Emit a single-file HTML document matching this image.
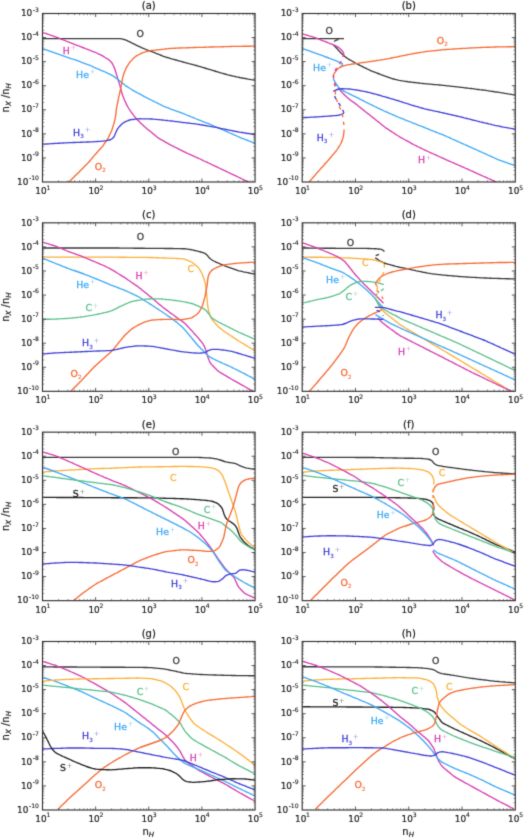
<!DOCTYPE html><html><head><meta charset="utf-8"><style>html,body{margin:0;padding:0;background:#fff;}svg{display:block;}text{font-family:"DejaVu Sans","Liberation Sans",sans-serif;}</style></head><body>
<div id="w">
<svg width="525" height="839" viewBox="0 0 525 839">
<rect width="525" height="839" fill="#fff"/>
<filter id="bl" x="0" y="0" width="525" height="839" filterUnits="userSpaceOnUse" color-interpolation-filters="sRGB"><feConvolveMatrix order="3" kernelMatrix="0.01690 0.09620 0.01690 0.09620 0.54760 0.09620 0.01690 0.09620 0.01690" divisor="1" edgeMode="none"/></filter>
<g filter="url(#bl)">
<g>
<clipPath id="ca"><rect x="42.50" y="13.50" width="212.55" height="168.50"/></clipPath>
<g clip-path="url(#ca)" fill="none" stroke-width="1.35" stroke-linejoin="round" stroke-linecap="butt">
<path d="M42.0 38.6 L43.5 38.6 L45.0 38.6 L46.5 38.6 L48.0 38.6 L49.5 38.6 L51.0 38.6 L52.5 38.6 L54.0 38.6 L55.5 38.6 L57.0 38.6 L58.5 38.6 L60.0 38.6 L61.5 38.6 L63.0 38.6 L64.5 38.6 L66.0 38.6 L67.5 38.6 L69.0 38.6 L70.5 38.6 L72.0 38.6 L73.5 38.6 L75.0 38.6 L76.5 38.6 L78.0 38.6 L79.5 38.6 L81.0 38.6 L82.5 38.6 L84.0 38.6 L85.5 38.6 L87.0 38.6 L88.5 38.6 L90.0 38.6 L91.5 38.6 L93.0 38.6 L94.5 38.6 L96.0 38.6 L97.5 38.6 L99.0 38.6 L100.5 38.6 L102.0 38.6 L103.5 38.6 L105.0 38.6 L106.5 38.6 L108.0 38.6 L109.5 38.6 L111.0 38.6 L112.5 38.6 L114.0 38.6 L115.5 38.6 L117.0 38.6 L118.5 38.6 L120.0 38.7 L121.5 38.9 L122.9 39.2 L124.4 39.6 L125.8 40.0 L127.2 40.6 L128.5 41.3 L129.9 41.9 L131.2 42.6 L132.6 43.3 L133.9 43.9 L135.2 44.6 L136.6 45.3 L137.9 45.9 L139.3 46.6 L140.7 47.2 L142.0 47.8 L143.4 48.4 L144.8 49.0 L146.2 49.6 L147.6 50.1 L149.0 50.6 L150.4 51.1 L151.8 51.6 L153.2 52.2 L154.6 52.7 L156.0 53.3 L157.4 53.8 L158.8 54.4 L160.2 55.0 L161.6 55.5 L162.9 56.1 L164.3 56.6 L165.8 57.1 L167.2 57.5 L168.6 57.9 L170.1 58.3 L171.5 58.8 L173.0 59.2 L174.4 59.6 L175.9 60.0 L177.3 60.4 L178.7 60.8 L180.2 61.2 L181.6 61.6 L183.1 62.0 L184.5 62.4 L186.0 62.8 L187.4 63.2 L188.9 63.6 L190.3 63.9 L191.8 64.3 L193.2 64.7 L194.7 65.1 L196.1 65.5 L197.6 65.9 L199.0 66.3 L200.4 66.7 L201.9 67.2 L203.3 67.6 L204.8 68.0 L206.2 68.5 L207.6 68.9 L209.1 69.3 L210.5 69.7 L211.9 70.2 L213.4 70.6 L214.8 71.0 L216.2 71.5 L217.7 71.9 L219.1 72.3 L220.6 72.8 L222.0 73.2 L223.4 73.6 L224.9 74.0 L226.3 74.4 L227.8 74.8 L229.2 75.1 L230.7 75.5 L232.2 75.8 L233.6 76.2 L235.1 76.5 L236.5 76.9 L238.0 77.2 L239.5 77.5 L240.9 77.8 L242.4 78.0 L243.9 78.3 L245.4 78.5 L246.9 78.8 L248.3 79.1 L249.8 79.3 L251.3 79.6 L252.8 79.8 L254.2 80.1 L255.7 80.4" stroke="#3a3a3a"/>
<path d="M42.0 32.3 L43.4 32.8 L44.8 33.2 L46.3 33.7 L47.7 34.2 L49.1 34.7 L50.5 35.1 L52.0 35.6 L53.4 36.1 L54.8 36.6 L56.2 37.1 L57.6 37.6 L59.0 38.2 L60.4 38.8 L61.8 39.3 L63.2 39.9 L64.6 40.4 L66.0 41.0 L67.4 41.6 L68.7 42.1 L70.1 42.7 L71.5 43.2 L72.9 43.7 L74.3 44.3 L75.7 44.8 L77.1 45.3 L78.5 45.9 L79.9 46.4 L81.3 47.0 L82.7 47.5 L84.1 48.0 L85.5 48.6 L86.9 49.1 L88.3 49.7 L89.7 50.2 L91.1 50.8 L92.5 51.3 L93.9 51.9 L95.3 52.4 L96.7 53.0 L98.0 53.7 L99.4 54.3 L100.8 54.9 L102.1 55.6 L103.4 56.4 L104.7 57.2 L105.9 58.0 L107.2 58.7 L108.5 59.6 L109.6 60.5 L110.7 61.5 L111.7 62.6 L112.5 63.9 L113.1 65.2 L113.8 66.6 L114.4 67.9 L114.9 69.3 L115.4 70.8 L115.8 72.2 L116.2 73.6 L116.7 75.1 L117.1 76.5 L117.5 77.9 L118.0 79.4 L118.4 80.8 L118.9 82.2 L119.3 83.7 L119.8 85.1 L120.2 86.6 L120.5 88.0 L120.9 89.5 L121.3 90.9 L121.7 92.3 L122.2 93.8 L122.6 95.2 L123.2 96.6 L123.7 98.0 L124.3 99.4 L124.8 100.8 L125.5 102.1 L126.1 103.5 L126.7 104.9 L127.5 106.2 L128.2 107.5 L129.0 108.8 L129.8 110.0 L130.6 111.3 L131.5 112.5 L132.4 113.7 L133.3 114.9 L134.2 116.1 L135.1 117.3 L136.1 118.4 L137.1 119.5 L138.1 120.6 L139.2 121.6 L140.3 122.7 L141.4 123.7 L142.5 124.7 L143.6 125.8 L144.7 126.8 L145.8 127.7 L147.0 128.7 L148.1 129.7 L149.3 130.6 L150.4 131.5 L151.6 132.5 L152.8 133.4 L153.9 134.4 L155.1 135.3 L156.2 136.3 L157.4 137.2 L158.6 138.1 L159.9 138.9 L161.2 139.7 L162.5 140.4 L163.8 141.1 L165.1 141.9 L166.4 142.6 L167.7 143.3 L169.0 144.1 L170.4 144.8 L171.7 145.5 L173.0 146.2 L174.3 146.9 L175.7 147.5 L177.0 148.2 L178.4 148.9 L179.7 149.6 L181.0 150.2 L182.4 150.9 L183.7 151.6 L185.1 152.2 L186.4 152.8 L187.8 153.5 L189.2 154.1 L190.5 154.7 L191.9 155.3 L193.3 155.9 L194.6 156.6 L196.0 157.2 L197.4 157.8 L198.7 158.4 L200.1 159.0 L201.5 159.7 L202.8 160.3 L204.2 161.0 L205.5 161.6 L206.9 162.2 L208.2 162.9 L209.6 163.5 L211.0 164.2 L212.3 164.8 L213.7 165.4 L215.0 166.1 L216.4 166.7 L217.7 167.4 L219.1 168.0 L220.5 168.6 L221.8 169.3 L223.2 169.9 L224.5 170.6 L225.9 171.2 L227.2 171.9 L228.6 172.5 L229.9 173.1 L231.3 173.8 L232.7 174.4 L234.0 175.1 L235.4 175.7 L236.7 176.4 L238.1 177.0 L239.4 177.7 L240.8 178.3 L242.1 179.0 L243.5 179.6 L244.8 180.3 L246.2 180.9 L247.5 181.6 L248.8 182.3 L250.2 183.0 L251.5 183.7 L251.9 184.0" stroke="#d63fae"/>
<path d="M42.0 48.3 L43.4 48.8 L44.8 49.3 L46.2 49.8 L47.7 50.3 L49.1 50.8 L50.5 51.3 L51.9 51.8 L53.3 52.3 L54.7 52.8 L56.1 53.3 L57.6 53.8 L59.0 54.3 L60.4 54.8 L61.8 55.3 L63.2 55.8 L64.6 56.3 L66.0 56.8 L67.4 57.3 L68.9 57.8 L70.3 58.3 L71.7 58.8 L73.1 59.2 L74.6 59.7 L76.0 60.2 L77.4 60.7 L78.8 61.2 L80.2 61.7 L81.6 62.3 L83.0 62.8 L84.4 63.3 L85.8 63.8 L87.2 64.4 L88.6 64.9 L90.0 65.4 L91.4 66.0 L92.8 66.7 L94.1 67.3 L95.5 67.9 L96.9 68.5 L98.3 69.1 L99.6 69.7 L101.0 70.3 L102.4 70.8 L103.8 71.4 L105.2 72.0 L106.5 72.6 L107.9 73.3 L109.2 73.9 L110.6 74.6 L111.9 75.3 L113.2 76.0 L114.4 76.9 L115.6 77.8 L116.8 78.7 L118.0 79.6 L119.2 80.5 L120.4 81.5 L121.5 82.4 L122.7 83.4 L123.9 84.3 L125.0 85.2 L126.3 86.1 L127.5 86.9 L128.8 87.7 L130.0 88.5 L131.3 89.3 L132.6 90.1 L133.9 90.8 L135.2 91.6 L136.5 92.3 L137.8 93.0 L139.2 93.7 L140.5 94.4 L141.8 95.2 L143.1 95.9 L144.4 96.6 L145.8 97.3 L147.1 98.0 L148.4 98.7 L149.8 99.4 L151.1 100.0 L152.4 100.7 L153.8 101.4 L155.1 102.0 L156.5 102.7 L157.8 103.3 L159.2 104.0 L160.5 104.7 L161.9 105.3 L163.2 106.0 L164.6 106.6 L165.9 107.2 L167.4 107.7 L168.8 108.2 L170.2 108.8 L171.6 109.3 L173.0 109.8 L174.4 110.3 L175.8 110.8 L177.2 111.3 L178.6 111.8 L180.1 112.3 L181.5 112.8 L182.9 113.4 L184.2 113.9 L185.6 114.5 L187.0 115.1 L188.4 115.6 L189.8 116.2 L191.2 116.8 L192.6 117.3 L194.0 117.9 L195.3 118.5 L196.7 119.1 L198.1 119.6 L199.5 120.2 L200.9 120.7 L202.3 121.3 L203.7 121.8 L205.1 122.4 L206.5 122.9 L207.9 123.5 L209.3 124.0 L210.7 124.6 L212.1 125.2 L213.4 125.8 L214.8 126.4 L216.2 127.0 L217.5 127.6 L218.9 128.2 L220.3 128.8 L221.7 129.4 L223.0 130.0 L224.4 130.6 L225.8 131.2 L227.2 131.8 L228.5 132.4 L229.9 133.0 L231.3 133.6 L232.7 134.2 L234.0 134.8 L235.4 135.4 L236.8 136.0 L238.2 136.6 L239.5 137.2 L240.9 137.8 L242.3 138.3 L243.7 138.9 L245.1 139.4 L246.5 140.0 L247.9 140.5 L249.3 141.1 L250.7 141.7 L252.1 142.2 L253.5 142.8 L254.9 143.3 L255.8 143.7" stroke="#3fa9f5"/>
<path d="M68.5 182.5 L69.6 181.4 L70.6 180.4 L71.7 179.3 L72.7 178.3 L73.8 177.2 L74.9 176.1 L75.9 175.1 L77.0 174.0 L78.0 173.0 L79.1 171.9 L80.2 170.8 L81.2 169.8 L82.3 168.7 L83.3 167.7 L84.4 166.6 L85.5 165.5 L86.5 164.5 L87.6 163.4 L88.6 162.3 L89.6 161.2 L90.6 160.0 L91.5 158.9 L92.5 157.7 L93.4 156.6 L94.4 155.4 L95.4 154.3 L96.4 153.2 L97.4 152.0 L98.4 150.9 L99.4 149.8 L100.4 148.7 L101.4 147.6 L102.4 146.5 L103.3 145.3 L104.1 144.0 L105.0 142.8 L105.9 141.6 L106.8 140.4 L107.5 139.1 L108.2 137.8 L108.9 136.4 L109.5 135.1 L110.2 133.7 L110.8 132.4 L111.5 131.0 L112.0 129.6 L112.5 128.2 L112.9 126.8 L113.4 125.3 L113.8 123.9 L114.2 122.5 L114.6 121.0 L115.0 119.6 L115.2 118.1 L115.5 116.6 L115.7 115.1 L115.9 113.6 L116.1 112.1 L116.2 110.7 L116.4 109.2 L116.6 107.7 L116.9 106.2 L117.2 104.7 L117.5 103.3 L117.8 101.8 L118.1 100.3 L118.4 98.9 L118.7 97.4 L119.0 95.9 L119.4 94.5 L119.7 93.0 L120.0 91.5 L120.4 90.1 L120.7 88.6 L121.0 87.1 L121.3 85.7 L121.5 84.2 L121.8 82.7 L122.0 81.2 L122.3 79.8 L122.5 78.3 L122.9 76.8 L123.3 75.4 L123.8 74.0 L124.3 72.6 L124.8 71.2 L125.4 69.8 L126.0 68.4 L126.7 67.1 L127.5 65.8 L128.3 64.5 L129.1 63.3 L129.9 62.1 L130.9 60.9 L132.0 59.9 L133.0 58.8 L134.1 57.7 L135.2 56.8 L136.4 55.9 L137.7 55.2 L139.1 54.5 L140.4 53.8 L141.7 53.1 L143.1 52.6 L144.5 52.2 L146.0 51.7 L147.4 51.3 L148.9 50.9 L150.3 50.7 L151.8 50.5 L153.3 50.3 L154.8 50.1 L156.3 50.0 L157.8 49.8 L159.3 49.6 L160.8 49.5 L162.3 49.3 L163.8 49.2 L165.2 49.0 L166.7 48.9 L168.2 48.7 L169.7 48.5 L171.2 48.4 L172.7 48.3 L174.2 48.2 L175.7 48.2 L177.2 48.1 L178.7 48.0 L180.2 48.0 L181.7 47.9 L183.2 47.9 L184.7 47.8 L186.2 47.8 L187.7 47.7 L189.2 47.7 L190.7 47.6 L192.2 47.6 L193.7 47.5 L195.2 47.5 L196.7 47.4 L198.2 47.4 L199.7 47.4 L201.2 47.3 L202.7 47.3 L204.2 47.2 L205.7 47.2 L207.2 47.1 L208.7 47.1 L210.2 47.0 L211.7 47.0 L213.2 47.0 L214.7 46.9 L216.2 46.9 L217.7 46.8 L219.2 46.8 L220.7 46.8 L222.2 46.7 L223.7 46.7 L225.2 46.6 L226.7 46.6 L228.2 46.6 L229.7 46.5 L231.2 46.5 L232.7 46.4 L234.2 46.4 L235.7 46.4 L237.2 46.3 L238.7 46.3 L240.2 46.3 L241.7 46.3 L243.2 46.2 L244.7 46.2 L246.2 46.2 L247.7 46.2 L249.2 46.2 L250.7 46.2 L252.2 46.1 L253.7 46.1 L255.2 46.1 L255.7 46.1" stroke="#f56a35"/>
<path d="M42.0 144.3 L43.5 144.2 L45.0 144.1 L46.5 144.0 L48.0 143.9 L49.5 143.8 L51.0 143.7 L52.5 143.6 L54.0 143.5 L55.5 143.4 L57.0 143.3 L58.5 143.2 L60.0 143.2 L61.5 143.1 L63.0 143.0 L64.5 142.9 L66.0 142.8 L67.5 142.8 L69.0 142.7 L70.5 142.6 L71.9 142.6 L73.4 142.5 L74.9 142.5 L76.4 142.4 L77.9 142.4 L79.4 142.3 L80.9 142.2 L82.4 142.2 L83.9 142.1 L85.4 142.1 L86.9 142.0 L88.4 142.0 L89.9 141.9 L91.4 141.8 L92.9 141.8 L94.4 141.7 L95.9 141.6 L97.4 141.5 L98.9 141.4 L100.4 141.3 L101.9 141.2 L103.4 141.1 L104.9 140.9 L106.4 140.7 L107.8 140.4 L109.3 140.0 L110.7 139.5 L112.0 138.8 L113.1 137.8 L114.0 136.7 L114.7 135.3 L115.2 134.0 L115.8 132.6 L116.4 131.2 L117.0 129.9 L117.8 128.6 L118.7 127.4 L119.7 126.3 L120.7 125.2 L121.8 124.1 L122.9 123.2 L124.1 122.4 L125.5 121.7 L126.8 121.1 L128.2 120.5 L129.6 120.0 L131.0 119.7 L132.5 119.5 L134.0 119.3 L135.5 119.1 L137.0 118.9 L138.5 118.8 L140.0 118.7 L141.5 118.8 L143.0 118.8 L144.5 118.8 L146.0 118.9 L147.5 118.9 L149.0 118.9 L150.5 119.0 L152.0 119.0 L153.5 119.2 L155.0 119.3 L156.5 119.4 L157.9 119.6 L159.4 119.7 L160.9 119.9 L162.4 120.0 L163.9 120.2 L165.4 120.3 L166.9 120.5 L168.4 120.7 L169.9 120.8 L171.4 121.0 L172.9 121.2 L174.3 121.4 L175.8 121.6 L177.3 121.7 L178.8 121.9 L180.3 122.1 L181.8 122.3 L183.3 122.5 L184.8 122.6 L186.3 122.8 L187.7 123.0 L189.2 123.2 L190.7 123.4 L192.2 123.6 L193.7 123.7 L195.2 123.9 L196.7 124.1 L198.2 124.3 L199.6 124.5 L201.1 124.8 L202.6 125.0 L204.1 125.3 L205.6 125.5 L207.0 125.8 L208.5 126.1 L210.0 126.3 L211.5 126.6 L212.9 126.9 L214.4 127.2 L215.9 127.4 L217.4 127.7 L218.8 128.0 L220.3 128.3 L221.8 128.6 L223.2 128.9 L224.7 129.2 L226.2 129.5 L227.7 129.8 L229.1 130.1 L230.6 130.4 L232.1 130.7 L233.5 131.0 L235.0 131.3 L236.5 131.5 L238.0 131.8 L239.4 132.1 L240.9 132.3 L242.4 132.5 L243.9 132.8 L245.4 133.0 L246.8 133.3 L248.3 133.5 L249.8 133.7 L251.3 134.0 L252.8 134.2 L254.3 134.4 L255.7 134.7" stroke="#4040d8"/>
</g>
<path d="M95.64 182.00 v-3.50 M95.64 13.50 v3.50 M148.78 182.00 v-3.50 M148.78 13.50 v3.50 M201.91 182.00 v-3.50 M201.91 13.50 v3.50 M42.50 157.93 h3.50 M255.05 157.93 h-3.50 M42.50 133.86 h3.50 M255.05 133.86 h-3.50 M42.50 109.79 h3.50 M255.05 109.79 h-3.50 M42.50 85.71 h3.50 M255.05 85.71 h-3.50 M42.50 61.64 h3.50 M255.05 61.64 h-3.50 M42.50 37.57 h3.50 M255.05 37.57 h-3.50" stroke="#333" stroke-width="0.8" fill="none"/>
<path d="M58.50 182.00 v-1.80 M58.50 13.50 v1.80 M67.85 182.00 v-1.80 M67.85 13.50 v1.80 M74.49 182.00 v-1.80 M74.49 13.50 v1.80 M79.64 182.00 v-1.80 M79.64 13.50 v1.80 M83.85 182.00 v-1.80 M83.85 13.50 v1.80 M87.41 182.00 v-1.80 M87.41 13.50 v1.80 M90.49 182.00 v-1.80 M90.49 13.50 v1.80 M93.21 182.00 v-1.80 M93.21 13.50 v1.80 M111.63 182.00 v-1.80 M111.63 13.50 v1.80 M120.99 182.00 v-1.80 M120.99 13.50 v1.80 M127.63 182.00 v-1.80 M127.63 13.50 v1.80 M132.78 182.00 v-1.80 M132.78 13.50 v1.80 M136.99 182.00 v-1.80 M136.99 13.50 v1.80 M140.54 182.00 v-1.80 M140.54 13.50 v1.80 M143.63 182.00 v-1.80 M143.63 13.50 v1.80 M146.34 182.00 v-1.80 M146.34 13.50 v1.80 M164.77 182.00 v-1.80 M164.77 13.50 v1.80 M174.13 182.00 v-1.80 M174.13 13.50 v1.80 M180.77 182.00 v-1.80 M180.77 13.50 v1.80 M185.92 182.00 v-1.80 M185.92 13.50 v1.80 M190.12 182.00 v-1.80 M190.12 13.50 v1.80 M193.68 182.00 v-1.80 M193.68 13.50 v1.80 M196.76 182.00 v-1.80 M196.76 13.50 v1.80 M199.48 182.00 v-1.80 M199.48 13.50 v1.80 M217.91 182.00 v-1.80 M217.91 13.50 v1.80 M227.27 182.00 v-1.80 M227.27 13.50 v1.80 M233.90 182.00 v-1.80 M233.90 13.50 v1.80 M239.05 182.00 v-1.80 M239.05 13.50 v1.80 M243.26 182.00 v-1.80 M243.26 13.50 v1.80 M246.82 182.00 v-1.80 M246.82 13.50 v1.80 M249.90 182.00 v-1.80 M249.90 13.50 v1.80 M252.62 182.00 v-1.80 M252.62 13.50 v1.80 M42.50 174.75 h1.80 M255.05 174.75 h-1.80 M42.50 170.52 h1.80 M255.05 170.52 h-1.80 M42.50 167.51 h1.80 M255.05 167.51 h-1.80 M42.50 165.17 h1.80 M255.05 165.17 h-1.80 M42.50 163.27 h1.80 M255.05 163.27 h-1.80 M42.50 161.66 h1.80 M255.05 161.66 h-1.80 M42.50 160.26 h1.80 M255.05 160.26 h-1.80 M42.50 159.03 h1.80 M255.05 159.03 h-1.80 M42.50 150.68 h1.80 M255.05 150.68 h-1.80 M42.50 146.44 h1.80 M255.05 146.44 h-1.80 M42.50 143.44 h1.80 M255.05 143.44 h-1.80 M42.50 141.10 h1.80 M255.05 141.10 h-1.80 M42.50 139.20 h1.80 M255.05 139.20 h-1.80 M42.50 137.59 h1.80 M255.05 137.59 h-1.80 M42.50 136.19 h1.80 M255.05 136.19 h-1.80 M42.50 134.96 h1.80 M255.05 134.96 h-1.80 M42.50 126.61 h1.80 M255.05 126.61 h-1.80 M42.50 122.37 h1.80 M255.05 122.37 h-1.80 M42.50 119.36 h1.80 M255.05 119.36 h-1.80 M42.50 117.03 h1.80 M255.05 117.03 h-1.80 M42.50 115.13 h1.80 M255.05 115.13 h-1.80 M42.50 113.51 h1.80 M255.05 113.51 h-1.80 M42.50 112.12 h1.80 M255.05 112.12 h-1.80 M42.50 110.89 h1.80 M255.05 110.89 h-1.80 M42.50 102.54 h1.80 M255.05 102.54 h-1.80 M42.50 98.30 h1.80 M255.05 98.30 h-1.80 M42.50 95.29 h1.80 M255.05 95.29 h-1.80 M42.50 92.96 h1.80 M255.05 92.96 h-1.80 M42.50 91.05 h1.80 M255.05 91.05 h-1.80 M42.50 89.44 h1.80 M255.05 89.44 h-1.80 M42.50 88.05 h1.80 M255.05 88.05 h-1.80 M42.50 86.82 h1.80 M255.05 86.82 h-1.80 M42.50 78.47 h1.80 M255.05 78.47 h-1.80 M42.50 74.23 h1.80 M255.05 74.23 h-1.80 M42.50 71.22 h1.80 M255.05 71.22 h-1.80 M42.50 68.89 h1.80 M255.05 68.89 h-1.80 M42.50 66.98 h1.80 M255.05 66.98 h-1.80 M42.50 65.37 h1.80 M255.05 65.37 h-1.80 M42.50 63.98 h1.80 M255.05 63.98 h-1.80 M42.50 62.74 h1.80 M255.05 62.74 h-1.80 M42.50 54.40 h1.80 M255.05 54.40 h-1.80 M42.50 50.16 h1.80 M255.05 50.16 h-1.80 M42.50 47.15 h1.80 M255.05 47.15 h-1.80 M42.50 44.82 h1.80 M255.05 44.82 h-1.80 M42.50 42.91 h1.80 M255.05 42.91 h-1.80 M42.50 41.30 h1.80 M255.05 41.30 h-1.80 M42.50 39.90 h1.80 M255.05 39.90 h-1.80 M42.50 38.67 h1.80 M255.05 38.67 h-1.80 M42.50 30.33 h1.80 M255.05 30.33 h-1.80 M42.50 26.09 h1.80 M255.05 26.09 h-1.80 M42.50 23.08 h1.80 M255.05 23.08 h-1.80 M42.50 20.75 h1.80 M255.05 20.75 h-1.80 M42.50 18.84 h1.80 M255.05 18.84 h-1.80 M42.50 17.23 h1.80 M255.05 17.23 h-1.80 M42.50 15.83 h1.80 M255.05 15.83 h-1.80 M42.50 14.60 h1.80 M255.05 14.60 h-1.80" stroke="#555" stroke-width="0.6" fill="none"/>
<rect x="42.50" y="13.50" width="212.55" height="168.50" fill="none" stroke="#333" stroke-width="1.15"/>
<text x="38.90" y="16.20" font-size="8.9" font-family="DejaVu Serif, Liberation Serif, serif" text-anchor="end" fill="#1a1a1a" stroke="#1a1a1a" stroke-width="0.2">10<tspan font-size="6.1" dx="0.6" dy="-4.5" stroke-width="0.12">-3</tspan></text>
<text x="38.90" y="40.27" font-size="8.9" font-family="DejaVu Serif, Liberation Serif, serif" text-anchor="end" fill="#1a1a1a" stroke="#1a1a1a" stroke-width="0.2">10<tspan font-size="6.1" dx="0.6" dy="-4.5" stroke-width="0.12">-4</tspan></text>
<text x="38.90" y="64.34" font-size="8.9" font-family="DejaVu Serif, Liberation Serif, serif" text-anchor="end" fill="#1a1a1a" stroke="#1a1a1a" stroke-width="0.2">10<tspan font-size="6.1" dx="0.6" dy="-4.5" stroke-width="0.12">-5</tspan></text>
<text x="38.90" y="88.41" font-size="8.9" font-family="DejaVu Serif, Liberation Serif, serif" text-anchor="end" fill="#1a1a1a" stroke="#1a1a1a" stroke-width="0.2">10<tspan font-size="6.1" dx="0.6" dy="-4.5" stroke-width="0.12">-6</tspan></text>
<text x="38.90" y="112.49" font-size="8.9" font-family="DejaVu Serif, Liberation Serif, serif" text-anchor="end" fill="#1a1a1a" stroke="#1a1a1a" stroke-width="0.2">10<tspan font-size="6.1" dx="0.6" dy="-4.5" stroke-width="0.12">-7</tspan></text>
<text x="38.90" y="136.56" font-size="8.9" font-family="DejaVu Serif, Liberation Serif, serif" text-anchor="end" fill="#1a1a1a" stroke="#1a1a1a" stroke-width="0.2">10<tspan font-size="6.1" dx="0.6" dy="-4.5" stroke-width="0.12">-8</tspan></text>
<text x="38.90" y="160.63" font-size="8.9" font-family="DejaVu Serif, Liberation Serif, serif" text-anchor="end" fill="#1a1a1a" stroke="#1a1a1a" stroke-width="0.2">10<tspan font-size="6.1" dx="0.6" dy="-4.5" stroke-width="0.12">-9</tspan></text>
<text x="38.90" y="184.70" font-size="8.9" font-family="DejaVu Serif, Liberation Serif, serif" text-anchor="end" fill="#1a1a1a" stroke="#1a1a1a" stroke-width="0.2">10<tspan font-size="6.1" dx="0.6" dy="-4.5" stroke-width="0.12">-10</tspan></text>
<text x="42.80" y="193.90" font-size="8.9" font-family="DejaVu Serif, Liberation Serif, serif" text-anchor="middle" fill="#1a1a1a" stroke="#1a1a1a" stroke-width="0.2">10<tspan font-size="6.1" dx="-0.2" dy="-4.4" stroke-width="0.12">1</tspan></text>
<text x="95.94" y="193.90" font-size="8.9" font-family="DejaVu Serif, Liberation Serif, serif" text-anchor="middle" fill="#1a1a1a" stroke="#1a1a1a" stroke-width="0.2">10<tspan font-size="6.1" dx="-0.2" dy="-4.4" stroke-width="0.12">2</tspan></text>
<text x="149.08" y="193.90" font-size="8.9" font-family="DejaVu Serif, Liberation Serif, serif" text-anchor="middle" fill="#1a1a1a" stroke="#1a1a1a" stroke-width="0.2">10<tspan font-size="6.1" dx="-0.2" dy="-4.4" stroke-width="0.12">3</tspan></text>
<text x="202.21" y="193.90" font-size="8.9" font-family="DejaVu Serif, Liberation Serif, serif" text-anchor="middle" fill="#1a1a1a" stroke="#1a1a1a" stroke-width="0.2">10<tspan font-size="6.1" dx="-0.2" dy="-4.4" stroke-width="0.12">4</tspan></text>
<text x="255.35" y="193.90" font-size="8.9" font-family="DejaVu Serif, Liberation Serif, serif" text-anchor="middle" fill="#1a1a1a" stroke="#1a1a1a" stroke-width="0.2">10<tspan font-size="6.1" dx="-0.2" dy="-4.4" stroke-width="0.12">5</tspan></text>
<text x="148.78" y="9.10" font-size="10" text-anchor="middle" fill="#1a1a1a" stroke="#1a1a1a" stroke-width="0.2">(a)</text>
<text transform="translate(9.2 97.75) rotate(-90)" font-size="10" text-anchor="middle" fill="#1a1a1a" stroke="#1a1a1a" stroke-width="0.2">n<tspan font-size="7" font-style="italic" dy="2.2">X</tspan><tspan dy="-2.2"> /n</tspan><tspan font-size="7" font-style="italic" dy="2.2">H</tspan></text>
<text x="136.60" y="37.10" font-size="9.4" fill="#3a3a3a" stroke="#3a3a3a" stroke-width="0.3">O</text>
<text x="62.80" y="53.70" font-size="9.4" fill="#d63fae" stroke="#d63fae" stroke-width="0.3">H<tspan font-size="7.05" font-weight="200" stroke="none" fill-opacity="0.85" dx="0.5" dy="-3.6">+</tspan></text>
<text x="76.10" y="77.80" font-size="9.4" fill="#3fa9f5" stroke="#3fa9f5" stroke-width="0.3">He<tspan font-size="7.05" font-weight="200" stroke="none" fill-opacity="0.85" dx="0.5" dy="-3.6">+</tspan></text>
<text x="73.00" y="135.60" font-size="9.4" fill="#4040d8" stroke="#4040d8" stroke-width="0.3">H<tspan font-size="5.64" stroke-width="0.15" dx="0.1" dy="2.4">3</tspan><tspan font-size="7.05" font-weight="200" stroke="none" fill-opacity="0.85" dx="0.7" dy="-6.0">+</tspan></text>
<text x="94.80" y="170.00" font-size="9.4" fill="#f56a35" stroke="#f56a35" stroke-width="0.3">O<tspan font-size="5.64" stroke-width="0.15" dx="0.1" dy="2.4">2</tspan></text>
</g>
<g>
<clipPath id="cb"><rect x="302.20" y="13.50" width="213.10" height="168.50"/></clipPath>
<g clip-path="url(#cb)" fill="none" stroke-width="1.35" stroke-linejoin="round" stroke-linecap="butt">
<path d="M302.00 38.60 C316.00 38.60 330.00 38.60 344.00 38.60" stroke="#3a3a3a"/>
<path d="M333.3 44.7 L334.3 45.8 L335.4 46.9 L336.4 48.0 L337.4 49.1 L338.4 50.2 L339.4 51.3 L340.4 52.4 L341.5 53.5 L342.6 54.5 L343.7 55.5 L344.8 56.5 L346.0 57.4 L347.2 58.3 L348.5 59.1 L349.8 59.8 L351.1 60.5 L352.4 61.3 L353.7 62.0 L355.0 62.8 L356.3 63.5 L357.6 64.2 L359.0 64.9 L360.3 65.6 L361.6 66.2 L363.0 66.9 L364.3 67.6 L365.7 68.2 L367.0 68.9 L368.4 69.5 L369.7 70.2 L371.1 70.8 L372.5 71.4 L373.9 71.9 L375.3 72.4 L376.7 73.0 L378.1 73.5 L379.5 74.0 L380.9 74.6 L382.3 75.1 L383.7 75.7 L385.1 76.2 L386.5 76.7 L387.9 77.2 L389.3 77.7 L390.8 78.2 L392.2 78.6 L393.6 79.0 L395.1 79.4 L396.5 79.7 L398.0 80.1 L399.5 80.4 L400.9 80.6 L402.4 80.9 L403.9 81.1 L405.4 81.3 L406.9 81.5 L408.4 81.8 L409.8 82.0 L411.3 82.2 L412.8 82.4 L414.3 82.5 L415.8 82.7 L417.3 82.9 L418.8 83.0 L420.3 83.2 L421.8 83.3 L423.3 83.5 L424.8 83.6 L426.2 83.8 L427.7 83.9 L429.2 84.1 L430.7 84.2 L432.2 84.3 L433.7 84.5 L435.2 84.6 L436.7 84.7 L438.2 84.9 L439.7 85.0 L441.2 85.1 L442.7 85.3 L444.2 85.4 L445.7 85.6 L447.2 85.8 L448.6 85.9 L450.1 86.1 L451.6 86.3 L453.1 86.4 L454.6 86.6 L456.1 86.8 L457.6 86.9 L459.1 87.1 L460.6 87.3 L462.1 87.4 L463.5 87.6 L465.0 87.8 L466.5 88.0 L468.0 88.2 L469.5 88.3 L471.0 88.5 L472.5 88.7 L474.0 88.9 L475.5 89.1 L476.9 89.3 L478.4 89.5 L479.9 89.7 L481.4 89.8 L482.9 90.0 L484.4 90.2 L485.9 90.4 L487.4 90.7 L488.8 90.9 L490.3 91.1 L491.8 91.3 L493.3 91.5 L494.8 91.8 L496.3 92.0 L497.7 92.2 L499.2 92.4 L500.7 92.7 L502.2 92.9 L503.7 93.1 L505.1 93.4 L506.6 93.6 L508.1 93.9 L509.6 94.1 L511.1 94.3 L512.6 94.6 L514.0 94.8 L515.5 95.0" stroke="#3a3a3a"/>
<path d="M334.0 41.5 L335.3 40.7 L336.6 40.0 L338.0 39.6 L338.5 39.4" stroke="#3a3a3a"/>
<path d="M302.0 33.7 L303.4 34.1 L304.9 34.6 L306.3 35.0 L307.7 35.4 L309.2 35.9 L310.6 36.3 L312.1 36.7 L313.5 37.2 L314.9 37.6 L316.3 38.1 L317.7 38.7 L319.1 39.2 L320.5 39.8 L321.9 40.3 L323.3 40.9 L324.7 41.4 L326.1 42.0 L327.5 42.5 L328.9 43.1 L330.3 43.6 L331.7 44.1 L333.1 44.7 L334.5 45.3 L335.8 45.9 L337.1 46.6 L338.4 47.4 L339.6 48.3 L340.7 49.3 L341.8 50.3 L342.7 51.5 L343.5 52.8 L344.0 53.6" stroke="#d63fae"/>
<path d="M338.0 87.8 L339.0 88.9 L340.0 90.0 L341.0 91.2 L342.0 92.3 L343.0 93.4 L344.1 94.5 L345.1 95.5 L346.2 96.6 L347.3 97.6 L348.5 98.5 L349.6 99.5 L350.8 100.4 L352.0 101.2 L353.3 102.1 L354.5 103.0 L355.7 103.9 L356.9 104.8 L358.0 105.7 L359.2 106.7 L360.4 107.6 L361.5 108.6 L362.7 109.5 L363.9 110.4 L365.1 111.4 L366.2 112.3 L367.4 113.2 L368.6 114.1 L369.8 115.1 L371.0 116.0 L372.1 116.9 L373.3 117.9 L374.5 118.8 L375.6 119.7 L376.8 120.7 L378.0 121.6 L379.2 122.6 L380.3 123.5 L381.5 124.4 L382.7 125.4 L383.8 126.3 L385.0 127.2 L386.2 128.1 L387.5 128.9 L388.7 129.8 L390.0 130.6 L391.2 131.4 L392.5 132.2 L393.8 133.0 L395.0 133.9 L396.3 134.7 L397.5 135.5 L398.8 136.3 L400.1 137.1 L401.4 137.8 L402.7 138.5 L404.0 139.3 L405.3 140.0 L406.6 140.7 L407.9 141.4 L409.3 142.2 L410.6 142.9 L411.9 143.6 L413.2 144.3 L414.6 145.0 L415.9 145.6 L417.2 146.3 L418.6 147.0 L419.9 147.6 L421.3 148.3 L422.6 149.0 L424.0 149.6 L425.3 150.3 L426.7 150.9 L428.0 151.5 L429.4 152.2 L430.8 152.8 L432.1 153.4 L433.5 154.0 L434.9 154.6 L436.2 155.2 L437.6 155.9 L439.0 156.5 L440.3 157.1 L441.7 157.7 L443.1 158.3 L444.4 158.9 L445.8 159.6 L447.2 160.2 L448.6 160.8 L449.9 161.4 L451.3 162.0 L452.7 162.6 L454.1 163.2 L455.4 163.8 L456.8 164.4 L458.2 165.0 L459.6 165.6 L460.9 166.2 L462.3 166.8 L463.7 167.4 L465.0 168.0 L466.4 168.6 L467.8 169.2 L469.1 169.9 L470.5 170.5 L471.9 171.1 L473.3 171.7 L474.6 172.3 L476.0 172.9 L477.4 173.6 L478.7 174.2 L480.1 174.8 L481.5 175.4 L482.8 176.0 L484.2 176.6 L485.6 177.2 L486.9 177.8 L488.3 178.5 L489.7 179.1 L491.1 179.7 L492.4 180.3 L493.8 180.9 L495.2 181.5 L496.6 182.1 L497.9 182.6 L499.3 183.2 L499.8 183.4" stroke="#d63fae"/>
<path d="M302.0 48.3 L303.4 48.8 L304.8 49.3 L306.2 49.8 L307.7 50.3 L309.1 50.8 L310.5 51.3 L311.9 51.8 L313.3 52.3 L314.7 52.8 L316.1 53.3 L317.5 53.8 L318.9 54.4 L320.4 54.9 L321.8 55.4 L323.2 55.9 L324.6 56.5 L326.0 57.0 L327.4 57.5 L328.8 58.0 L330.2 58.6 L331.6 59.1 L333.0 59.7 L334.4 60.2 L335.8 60.7 L337.2 61.3 L338.6 61.8 L340.0 62.4 L341.3 62.9 L342.3 63.6 L342.4 64.5 L341.8 65.6 L340.8 66.8 L340.2 67.5" stroke="#3fa9f5"/>
<path d="M333.3 79.0 L334.1 80.3 L334.9 81.6 L335.6 82.9 L336.4 84.1 L337.2 85.4 L338.1 86.6 L339.0 87.8 L340.1 88.8 L341.3 89.7 L342.6 90.4 L343.9 91.1 L345.2 91.8 L346.6 92.5 L347.9 93.1 L349.3 93.8 L350.6 94.4 L351.9 95.1 L353.3 95.8 L354.6 96.4 L356.0 97.1 L357.3 97.7 L358.7 98.4 L360.0 99.1 L361.4 99.8 L362.7 100.4 L364.0 101.1 L365.4 101.8 L366.7 102.5 L368.0 103.2 L369.4 103.9 L370.7 104.5 L372.1 105.2 L373.4 105.9 L374.8 106.5 L376.1 107.1 L377.5 107.8 L378.8 108.4 L380.2 109.1 L381.5 109.7 L382.9 110.4 L384.2 111.0 L385.6 111.6 L387.0 112.2 L388.4 112.8 L389.7 113.4 L391.1 114.0 L392.5 114.6 L393.9 115.2 L395.2 115.8 L396.6 116.4 L398.0 117.0 L399.4 117.6 L400.8 118.1 L402.2 118.7 L403.6 119.2 L405.0 119.8 L406.3 120.3 L407.7 120.9 L409.1 121.4 L410.5 122.0 L411.9 122.6 L413.3 123.1 L414.7 123.7 L416.1 124.2 L417.5 124.8 L418.9 125.3 L420.3 125.9 L421.7 126.4 L423.1 127.0 L424.5 127.5 L425.9 128.1 L427.3 128.6 L428.7 129.2 L430.0 129.8 L431.4 130.3 L432.8 130.9 L434.2 131.4 L435.6 132.0 L437.0 132.5 L438.4 133.1 L439.8 133.6 L441.2 134.2 L442.6 134.7 L444.0 135.3 L445.4 135.9 L446.7 136.5 L448.1 137.1 L449.5 137.7 L450.8 138.3 L452.2 139.0 L453.6 139.6 L454.9 140.2 L456.3 140.8 L457.7 141.4 L459.0 142.0 L460.4 142.6 L461.8 143.3 L463.2 143.9 L464.5 144.5 L465.9 145.1 L467.3 145.7 L468.6 146.3 L470.0 146.9 L471.4 147.6 L472.7 148.2 L474.1 148.8 L475.5 149.4 L476.8 150.0 L478.2 150.6 L479.6 151.3 L480.9 151.9 L482.3 152.5 L483.7 153.1 L485.0 153.7 L486.4 154.3 L487.8 155.0 L489.1 155.6 L490.5 156.2 L491.9 156.8 L493.2 157.4 L494.6 158.0 L496.0 158.7 L497.4 159.3 L498.7 159.8 L500.1 160.3 L501.6 160.8 L503.0 161.3 L504.4 161.8 L505.8 162.3 L507.2 162.8 L508.6 163.3 L510.1 163.8 L511.5 164.3 L512.9 164.8 L514.3 165.3 L515.7 165.8" stroke="#3fa9f5"/>
<path d="M333.3 75.0 L334.1 73.7 L334.9 72.5 L335.8 71.3 L336.7 70.0 L337.7 69.0 L338.8 68.0 L340.1 67.2 L341.4 66.6 L342.8 66.1 L344.2 65.7 L345.7 65.3 L347.1 64.9 L348.6 64.7 L350.1 64.5 L351.6 64.2 L353.1 64.0 L354.5 63.8 L356.0 63.6 L357.5 63.4 L359.0 63.1 L360.5 62.9 L362.0 62.7 L363.5 62.5 L364.9 62.3 L366.4 62.1 L367.9 61.9 L369.4 61.7 L370.9 61.5 L372.4 61.2 L373.8 61.0 L375.3 60.8 L376.8 60.5 L378.3 60.3 L379.8 60.1 L381.3 59.8 L382.7 59.6 L384.2 59.4 L385.7 59.1 L387.2 58.8 L388.6 58.6 L390.1 58.3 L391.6 58.0 L393.1 57.7 L394.5 57.4 L396.0 57.1 L397.5 56.8 L398.9 56.5 L400.4 56.2 L401.9 55.9 L403.4 55.6 L404.8 55.3 L406.3 55.0 L407.8 54.7 L409.2 54.4 L410.7 54.1 L412.2 53.8 L413.6 53.5 L415.1 53.3 L416.6 53.0 L418.1 52.8 L419.6 52.5 L421.0 52.3 L422.5 52.1 L424.0 51.8 L425.5 51.6 L427.0 51.4 L428.5 51.3 L430.0 51.1 L431.4 50.9 L432.9 50.8 L434.4 50.6 L435.9 50.5 L437.4 50.3 L438.9 50.1 L440.4 50.0 L441.9 49.8 L443.4 49.7 L444.9 49.6 L446.4 49.5 L447.9 49.4 L449.4 49.3 L450.9 49.2 L452.4 49.1 L453.9 49.0 L455.4 48.9 L456.9 48.8 L458.3 48.7 L459.8 48.6 L461.3 48.5 L462.8 48.4 L464.3 48.3 L465.8 48.3 L467.3 48.2 L468.8 48.1 L470.3 48.0 L471.8 47.9 L473.3 47.8 L474.8 47.8 L476.3 47.7 L477.8 47.6 L479.3 47.6 L480.8 47.5 L482.3 47.4 L483.8 47.4 L485.3 47.3 L486.8 47.2 L488.3 47.2 L489.8 47.2 L491.3 47.1 L492.8 47.1 L494.3 47.0 L495.8 47.0 L497.3 46.9 L498.8 46.9 L500.3 46.9 L501.8 46.8 L503.3 46.8 L504.8 46.8 L506.3 46.8 L507.8 46.7 L509.3 46.7 L510.8 46.7 L512.3 46.7 L513.8 46.6 L515.3 46.6 L515.8 46.6" stroke="#f56a35"/>
<path d="M344.0 131.7 L343.8 133.2 L343.6 134.7 L343.4 136.2 L343.0 137.6 L342.6 139.0 L342.1 140.5 L341.6 141.9 L341.0 143.2 L340.3 144.5 L339.5 145.8 L338.7 147.1 L337.9 148.4 L337.1 149.6 L336.2 150.8 L335.3 152.0 L334.3 153.1 L333.3 154.3 L332.4 155.4 L331.4 156.5 L330.4 157.7 L329.4 158.8 L328.5 160.0 L327.5 161.1 L326.5 162.2 L325.5 163.3 L324.5 164.5 L323.5 165.6 L322.5 166.7 L321.5 167.8 L320.5 168.9 L319.5 170.1 L318.5 171.2 L317.5 172.3 L316.5 173.4 L315.5 174.6 L314.6 175.7 L313.6 176.8 L312.6 178.0 L311.6 179.1 L310.6 180.2 L309.6 181.4 L308.7 182.5 L308.1 183.3" stroke="#f56a35"/>
<path d="M302.0 117.7 L303.5 117.6 L305.0 117.5 L306.5 117.5 L308.0 117.4 L309.5 117.3 L311.0 117.2 L312.5 117.1 L314.0 117.1 L315.5 117.0 L317.0 116.9 L318.5 116.8 L320.0 116.7 L321.5 116.6 L323.0 116.5 L324.5 116.4 L326.0 116.3 L327.5 116.2 L329.0 116.1 L330.4 116.0 L331.9 115.9 L333.4 115.7 L334.9 115.6 L336.4 115.5 L337.9 115.3 L339.4 115.0 L340.8 114.6 L342.2 114.0 L343.5 113.3 L343.9 113.1" stroke="#4040d8"/>
<path d="M333.3 91.3 L334.6 90.6 L336.0 90.0 L337.4 89.5 L338.8 89.1 L340.3 88.8 L341.8 88.7 L343.3 88.7 L344.8 88.8 L346.3 88.8 L347.8 88.9 L349.2 89.0 L350.7 89.2 L352.2 89.4 L353.7 89.6 L355.2 89.8 L356.7 90.0 L358.2 90.3 L359.6 90.5 L361.1 90.8 L362.6 91.1 L364.0 91.4 L365.5 91.7 L367.0 92.0 L368.4 92.3 L369.9 92.7 L371.4 93.1 L372.8 93.5 L374.3 93.8 L375.7 94.2 L377.1 94.6 L378.6 95.0 L380.0 95.4 L381.5 95.8 L382.9 96.3 L384.4 96.7 L385.8 97.1 L387.2 97.5 L388.7 97.9 L390.1 98.4 L391.6 98.8 L393.0 99.2 L394.4 99.6 L395.9 100.1 L397.3 100.5 L398.7 100.9 L400.2 101.4 L401.6 101.8 L403.0 102.3 L404.5 102.8 L405.9 103.2 L407.3 103.7 L408.7 104.1 L410.2 104.6 L411.6 105.1 L413.0 105.5 L414.5 105.9 L415.9 106.3 L417.4 106.7 L418.8 107.1 L420.2 107.6 L421.7 108.0 L423.1 108.4 L424.6 108.8 L426.0 109.1 L427.5 109.5 L429.0 109.8 L430.4 110.1 L431.9 110.4 L433.4 110.8 L434.8 111.1 L436.3 111.4 L437.8 111.7 L439.2 112.0 L440.7 112.4 L442.1 112.7 L443.6 113.0 L445.1 113.3 L446.5 113.6 L448.0 114.0 L449.5 114.3 L450.9 114.6 L452.4 115.0 L453.9 115.3 L455.3 115.6 L456.8 116.0 L458.2 116.3 L459.7 116.7 L461.2 117.0 L462.6 117.4 L464.1 117.8 L465.5 118.1 L467.0 118.5 L468.4 118.9 L469.9 119.2 L471.3 119.6 L472.8 120.0 L474.2 120.3 L475.7 120.7 L477.2 121.1 L478.6 121.4 L480.1 121.8 L481.5 122.1 L483.0 122.5 L484.4 122.9 L485.9 123.2 L487.4 123.5 L488.8 123.9 L490.3 124.2 L491.7 124.6 L493.2 124.9 L494.7 125.3 L496.1 125.6 L497.6 125.9 L499.1 126.2 L500.5 126.5 L502.0 126.8 L503.5 127.1 L504.9 127.3 L506.4 127.6 L507.9 127.9 L509.4 128.2 L510.8 128.4 L512.3 128.7 L513.8 129.0 L515.3 129.3 L515.8 129.4" stroke="#4040d8"/>
<path d="M333.30 75.00 C333.53 76.67 333.75 78.14 334.00 80.00 C334.31 82.35 334.68 85.20 335.00 88.00 C335.35 91.08 335.31 94.74 336.00 97.70 C336.62 100.35 337.73 102.52 338.70 105.00 C339.72 107.61 341.23 110.29 342.00 113.00 C342.74 115.62 342.94 118.68 343.30 121.00 C343.58 122.77 343.88 124.03 344.00 125.70 C344.14 127.57 344.00 129.70 344.00 131.70" stroke="#f56a35" stroke-dasharray="3.5 4.5"/>
<path d="M344.00 113.00 C343.10 111.00 342.34 108.83 341.30 107.00 C340.33 105.29 339.02 103.88 338.00 102.30 C337.02 100.78 336.07 99.36 335.30 97.70 C334.48 95.94 333.97 93.90 333.30 92.00" stroke="#4040d8" stroke-dasharray="3.5 4.5"/>
<path d="M344.00 53.70 C343.10 56.13 342.23 59.08 341.30 61.00 C340.65 62.35 340.10 63.05 339.30 64.30 C338.21 66.01 336.23 68.67 335.30 70.30 C334.70 71.35 334.30 71.93 334.00 73.00 C333.61 74.38 333.37 76.27 333.50 78.00 C333.64 79.92 334.19 82.23 335.00 84.00 C335.74 85.63 337.00 86.87 338.00 88.30" stroke="#d63fae" stroke-dasharray="3.5 4.5"/>
</g>
<path d="M355.47 182.00 v-3.50 M355.47 13.50 v3.50 M408.75 182.00 v-3.50 M408.75 13.50 v3.50 M462.02 182.00 v-3.50 M462.02 13.50 v3.50 M302.20 157.93 h3.50 M515.30 157.93 h-3.50 M302.20 133.86 h3.50 M515.30 133.86 h-3.50 M302.20 109.79 h3.50 M515.30 109.79 h-3.50 M302.20 85.71 h3.50 M515.30 85.71 h-3.50 M302.20 61.64 h3.50 M515.30 61.64 h-3.50 M302.20 37.57 h3.50 M515.30 37.57 h-3.50" stroke="#333" stroke-width="0.8" fill="none"/>
<path d="M318.24 182.00 v-1.80 M318.24 13.50 v1.80 M327.62 182.00 v-1.80 M327.62 13.50 v1.80 M334.27 182.00 v-1.80 M334.27 13.50 v1.80 M339.44 182.00 v-1.80 M339.44 13.50 v1.80 M343.66 182.00 v-1.80 M343.66 13.50 v1.80 M347.22 182.00 v-1.80 M347.22 13.50 v1.80 M350.31 182.00 v-1.80 M350.31 13.50 v1.80 M353.04 182.00 v-1.80 M353.04 13.50 v1.80 M371.51 182.00 v-1.80 M371.51 13.50 v1.80 M380.89 182.00 v-1.80 M380.89 13.50 v1.80 M387.55 182.00 v-1.80 M387.55 13.50 v1.80 M392.71 182.00 v-1.80 M392.71 13.50 v1.80 M396.93 182.00 v-1.80 M396.93 13.50 v1.80 M400.50 182.00 v-1.80 M400.50 13.50 v1.80 M403.59 182.00 v-1.80 M403.59 13.50 v1.80 M406.31 182.00 v-1.80 M406.31 13.50 v1.80 M424.79 182.00 v-1.80 M424.79 13.50 v1.80 M434.17 182.00 v-1.80 M434.17 13.50 v1.80 M440.82 182.00 v-1.80 M440.82 13.50 v1.80 M445.99 182.00 v-1.80 M445.99 13.50 v1.80 M450.21 182.00 v-1.80 M450.21 13.50 v1.80 M453.77 182.00 v-1.80 M453.77 13.50 v1.80 M456.86 182.00 v-1.80 M456.86 13.50 v1.80 M459.59 182.00 v-1.80 M459.59 13.50 v1.80 M478.06 182.00 v-1.80 M478.06 13.50 v1.80 M487.44 182.00 v-1.80 M487.44 13.50 v1.80 M494.10 182.00 v-1.80 M494.10 13.50 v1.80 M499.26 182.00 v-1.80 M499.26 13.50 v1.80 M503.48 182.00 v-1.80 M503.48 13.50 v1.80 M507.05 182.00 v-1.80 M507.05 13.50 v1.80 M510.14 182.00 v-1.80 M510.14 13.50 v1.80 M512.86 182.00 v-1.80 M512.86 13.50 v1.80 M302.20 174.75 h1.80 M515.30 174.75 h-1.80 M302.20 170.52 h1.80 M515.30 170.52 h-1.80 M302.20 167.51 h1.80 M515.30 167.51 h-1.80 M302.20 165.17 h1.80 M515.30 165.17 h-1.80 M302.20 163.27 h1.80 M515.30 163.27 h-1.80 M302.20 161.66 h1.80 M515.30 161.66 h-1.80 M302.20 160.26 h1.80 M515.30 160.26 h-1.80 M302.20 159.03 h1.80 M515.30 159.03 h-1.80 M302.20 150.68 h1.80 M515.30 150.68 h-1.80 M302.20 146.44 h1.80 M515.30 146.44 h-1.80 M302.20 143.44 h1.80 M515.30 143.44 h-1.80 M302.20 141.10 h1.80 M515.30 141.10 h-1.80 M302.20 139.20 h1.80 M515.30 139.20 h-1.80 M302.20 137.59 h1.80 M515.30 137.59 h-1.80 M302.20 136.19 h1.80 M515.30 136.19 h-1.80 M302.20 134.96 h1.80 M515.30 134.96 h-1.80 M302.20 126.61 h1.80 M515.30 126.61 h-1.80 M302.20 122.37 h1.80 M515.30 122.37 h-1.80 M302.20 119.36 h1.80 M515.30 119.36 h-1.80 M302.20 117.03 h1.80 M515.30 117.03 h-1.80 M302.20 115.13 h1.80 M515.30 115.13 h-1.80 M302.20 113.51 h1.80 M515.30 113.51 h-1.80 M302.20 112.12 h1.80 M515.30 112.12 h-1.80 M302.20 110.89 h1.80 M515.30 110.89 h-1.80 M302.20 102.54 h1.80 M515.30 102.54 h-1.80 M302.20 98.30 h1.80 M515.30 98.30 h-1.80 M302.20 95.29 h1.80 M515.30 95.29 h-1.80 M302.20 92.96 h1.80 M515.30 92.96 h-1.80 M302.20 91.05 h1.80 M515.30 91.05 h-1.80 M302.20 89.44 h1.80 M515.30 89.44 h-1.80 M302.20 88.05 h1.80 M515.30 88.05 h-1.80 M302.20 86.82 h1.80 M515.30 86.82 h-1.80 M302.20 78.47 h1.80 M515.30 78.47 h-1.80 M302.20 74.23 h1.80 M515.30 74.23 h-1.80 M302.20 71.22 h1.80 M515.30 71.22 h-1.80 M302.20 68.89 h1.80 M515.30 68.89 h-1.80 M302.20 66.98 h1.80 M515.30 66.98 h-1.80 M302.20 65.37 h1.80 M515.30 65.37 h-1.80 M302.20 63.98 h1.80 M515.30 63.98 h-1.80 M302.20 62.74 h1.80 M515.30 62.74 h-1.80 M302.20 54.40 h1.80 M515.30 54.40 h-1.80 M302.20 50.16 h1.80 M515.30 50.16 h-1.80 M302.20 47.15 h1.80 M515.30 47.15 h-1.80 M302.20 44.82 h1.80 M515.30 44.82 h-1.80 M302.20 42.91 h1.80 M515.30 42.91 h-1.80 M302.20 41.30 h1.80 M515.30 41.30 h-1.80 M302.20 39.90 h1.80 M515.30 39.90 h-1.80 M302.20 38.67 h1.80 M515.30 38.67 h-1.80 M302.20 30.33 h1.80 M515.30 30.33 h-1.80 M302.20 26.09 h1.80 M515.30 26.09 h-1.80 M302.20 23.08 h1.80 M515.30 23.08 h-1.80 M302.20 20.75 h1.80 M515.30 20.75 h-1.80 M302.20 18.84 h1.80 M515.30 18.84 h-1.80 M302.20 17.23 h1.80 M515.30 17.23 h-1.80 M302.20 15.83 h1.80 M515.30 15.83 h-1.80 M302.20 14.60 h1.80 M515.30 14.60 h-1.80" stroke="#555" stroke-width="0.6" fill="none"/>
<rect x="302.20" y="13.50" width="213.10" height="168.50" fill="none" stroke="#333" stroke-width="1.15"/>
<text x="298.60" y="16.20" font-size="8.9" font-family="DejaVu Serif, Liberation Serif, serif" text-anchor="end" fill="#1a1a1a" stroke="#1a1a1a" stroke-width="0.2">10<tspan font-size="6.1" dx="0.6" dy="-4.5" stroke-width="0.12">-3</tspan></text>
<text x="298.60" y="40.27" font-size="8.9" font-family="DejaVu Serif, Liberation Serif, serif" text-anchor="end" fill="#1a1a1a" stroke="#1a1a1a" stroke-width="0.2">10<tspan font-size="6.1" dx="0.6" dy="-4.5" stroke-width="0.12">-4</tspan></text>
<text x="298.60" y="64.34" font-size="8.9" font-family="DejaVu Serif, Liberation Serif, serif" text-anchor="end" fill="#1a1a1a" stroke="#1a1a1a" stroke-width="0.2">10<tspan font-size="6.1" dx="0.6" dy="-4.5" stroke-width="0.12">-5</tspan></text>
<text x="298.60" y="88.41" font-size="8.9" font-family="DejaVu Serif, Liberation Serif, serif" text-anchor="end" fill="#1a1a1a" stroke="#1a1a1a" stroke-width="0.2">10<tspan font-size="6.1" dx="0.6" dy="-4.5" stroke-width="0.12">-6</tspan></text>
<text x="298.60" y="112.49" font-size="8.9" font-family="DejaVu Serif, Liberation Serif, serif" text-anchor="end" fill="#1a1a1a" stroke="#1a1a1a" stroke-width="0.2">10<tspan font-size="6.1" dx="0.6" dy="-4.5" stroke-width="0.12">-7</tspan></text>
<text x="298.60" y="136.56" font-size="8.9" font-family="DejaVu Serif, Liberation Serif, serif" text-anchor="end" fill="#1a1a1a" stroke="#1a1a1a" stroke-width="0.2">10<tspan font-size="6.1" dx="0.6" dy="-4.5" stroke-width="0.12">-8</tspan></text>
<text x="298.60" y="160.63" font-size="8.9" font-family="DejaVu Serif, Liberation Serif, serif" text-anchor="end" fill="#1a1a1a" stroke="#1a1a1a" stroke-width="0.2">10<tspan font-size="6.1" dx="0.6" dy="-4.5" stroke-width="0.12">-9</tspan></text>
<text x="298.60" y="184.70" font-size="8.9" font-family="DejaVu Serif, Liberation Serif, serif" text-anchor="end" fill="#1a1a1a" stroke="#1a1a1a" stroke-width="0.2">10<tspan font-size="6.1" dx="0.6" dy="-4.5" stroke-width="0.12">-10</tspan></text>
<text x="302.50" y="193.90" font-size="8.9" font-family="DejaVu Serif, Liberation Serif, serif" text-anchor="middle" fill="#1a1a1a" stroke="#1a1a1a" stroke-width="0.2">10<tspan font-size="6.1" dx="-0.2" dy="-4.4" stroke-width="0.12">1</tspan></text>
<text x="355.77" y="193.90" font-size="8.9" font-family="DejaVu Serif, Liberation Serif, serif" text-anchor="middle" fill="#1a1a1a" stroke="#1a1a1a" stroke-width="0.2">10<tspan font-size="6.1" dx="-0.2" dy="-4.4" stroke-width="0.12">2</tspan></text>
<text x="409.05" y="193.90" font-size="8.9" font-family="DejaVu Serif, Liberation Serif, serif" text-anchor="middle" fill="#1a1a1a" stroke="#1a1a1a" stroke-width="0.2">10<tspan font-size="6.1" dx="-0.2" dy="-4.4" stroke-width="0.12">3</tspan></text>
<text x="462.32" y="193.90" font-size="8.9" font-family="DejaVu Serif, Liberation Serif, serif" text-anchor="middle" fill="#1a1a1a" stroke="#1a1a1a" stroke-width="0.2">10<tspan font-size="6.1" dx="-0.2" dy="-4.4" stroke-width="0.12">4</tspan></text>
<text x="515.60" y="193.90" font-size="8.9" font-family="DejaVu Serif, Liberation Serif, serif" text-anchor="middle" fill="#1a1a1a" stroke="#1a1a1a" stroke-width="0.2">10<tspan font-size="6.1" dx="-0.2" dy="-4.4" stroke-width="0.12">5</tspan></text>
<text x="408.75" y="9.10" font-size="10" text-anchor="middle" fill="#1a1a1a" stroke="#1a1a1a" stroke-width="0.2">(b)</text>
<text x="325.40" y="34.00" font-size="9.4" fill="#3a3a3a" stroke="#3a3a3a" stroke-width="0.3">O</text>
<text x="313.10" y="70.60" font-size="9.4" fill="#3fa9f5" stroke="#3fa9f5" stroke-width="0.3">He<tspan font-size="7.05" font-weight="200" stroke="none" fill-opacity="0.85" dx="0.5" dy="-3.6">+</tspan></text>
<text x="316.70" y="140.60" font-size="9.4" fill="#4040d8" stroke="#4040d8" stroke-width="0.3">H<tspan font-size="5.64" stroke-width="0.15" dx="0.1" dy="2.4">3</tspan><tspan font-size="7.05" font-weight="200" stroke="none" fill-opacity="0.85" dx="0.7" dy="-6.0">+</tspan></text>
<text x="436.70" y="44.00" font-size="9.4" fill="#f56a35" stroke="#f56a35" stroke-width="0.3">O<tspan font-size="5.64" stroke-width="0.15" dx="0.1" dy="2.4">2</tspan></text>
<text x="418.10" y="163.30" font-size="9.4" fill="#d63fae" stroke="#d63fae" stroke-width="0.3">H<tspan font-size="7.05" font-weight="200" stroke="none" fill-opacity="0.85" dx="0.5" dy="-3.6">+</tspan></text>
</g>
<g>
<clipPath id="cc"><rect x="42.50" y="222.83" width="212.55" height="168.50"/></clipPath>
<g clip-path="url(#cc)" fill="none" stroke-width="1.35" stroke-linejoin="round" stroke-linecap="butt">
<path d="M42.0 248.0 L43.5 248.0 L45.0 248.0 L46.5 248.0 L48.0 248.0 L49.5 248.0 L51.0 248.0 L52.5 248.0 L54.0 248.0 L55.5 248.0 L57.0 248.0 L58.5 248.0 L60.0 248.0 L61.5 248.0 L63.0 248.0 L64.5 248.0 L66.0 248.0 L67.5 248.0 L69.0 248.0 L70.5 248.0 L72.0 248.0 L73.5 248.0 L75.0 248.0 L76.5 248.0 L78.0 248.0 L79.5 248.0 L81.0 248.0 L82.5 248.0 L84.0 248.0 L85.5 248.0 L87.0 248.0 L88.5 248.0 L90.0 248.0 L91.5 248.0 L93.0 248.0 L94.5 248.0 L96.0 248.0 L97.5 248.0 L99.0 248.0 L100.5 248.0 L102.0 248.0 L103.5 248.0 L105.0 248.0 L106.5 248.0 L108.0 248.0 L109.5 248.0 L111.0 248.0 L112.5 248.0 L114.0 248.0 L115.5 248.0 L117.0 248.0 L118.5 248.0 L120.0 248.1 L121.5 248.1 L123.0 248.1 L124.5 248.1 L126.0 248.1 L127.5 248.1 L129.0 248.1 L130.5 248.1 L132.0 248.1 L133.5 248.2 L135.0 248.2 L136.5 248.2 L138.0 248.2 L139.5 248.2 L141.0 248.2 L142.5 248.2 L144.0 248.2 L145.5 248.3 L147.0 248.3 L148.5 248.3 L150.0 248.3 L151.5 248.3 L153.0 248.3 L154.5 248.3 L156.0 248.3 L157.5 248.4 L159.0 248.4 L160.5 248.4 L162.0 248.4 L163.5 248.4 L165.0 248.5 L166.5 248.5 L168.0 248.5 L169.5 248.5 L171.0 248.5 L172.5 248.5 L174.0 248.6 L175.5 248.6 L177.0 248.6 L178.5 248.6 L180.0 248.6 L181.5 248.7 L183.0 248.7 L184.5 248.7 L186.0 248.9 L187.5 249.1 L189.0 249.3 L190.4 249.5 L191.9 249.8 L193.4 250.1 L194.8 250.5 L196.3 250.8 L197.7 251.2 L199.2 251.6 L200.6 252.0 L202.1 252.4 L203.5 252.9 L204.9 253.4 L206.1 254.2 L207.2 255.2 L208.1 256.4 L209.0 257.5 L210.1 258.6 L211.2 259.5 L212.5 260.3 L213.8 261.0 L215.2 261.6 L216.5 262.3 L217.9 262.9 L219.3 263.5 L220.6 264.1 L222.0 264.7 L223.4 265.3 L224.8 265.9 L226.2 266.4 L227.6 266.9 L229.0 267.4 L230.4 267.9 L231.8 268.4 L233.3 268.9 L234.7 269.4 L236.1 269.9 L237.5 270.4 L238.9 270.8 L240.4 271.1 L241.9 271.4 L243.3 271.8 L244.8 272.1 L246.3 272.4 L247.7 272.7 L249.2 273.0 L250.7 273.3 L252.1 273.6 L253.6 273.9 L255.1 274.2 L255.6 274.3" stroke="#3a3a3a"/>
<path d="M42.0 257.1 L43.5 257.1 L45.0 257.1 L46.5 257.1 L48.0 257.1 L49.5 257.1 L51.0 257.1 L52.5 257.1 L54.0 257.1 L55.5 257.1 L57.0 257.1 L58.5 257.1 L60.0 257.1 L61.5 257.1 L63.0 257.1 L64.5 257.1 L66.0 257.1 L67.5 257.1 L69.0 257.1 L70.5 257.1 L72.0 257.1 L73.5 257.1 L75.0 257.1 L76.5 257.1 L78.0 257.1 L79.5 257.1 L81.0 257.1 L82.5 257.1 L84.0 257.1 L85.5 257.1 L87.0 257.1 L88.5 257.1 L90.0 257.1 L91.5 257.1 L93.0 257.1 L94.5 257.1 L96.0 257.1 L97.5 257.1 L99.0 257.1 L100.5 257.1 L102.0 257.1 L103.5 257.1 L105.0 257.1 L106.5 257.1 L108.0 257.1 L109.5 257.1 L111.0 257.1 L112.5 257.1 L114.0 257.1 L115.5 257.1 L117.0 257.1 L118.5 257.2 L120.0 257.2 L121.5 257.2 L123.0 257.2 L124.5 257.2 L126.0 257.2 L127.5 257.3 L129.0 257.3 L130.5 257.3 L132.0 257.3 L133.5 257.3 L135.0 257.3 L136.5 257.3 L138.0 257.4 L139.5 257.4 L141.0 257.4 L142.5 257.4 L144.0 257.4 L145.5 257.4 L147.0 257.4 L148.5 257.5 L150.0 257.5 L151.5 257.5 L153.0 257.5 L154.5 257.6 L156.0 257.7 L157.5 257.7 L159.0 257.8 L160.5 257.8 L162.0 257.9 L163.5 258.0 L165.0 258.0 L166.5 258.1 L168.0 258.1 L169.5 258.2 L171.0 258.3 L172.5 258.3 L174.0 258.4 L175.5 258.4 L177.0 258.5 L178.5 258.6 L180.0 258.6 L181.5 258.7 L182.9 258.9 L184.4 259.2 L185.8 259.7 L187.2 260.2 L188.6 260.8 L190.0 261.3 L191.4 262.0 L192.6 262.8 L193.8 263.7 L195.0 264.6 L196.1 265.6 L197.3 266.5 L198.3 267.6 L199.2 268.8 L200.0 270.1 L200.7 271.4 L201.5 272.7 L202.2 274.0 L202.7 275.4 L203.2 276.8 L203.7 278.2 L204.2 279.6 L204.6 281.0 L205.0 282.5 L205.3 284.0 L205.6 285.4 L205.8 286.9 L206.0 288.4 L206.2 289.9 L206.4 291.4 L206.5 292.9 L206.7 294.4 L206.8 295.9 L206.9 297.3 L207.1 298.8 L207.2 300.3 L207.3 301.8 L207.5 303.3 L207.6 304.8 L207.8 306.3 L208.1 307.8 L208.3 309.3 L208.6 310.7 L209.0 312.2 L209.4 313.6 L209.9 315.0 L210.5 316.4 L211.1 317.8 L211.8 319.1 L212.6 320.3 L213.6 321.4 L214.6 322.6 L215.6 323.7 L216.6 324.8 L217.6 325.9 L218.7 326.9 L219.8 327.9 L221.0 328.8 L222.2 329.8 L223.4 330.7 L224.5 331.6 L225.8 332.5 L227.0 333.3 L228.3 334.1 L229.5 335.0 L230.8 335.8 L232.0 336.6 L233.3 337.4 L234.5 338.2 L235.8 339.1 L237.1 339.9 L238.3 340.7 L239.6 341.5 L240.9 342.3 L242.1 343.0 L243.4 343.8 L244.7 344.6 L246.0 345.4 L247.3 346.2 L248.5 347.0 L249.8 347.7 L251.1 348.5 L252.4 349.3 L253.7 350.1 L255.0 350.9 L255.8 351.4" stroke="#fbb03b"/>
<path d="M42.0 242.0 L43.4 242.4 L44.9 242.9 L46.3 243.3 L47.7 243.7 L49.2 244.2 L50.6 244.6 L52.1 245.0 L53.5 245.5 L54.9 245.9 L56.3 246.4 L57.7 247.0 L59.1 247.6 L60.5 248.2 L61.9 248.7 L63.2 249.3 L64.6 249.9 L66.0 250.5 L67.4 251.1 L68.8 251.6 L70.2 252.1 L71.6 252.6 L73.0 253.2 L74.4 253.7 L75.8 254.2 L77.2 254.7 L78.7 255.2 L80.1 255.7 L81.5 256.2 L82.9 256.8 L84.3 257.4 L85.6 257.9 L87.0 258.5 L88.4 259.1 L89.8 259.7 L91.2 260.3 L92.6 260.8 L93.9 261.4 L95.3 262.0 L96.7 262.6 L98.1 263.2 L99.5 263.8 L100.8 264.4 L102.2 264.9 L103.6 265.5 L105.0 266.2 L106.3 266.8 L107.6 267.5 L109.0 268.2 L110.3 268.9 L111.6 269.6 L112.9 270.3 L114.2 271.1 L115.5 271.9 L116.8 272.7 L118.0 273.5 L119.3 274.3 L120.6 275.1 L121.9 275.9 L123.1 276.6 L124.4 277.4 L125.7 278.3 L126.9 279.1 L128.1 280.0 L129.4 280.8 L130.6 281.7 L131.8 282.5 L133.1 283.4 L134.3 284.2 L135.5 285.1 L136.8 285.9 L138.0 286.8 L139.2 287.7 L140.4 288.6 L141.5 289.6 L142.7 290.5 L143.9 291.5 L145.0 292.4 L146.2 293.3 L147.4 294.3 L148.5 295.2 L149.7 296.2 L150.9 297.1 L152.0 298.1 L153.2 299.0 L154.3 300.0 L155.5 301.0 L156.6 302.0 L157.7 302.9 L158.9 303.9 L160.0 304.9 L161.2 305.8 L162.3 306.8 L163.5 307.7 L164.7 308.6 L165.9 309.5 L167.1 310.4 L168.3 311.3 L169.5 312.2 L170.7 313.1 L172.0 314.0 L173.2 314.8 L174.4 315.7 L175.6 316.6 L176.8 317.5 L178.0 318.3 L179.2 319.2 L180.5 320.1 L181.7 321.0 L182.9 321.9 L184.1 322.8 L185.2 323.8 L186.2 324.8 L187.3 325.9 L188.3 327.0 L189.3 328.1 L190.3 329.2 L191.4 330.3 L192.4 331.4 L193.4 332.6 L194.4 333.7 L195.4 334.8 L196.4 335.9 L197.4 337.0 L198.4 338.1 L199.3 339.3 L200.3 340.5 L201.2 341.6 L202.2 342.8 L203.0 344.0 L203.8 345.3 L204.4 346.6 L205.0 348.0 L205.5 349.4 L206.1 350.8 L206.5 352.2 L206.9 353.7 L207.3 355.1 L207.7 356.6 L208.2 358.0 L208.8 359.4 L209.3 360.8 L209.9 362.1 L210.6 363.4 L211.6 364.5 L212.6 365.6 L213.7 366.7 L214.7 367.7 L215.8 368.8 L216.9 369.9 L218.0 370.9 L219.2 371.8 L220.4 372.6 L221.7 373.3 L223.0 374.1 L224.3 374.9 L225.6 375.6 L226.9 376.4 L228.1 377.2 L229.4 377.9 L230.7 378.7 L232.0 379.5 L233.3 380.2 L234.6 380.9 L235.9 381.7 L237.3 382.4 L238.6 383.1 L239.9 383.9 L241.2 384.6 L242.5 385.3 L243.8 386.0 L245.1 386.8 L246.4 387.5 L247.7 388.3 L249.0 389.1 L250.3 389.8 L251.6 390.6 L252.9 391.4 L253.7 391.9" stroke="#d63fae"/>
<path d="M42.0 258.0 L43.4 258.6 L44.8 259.1 L46.2 259.7 L47.6 260.2 L49.0 260.8 L50.4 261.3 L51.8 261.9 L53.1 262.4 L54.5 263.0 L55.9 263.6 L57.3 264.1 L58.7 264.7 L60.1 265.2 L61.5 265.8 L62.9 266.4 L64.3 266.9 L65.7 267.5 L67.1 268.0 L68.5 268.6 L69.9 269.1 L71.3 269.6 L72.7 270.1 L74.1 270.5 L75.6 271.0 L77.0 271.5 L78.4 272.0 L79.8 272.5 L81.2 273.0 L82.6 273.5 L84.0 274.0 L85.4 274.6 L86.8 275.1 L88.2 275.7 L89.6 276.2 L91.0 276.8 L92.4 277.3 L93.8 277.9 L95.2 278.5 L96.6 279.0 L98.0 279.6 L99.3 280.2 L100.7 280.7 L102.1 281.3 L103.5 281.9 L104.9 282.5 L106.3 283.0 L107.7 283.6 L109.1 284.2 L110.4 284.8 L111.8 285.3 L113.2 285.9 L114.6 286.4 L116.0 286.9 L117.4 287.5 L118.8 288.0 L120.2 288.6 L121.6 289.1 L123.0 289.6 L124.4 290.2 L125.8 290.8 L127.2 291.4 L128.5 292.0 L129.9 292.7 L131.2 293.3 L132.6 293.9 L134.0 294.6 L135.3 295.2 L136.7 295.8 L138.0 296.5 L139.3 297.2 L140.6 298.0 L141.9 298.8 L143.1 299.6 L144.4 300.4 L145.7 301.2 L146.9 302.0 L148.2 302.8 L149.5 303.6 L150.7 304.4 L152.0 305.2 L153.3 306.0 L154.5 306.9 L155.8 307.7 L157.0 308.5 L158.3 309.4 L159.5 310.2 L160.8 311.0 L162.0 311.8 L163.3 312.7 L164.5 313.5 L165.8 314.3 L167.0 315.2 L168.2 316.1 L169.4 316.9 L170.7 317.8 L171.9 318.7 L173.1 319.6 L174.3 320.4 L175.5 321.4 L176.7 322.3 L177.8 323.3 L179.0 324.2 L180.1 325.2 L181.3 326.1 L182.4 327.2 L183.4 328.2 L184.4 329.4 L185.4 330.5 L186.4 331.6 L187.3 332.8 L188.3 333.9 L189.3 335.1 L190.2 336.2 L191.2 337.4 L192.1 338.5 L193.1 339.7 L194.0 340.8 L195.0 342.0 L196.0 343.2 L196.9 344.3 L197.9 345.5 L198.9 346.6 L199.9 347.6 L201.0 348.7 L202.1 349.8 L203.1 350.8 L204.2 351.9 L205.2 352.9 L206.3 354.0 L207.4 355.1 L208.5 356.1 L209.7 356.9 L211.0 357.7 L212.3 358.3 L213.7 359.0 L215.0 359.7 L216.3 360.3 L217.7 361.0 L219.0 361.6 L220.4 362.2 L221.8 362.9 L223.1 363.5 L224.5 364.1 L225.9 364.7 L227.3 365.3 L228.6 365.9 L230.0 366.5 L231.4 367.2 L232.7 367.8 L234.0 368.5 L235.4 369.2 L236.7 369.8 L238.1 370.5 L239.4 371.2 L240.7 371.9 L242.1 372.5 L243.4 373.2 L244.8 373.9 L246.1 374.6 L247.4 375.3 L248.7 376.0 L250.1 376.7 L251.4 377.4 L252.7 378.1 L254.1 378.8 L255.4 379.5 L255.8 379.7" stroke="#3fa9f5"/>
<path d="M42.0 319.3 L43.5 319.3 L45.0 319.3 L46.5 319.2 L48.0 319.2 L49.5 319.2 L51.0 319.2 L52.5 319.1 L54.0 319.1 L55.5 319.1 L57.0 319.0 L58.5 318.9 L60.0 318.8 L61.5 318.7 L63.0 318.6 L64.5 318.6 L66.0 318.5 L67.5 318.4 L69.0 318.3 L70.5 318.1 L72.0 318.0 L73.4 317.8 L74.9 317.6 L76.4 317.5 L77.9 317.3 L79.4 317.2 L80.9 317.0 L82.4 316.8 L83.9 316.6 L85.4 316.3 L86.8 316.1 L88.3 315.9 L89.8 315.6 L91.3 315.4 L92.8 315.1 L94.2 314.9 L95.7 314.6 L97.2 314.3 L98.6 314.0 L100.1 313.7 L101.6 313.4 L103.0 313.0 L104.5 312.7 L106.0 312.3 L107.4 312.0 L108.9 311.6 L110.3 311.2 L111.7 310.7 L113.1 310.1 L114.4 309.4 L115.8 308.8 L117.1 308.1 L118.4 307.4 L119.8 306.7 L121.1 306.1 L122.5 305.4 L123.9 304.8 L125.2 304.2 L126.6 303.6 L128.0 303.0 L129.4 302.4 L130.8 301.9 L132.2 301.4 L133.6 301.1 L135.1 300.8 L136.6 300.5 L138.0 300.3 L139.5 300.1 L141.0 299.8 L142.5 299.6 L144.0 299.3 L145.5 299.2 L146.9 299.1 L148.4 299.0 L149.9 299.0 L151.4 298.9 L152.9 298.9 L154.4 298.8 L155.9 298.8 L157.4 298.8 L158.9 298.8 L160.4 298.9 L161.9 299.0 L163.4 299.2 L164.9 299.3 L166.4 299.5 L167.9 299.6 L169.4 299.7 L170.9 299.9 L172.4 300.1 L173.9 300.3 L175.3 300.5 L176.8 300.7 L178.3 300.9 L179.8 301.2 L181.3 301.4 L182.8 301.7 L184.2 301.9 L185.7 302.2 L187.2 302.5 L188.6 302.8 L190.1 303.1 L191.6 303.5 L193.0 303.9 L194.4 304.5 L195.8 305.0 L197.2 305.6 L198.5 306.2 L199.9 306.8 L201.3 307.5 L202.6 308.1 L203.9 308.8 L205.1 309.7 L206.2 310.7 L207.2 311.8 L208.1 313.0 L209.0 314.2 L209.9 315.4 L210.8 316.6 L211.7 317.7 L212.9 318.6 L214.1 319.5 L215.4 320.2 L216.7 321.0 L218.0 321.8 L219.3 322.5 L220.6 323.2 L222.0 323.8 L223.3 324.5 L224.7 325.1 L226.0 325.8 L227.4 326.5 L228.7 327.2 L230.0 327.8 L231.4 328.5 L232.7 329.2 L234.1 329.9 L235.4 330.5 L236.7 331.2 L238.1 331.9 L239.4 332.5 L240.8 333.1 L242.2 333.7 L243.6 334.3 L244.9 334.9 L246.3 335.5 L247.7 336.1 L249.0 336.7 L250.4 337.3 L251.8 337.9 L253.2 338.6 L254.5 339.2 L255.9 339.8" stroke="#5cbf8c"/>
<path d="M70.7 391.3 L71.8 390.2 L72.8 389.2 L73.9 388.1 L74.9 387.1 L76.0 386.0 L77.1 384.9 L78.1 383.9 L79.2 382.8 L80.2 381.8 L81.3 380.7 L82.3 379.6 L83.4 378.5 L84.4 377.4 L85.4 376.3 L86.4 375.2 L87.5 374.1 L88.5 373.0 L89.5 371.9 L90.5 370.8 L91.5 369.7 L92.6 368.6 L93.6 367.5 L94.6 366.5 L95.7 365.4 L96.8 364.4 L97.9 363.4 L99.0 362.4 L100.1 361.4 L101.3 360.4 L102.4 359.4 L103.5 358.4 L104.6 357.4 L105.7 356.4 L106.9 355.4 L108.0 354.4 L109.2 353.5 L110.3 352.5 L111.4 351.5 L112.4 350.4 L113.4 349.3 L114.3 348.1 L115.3 346.9 L116.2 345.8 L117.2 344.6 L118.1 343.4 L119.1 342.3 L120.0 341.1 L121.0 339.9 L121.9 338.8 L122.9 337.6 L123.8 336.5 L124.8 335.3 L125.9 334.3 L126.9 333.2 L128.1 332.2 L129.2 331.2 L130.3 330.2 L131.4 329.3 L132.6 328.4 L133.9 327.6 L135.2 326.8 L136.5 326.0 L137.8 325.3 L139.1 324.6 L140.4 323.9 L141.8 323.3 L143.2 322.7 L144.5 322.1 L146.0 321.6 L147.4 321.2 L148.8 320.8 L150.3 320.4 L151.8 320.1 L153.2 320.0 L154.7 319.9 L156.2 319.8 L157.7 319.7 L159.2 319.6 L160.7 319.5 L162.2 319.5 L163.7 319.4 L165.2 319.3 L166.7 319.3 L168.2 319.3 L169.7 319.3 L171.2 319.3 L172.7 319.3 L174.2 319.4 L175.7 319.4 L177.2 319.5 L178.7 319.5 L180.2 319.6 L181.7 319.6 L183.2 319.5 L184.7 319.2 L186.2 319.0 L187.6 318.7 L189.1 318.4 L190.6 318.1 L191.9 317.6 L193.2 316.9 L194.4 316.0 L195.7 315.2 L196.9 314.3 L198.0 313.3 L198.9 312.2 L199.7 310.9 L200.5 309.6 L201.2 308.3 L201.9 307.0 L202.5 305.6 L202.9 304.2 L203.3 302.8 L203.7 301.3 L204.1 299.9 L204.5 298.4 L204.9 297.0 L205.2 295.5 L205.5 294.0 L205.8 292.6 L206.0 291.1 L206.3 289.6 L206.6 288.1 L206.9 286.7 L207.1 285.2 L207.3 283.7 L207.5 282.2 L207.6 280.7 L207.8 279.2 L208.0 277.7 L208.3 276.3 L208.7 274.9 L209.4 273.6 L210.2 272.3 L211.1 271.1 L212.1 270.1 L213.3 269.2 L214.6 268.5 L216.0 267.9 L217.3 267.2 L218.7 266.7 L220.1 266.2 L221.5 265.7 L223.0 265.3 L224.4 264.9 L225.9 264.6 L227.4 264.4 L228.9 264.2 L230.3 264.1 L231.8 263.9 L233.3 263.7 L234.8 263.5 L236.3 263.3 L237.8 263.2 L239.3 263.1 L240.8 262.9 L242.3 262.9 L243.8 262.8 L245.3 262.7 L246.8 262.6 L248.3 262.5 L249.8 262.4 L251.3 262.3 L252.8 262.2 L254.3 262.1 L255.8 262.0" stroke="#f56a35"/>
<path d="M42.0 354.0 L43.5 353.9 L45.0 353.8 L46.5 353.6 L48.0 353.5 L49.5 353.4 L51.0 353.3 L52.5 353.1 L54.0 353.0 L55.5 352.9 L57.0 352.8 L58.5 352.8 L59.9 352.7 L61.4 352.6 L62.9 352.6 L64.4 352.5 L65.9 352.4 L67.4 352.4 L68.9 352.3 L70.4 352.2 L71.9 352.2 L73.4 352.1 L74.9 352.0 L76.4 352.0 L77.9 351.9 L79.4 351.8 L80.9 351.7 L82.4 351.7 L83.9 351.6 L85.4 351.5 L86.9 351.5 L88.4 351.4 L89.9 351.3 L91.4 351.3 L92.9 351.2 L94.4 351.1 L95.9 351.1 L97.4 351.0 L98.9 351.0 L100.4 350.9 L101.9 350.9 L103.4 350.8 L104.9 350.8 L106.4 350.7 L107.9 350.6 L109.4 350.6 L110.9 350.5 L112.4 350.3 L113.8 350.0 L115.3 349.7 L116.8 349.4 L118.2 349.0 L119.7 348.7 L121.1 348.3 L122.6 348.0 L124.1 347.6 L125.5 347.3 L127.0 347.1 L128.5 346.9 L130.0 346.7 L131.5 346.6 L133.0 346.4 L134.5 346.2 L135.9 346.0 L137.4 345.9 L138.9 345.8 L140.4 345.8 L141.9 345.8 L143.4 345.9 L144.9 346.0 L146.4 346.0 L147.9 346.1 L149.4 346.2 L150.9 346.3 L152.4 346.4 L153.9 346.6 L155.4 346.9 L156.8 347.2 L158.3 347.4 L159.8 347.7 L161.3 348.0 L162.7 348.2 L164.2 348.5 L165.7 348.8 L167.2 349.0 L168.6 349.3 L170.1 349.6 L171.6 349.9 L173.1 350.1 L174.5 350.4 L176.0 350.7 L177.5 351.0 L179.0 351.2 L180.4 351.5 L181.9 351.7 L183.4 351.9 L184.9 352.1 L186.4 352.2 L187.9 352.3 L189.4 352.5 L190.9 352.6 L192.4 352.8 L193.9 352.9 L195.4 353.0 L196.9 353.1 L198.3 353.2 L199.8 353.1 L201.3 353.0 L202.8 352.9 L204.3 352.6 L205.6 352.1 L206.9 351.4 L208.2 350.6 L209.6 350.1 L211.0 349.6 L212.4 349.4 L213.9 349.3 L215.4 349.3 L216.9 349.3 L218.4 349.4 L219.9 349.6 L221.4 349.8 L222.9 350.0 L224.4 350.2 L225.8 350.4 L227.3 350.6 L228.8 350.9 L230.3 351.1 L231.8 351.4 L233.2 351.8 L234.6 352.2 L236.1 352.6 L237.5 353.0 L239.0 353.5 L240.4 353.9 L241.8 354.3 L243.3 354.8 L244.7 355.2 L246.1 355.6 L247.6 356.1 L249.0 356.5 L250.4 356.9 L251.9 357.4 L253.3 357.8 L254.8 358.2 L255.7 358.5" stroke="#4040d8"/>
</g>
<path d="M95.64 391.33 v-3.50 M95.64 222.83 v3.50 M148.78 391.33 v-3.50 M148.78 222.83 v3.50 M201.91 391.33 v-3.50 M201.91 222.83 v3.50 M42.50 367.26 h3.50 M255.05 367.26 h-3.50 M42.50 343.19 h3.50 M255.05 343.19 h-3.50 M42.50 319.12 h3.50 M255.05 319.12 h-3.50 M42.50 295.04 h3.50 M255.05 295.04 h-3.50 M42.50 270.97 h3.50 M255.05 270.97 h-3.50 M42.50 246.90 h3.50 M255.05 246.90 h-3.50" stroke="#333" stroke-width="0.8" fill="none"/>
<path d="M58.50 391.33 v-1.80 M58.50 222.83 v1.80 M67.85 391.33 v-1.80 M67.85 222.83 v1.80 M74.49 391.33 v-1.80 M74.49 222.83 v1.80 M79.64 391.33 v-1.80 M79.64 222.83 v1.80 M83.85 391.33 v-1.80 M83.85 222.83 v1.80 M87.41 391.33 v-1.80 M87.41 222.83 v1.80 M90.49 391.33 v-1.80 M90.49 222.83 v1.80 M93.21 391.33 v-1.80 M93.21 222.83 v1.80 M111.63 391.33 v-1.80 M111.63 222.83 v1.80 M120.99 391.33 v-1.80 M120.99 222.83 v1.80 M127.63 391.33 v-1.80 M127.63 222.83 v1.80 M132.78 391.33 v-1.80 M132.78 222.83 v1.80 M136.99 391.33 v-1.80 M136.99 222.83 v1.80 M140.54 391.33 v-1.80 M140.54 222.83 v1.80 M143.63 391.33 v-1.80 M143.63 222.83 v1.80 M146.34 391.33 v-1.80 M146.34 222.83 v1.80 M164.77 391.33 v-1.80 M164.77 222.83 v1.80 M174.13 391.33 v-1.80 M174.13 222.83 v1.80 M180.77 391.33 v-1.80 M180.77 222.83 v1.80 M185.92 391.33 v-1.80 M185.92 222.83 v1.80 M190.12 391.33 v-1.80 M190.12 222.83 v1.80 M193.68 391.33 v-1.80 M193.68 222.83 v1.80 M196.76 391.33 v-1.80 M196.76 222.83 v1.80 M199.48 391.33 v-1.80 M199.48 222.83 v1.80 M217.91 391.33 v-1.80 M217.91 222.83 v1.80 M227.27 391.33 v-1.80 M227.27 222.83 v1.80 M233.90 391.33 v-1.80 M233.90 222.83 v1.80 M239.05 391.33 v-1.80 M239.05 222.83 v1.80 M243.26 391.33 v-1.80 M243.26 222.83 v1.80 M246.82 391.33 v-1.80 M246.82 222.83 v1.80 M249.90 391.33 v-1.80 M249.90 222.83 v1.80 M252.62 391.33 v-1.80 M252.62 222.83 v1.80 M42.50 384.08 h1.80 M255.05 384.08 h-1.80 M42.50 379.85 h1.80 M255.05 379.85 h-1.80 M42.50 376.84 h1.80 M255.05 376.84 h-1.80 M42.50 374.50 h1.80 M255.05 374.50 h-1.80 M42.50 372.60 h1.80 M255.05 372.60 h-1.80 M42.50 370.99 h1.80 M255.05 370.99 h-1.80 M42.50 369.59 h1.80 M255.05 369.59 h-1.80 M42.50 368.36 h1.80 M255.05 368.36 h-1.80 M42.50 360.01 h1.80 M255.05 360.01 h-1.80 M42.50 355.77 h1.80 M255.05 355.77 h-1.80 M42.50 352.77 h1.80 M255.05 352.77 h-1.80 M42.50 350.43 h1.80 M255.05 350.43 h-1.80 M42.50 348.53 h1.80 M255.05 348.53 h-1.80 M42.50 346.92 h1.80 M255.05 346.92 h-1.80 M42.50 345.52 h1.80 M255.05 345.52 h-1.80 M42.50 344.29 h1.80 M255.05 344.29 h-1.80 M42.50 335.94 h1.80 M255.05 335.94 h-1.80 M42.50 331.70 h1.80 M255.05 331.70 h-1.80 M42.50 328.69 h1.80 M255.05 328.69 h-1.80 M42.50 326.36 h1.80 M255.05 326.36 h-1.80 M42.50 324.46 h1.80 M255.05 324.46 h-1.80 M42.50 322.84 h1.80 M255.05 322.84 h-1.80 M42.50 321.45 h1.80 M255.05 321.45 h-1.80 M42.50 320.22 h1.80 M255.05 320.22 h-1.80 M42.50 311.87 h1.80 M255.05 311.87 h-1.80 M42.50 307.63 h1.80 M255.05 307.63 h-1.80 M42.50 304.62 h1.80 M255.05 304.62 h-1.80 M42.50 302.29 h1.80 M255.05 302.29 h-1.80 M42.50 300.38 h1.80 M255.05 300.38 h-1.80 M42.50 298.77 h1.80 M255.05 298.77 h-1.80 M42.50 297.38 h1.80 M255.05 297.38 h-1.80 M42.50 296.15 h1.80 M255.05 296.15 h-1.80 M42.50 287.80 h1.80 M255.05 287.80 h-1.80 M42.50 283.56 h1.80 M255.05 283.56 h-1.80 M42.50 280.55 h1.80 M255.05 280.55 h-1.80 M42.50 278.22 h1.80 M255.05 278.22 h-1.80 M42.50 276.31 h1.80 M255.05 276.31 h-1.80 M42.50 274.70 h1.80 M255.05 274.70 h-1.80 M42.50 273.31 h1.80 M255.05 273.31 h-1.80 M42.50 272.07 h1.80 M255.05 272.07 h-1.80 M42.50 263.73 h1.80 M255.05 263.73 h-1.80 M42.50 259.49 h1.80 M255.05 259.49 h-1.80 M42.50 256.48 h1.80 M255.05 256.48 h-1.80 M42.50 254.15 h1.80 M255.05 254.15 h-1.80 M42.50 252.24 h1.80 M255.05 252.24 h-1.80 M42.50 250.63 h1.80 M255.05 250.63 h-1.80 M42.50 249.23 h1.80 M255.05 249.23 h-1.80 M42.50 248.00 h1.80 M255.05 248.00 h-1.80 M42.50 239.66 h1.80 M255.05 239.66 h-1.80 M42.50 235.42 h1.80 M255.05 235.42 h-1.80 M42.50 232.41 h1.80 M255.05 232.41 h-1.80 M42.50 230.08 h1.80 M255.05 230.08 h-1.80 M42.50 228.17 h1.80 M255.05 228.17 h-1.80 M42.50 226.56 h1.80 M255.05 226.56 h-1.80 M42.50 225.16 h1.80 M255.05 225.16 h-1.80 M42.50 223.93 h1.80 M255.05 223.93 h-1.80" stroke="#555" stroke-width="0.6" fill="none"/>
<rect x="42.50" y="222.83" width="212.55" height="168.50" fill="none" stroke="#333" stroke-width="1.15"/>
<text x="38.90" y="225.53" font-size="8.9" font-family="DejaVu Serif, Liberation Serif, serif" text-anchor="end" fill="#1a1a1a" stroke="#1a1a1a" stroke-width="0.2">10<tspan font-size="6.1" dx="0.6" dy="-4.5" stroke-width="0.12">-3</tspan></text>
<text x="38.90" y="249.60" font-size="8.9" font-family="DejaVu Serif, Liberation Serif, serif" text-anchor="end" fill="#1a1a1a" stroke="#1a1a1a" stroke-width="0.2">10<tspan font-size="6.1" dx="0.6" dy="-4.5" stroke-width="0.12">-4</tspan></text>
<text x="38.90" y="273.67" font-size="8.9" font-family="DejaVu Serif, Liberation Serif, serif" text-anchor="end" fill="#1a1a1a" stroke="#1a1a1a" stroke-width="0.2">10<tspan font-size="6.1" dx="0.6" dy="-4.5" stroke-width="0.12">-5</tspan></text>
<text x="38.90" y="297.74" font-size="8.9" font-family="DejaVu Serif, Liberation Serif, serif" text-anchor="end" fill="#1a1a1a" stroke="#1a1a1a" stroke-width="0.2">10<tspan font-size="6.1" dx="0.6" dy="-4.5" stroke-width="0.12">-6</tspan></text>
<text x="38.90" y="321.82" font-size="8.9" font-family="DejaVu Serif, Liberation Serif, serif" text-anchor="end" fill="#1a1a1a" stroke="#1a1a1a" stroke-width="0.2">10<tspan font-size="6.1" dx="0.6" dy="-4.5" stroke-width="0.12">-7</tspan></text>
<text x="38.90" y="345.89" font-size="8.9" font-family="DejaVu Serif, Liberation Serif, serif" text-anchor="end" fill="#1a1a1a" stroke="#1a1a1a" stroke-width="0.2">10<tspan font-size="6.1" dx="0.6" dy="-4.5" stroke-width="0.12">-8</tspan></text>
<text x="38.90" y="369.96" font-size="8.9" font-family="DejaVu Serif, Liberation Serif, serif" text-anchor="end" fill="#1a1a1a" stroke="#1a1a1a" stroke-width="0.2">10<tspan font-size="6.1" dx="0.6" dy="-4.5" stroke-width="0.12">-9</tspan></text>
<text x="38.90" y="394.03" font-size="8.9" font-family="DejaVu Serif, Liberation Serif, serif" text-anchor="end" fill="#1a1a1a" stroke="#1a1a1a" stroke-width="0.2">10<tspan font-size="6.1" dx="0.6" dy="-4.5" stroke-width="0.12">-10</tspan></text>
<text x="42.80" y="403.23" font-size="8.9" font-family="DejaVu Serif, Liberation Serif, serif" text-anchor="middle" fill="#1a1a1a" stroke="#1a1a1a" stroke-width="0.2">10<tspan font-size="6.1" dx="-0.2" dy="-4.4" stroke-width="0.12">1</tspan></text>
<text x="95.94" y="403.23" font-size="8.9" font-family="DejaVu Serif, Liberation Serif, serif" text-anchor="middle" fill="#1a1a1a" stroke="#1a1a1a" stroke-width="0.2">10<tspan font-size="6.1" dx="-0.2" dy="-4.4" stroke-width="0.12">2</tspan></text>
<text x="149.08" y="403.23" font-size="8.9" font-family="DejaVu Serif, Liberation Serif, serif" text-anchor="middle" fill="#1a1a1a" stroke="#1a1a1a" stroke-width="0.2">10<tspan font-size="6.1" dx="-0.2" dy="-4.4" stroke-width="0.12">3</tspan></text>
<text x="202.21" y="403.23" font-size="8.9" font-family="DejaVu Serif, Liberation Serif, serif" text-anchor="middle" fill="#1a1a1a" stroke="#1a1a1a" stroke-width="0.2">10<tspan font-size="6.1" dx="-0.2" dy="-4.4" stroke-width="0.12">4</tspan></text>
<text x="255.35" y="403.23" font-size="8.9" font-family="DejaVu Serif, Liberation Serif, serif" text-anchor="middle" fill="#1a1a1a" stroke="#1a1a1a" stroke-width="0.2">10<tspan font-size="6.1" dx="-0.2" dy="-4.4" stroke-width="0.12">5</tspan></text>
<text x="148.78" y="218.43" font-size="10" text-anchor="middle" fill="#1a1a1a" stroke="#1a1a1a" stroke-width="0.2">(c)</text>
<text transform="translate(9.2 307.08) rotate(-90)" font-size="10" text-anchor="middle" fill="#1a1a1a" stroke="#1a1a1a" stroke-width="0.2">n<tspan font-size="7" font-style="italic" dy="2.2">X</tspan><tspan dy="-2.2"> /n</tspan><tspan font-size="7" font-style="italic" dy="2.2">H</tspan></text>
<text x="136.70" y="239.90" font-size="9.4" fill="#3a3a3a" stroke="#3a3a3a" stroke-width="0.3">O</text>
<text x="135.40" y="279.00" font-size="9.4" fill="#d63fae" stroke="#d63fae" stroke-width="0.3">H<tspan font-size="7.05" font-weight="200" stroke="none" fill-opacity="0.85" dx="0.5" dy="-3.6">+</tspan></text>
<text x="76.30" y="287.60" font-size="9.4" fill="#3fa9f5" stroke="#3fa9f5" stroke-width="0.3">He<tspan font-size="7.05" font-weight="200" stroke="none" fill-opacity="0.85" dx="0.5" dy="-3.6">+</tspan></text>
<text x="85.40" y="311.10" font-size="9.4" fill="#5cbf8c" stroke="#5cbf8c" stroke-width="0.3">C<tspan font-size="7.05" font-weight="200" stroke="none" fill-opacity="0.85" dx="0.5" dy="-3.6">+</tspan></text>
<text x="82.10" y="346.30" font-size="9.4" fill="#4040d8" stroke="#4040d8" stroke-width="0.3">H<tspan font-size="5.64" stroke-width="0.15" dx="0.1" dy="2.4">3</tspan><tspan font-size="7.05" font-weight="200" stroke="none" fill-opacity="0.85" dx="0.7" dy="-6.0">+</tspan></text>
<text x="70.40" y="377.00" font-size="9.4" fill="#f56a35" stroke="#f56a35" stroke-width="0.3">O<tspan font-size="5.64" stroke-width="0.15" dx="0.1" dy="2.4">2</tspan></text>
<text x="187.40" y="272.30" font-size="9.4" fill="#fbb03b" stroke="#fbb03b" stroke-width="0.3">C</text>
</g>
<g>
<clipPath id="cd"><rect x="302.20" y="222.83" width="213.10" height="168.50"/></clipPath>
<g clip-path="url(#cd)" fill="none" stroke-width="1.35" stroke-linejoin="round" stroke-linecap="butt">
<path d="M302.0 248.0 L303.5 248.0 L305.0 248.0 L306.5 248.0 L308.0 248.0 L309.5 248.1 L311.0 248.1 L312.5 248.1 L314.0 248.1 L315.5 248.1 L317.0 248.1 L318.5 248.1 L320.0 248.1 L321.5 248.1 L323.0 248.2 L324.5 248.2 L326.0 248.2 L327.5 248.2 L329.0 248.2 L330.5 248.2 L332.0 248.2 L333.5 248.2 L335.0 248.2 L336.5 248.3 L338.0 248.3 L339.5 248.3 L341.0 248.3 L342.5 248.3 L344.0 248.3 L345.5 248.3 L347.0 248.3 L348.5 248.3 L350.0 248.3 L351.5 248.3 L353.0 248.3 L354.5 248.4 L356.0 248.4 L357.5 248.4 L359.0 248.4 L360.5 248.4 L362.0 248.4 L363.5 248.4 L365.0 248.4 L366.5 248.4 L368.0 248.5 L369.5 248.5 L371.0 248.6 L372.5 248.6 L374.0 248.7 L375.5 248.7 L377.0 248.8 L378.5 249.0 L380.0 249.2 L381.4 249.4 L382.7 250.0 L383.8 250.9 L384.4 251.6" stroke="#3a3a3a"/>
<path d="M375.2 257.7 L376.4 258.6 L377.7 259.4 L378.9 260.2 L380.2 261.0 L381.5 261.7 L382.9 262.4 L384.2 263.0 L385.6 263.5 L387.1 263.9 L388.5 264.3 L390.0 264.7 L391.4 265.1 L392.9 265.5 L394.3 265.9 L395.8 266.3 L397.2 266.6 L398.7 267.0 L400.1 267.3 L401.6 267.6 L403.1 267.9 L404.5 268.2 L406.0 268.5 L407.5 268.8 L409.0 269.1 L410.4 269.4 L411.9 269.8 L413.3 270.1 L414.8 270.4 L416.3 270.8 L417.7 271.1 L419.2 271.4 L420.7 271.7 L422.1 272.0 L423.6 272.3 L425.1 272.5 L426.6 272.8 L428.0 273.1 L429.5 273.3 L431.0 273.6 L432.5 273.8 L434.0 274.1 L435.4 274.2 L436.9 274.4 L438.4 274.6 L439.9 274.7 L441.4 274.9 L442.9 275.1 L444.4 275.2 L445.9 275.4 L447.4 275.5 L448.9 275.6 L450.4 275.7 L451.9 275.9 L453.4 276.0 L454.9 276.1 L456.3 276.2 L457.8 276.4 L459.3 276.5 L460.8 276.6 L462.3 276.7 L463.8 276.8 L465.3 276.9 L466.8 277.0 L468.3 277.1 L469.8 277.2 L471.3 277.3 L472.8 277.4 L474.3 277.4 L475.8 277.5 L477.3 277.6 L478.8 277.7 L480.3 277.8 L481.8 277.8 L483.3 277.9 L484.8 278.0 L486.3 278.0 L487.8 278.1 L489.3 278.2 L490.8 278.2 L492.3 278.3 L493.8 278.3 L495.3 278.4 L496.8 278.4 L498.3 278.5 L499.8 278.5 L501.3 278.6 L502.8 278.6 L504.3 278.6 L505.8 278.7 L507.3 278.7 L508.8 278.7 L510.3 278.8 L511.8 278.8 L513.3 278.8 L514.8 278.9 L515.8 278.9" stroke="#3a3a3a"/>
<path d="M302.0 257.1 L303.5 257.1 L305.0 257.1 L306.5 257.1 L308.0 257.1 L309.5 257.2 L311.0 257.2 L312.5 257.2 L314.0 257.2 L315.5 257.2 L317.0 257.2 L318.5 257.2 L320.0 257.2 L321.5 257.2 L323.0 257.3 L324.5 257.3 L326.0 257.3 L327.5 257.3 L329.0 257.3 L330.5 257.4 L332.0 257.4 L333.5 257.5 L335.0 257.5 L336.5 257.6 L338.0 257.6 L339.5 257.7 L341.0 257.7 L342.5 257.8 L344.0 257.8 L345.5 257.9 L347.0 257.9 L348.5 258.0 L350.0 258.1 L351.5 258.2 L353.0 258.3 L354.5 258.4 L356.0 258.4 L357.5 258.5 L359.0 258.6 L360.5 258.7 L362.0 258.8 L363.5 258.9 L365.0 259.0 L366.5 259.1 L367.9 259.2 L369.4 259.4 L370.9 259.5 L372.4 259.7 L373.9 260.0 L375.3 260.4 L376.8 260.7 L378.2 261.1 L379.7 261.6 L381.1 262.1 L382.5 262.6 L383.4 263.0" stroke="#fbb03b"/>
<path d="M376.6 300.3 L377.2 301.7 L377.7 303.1 L378.3 304.5 L378.9 305.8 L379.7 307.1 L380.5 308.3 L381.5 309.5 L382.5 310.6 L383.6 311.6 L384.7 312.6 L385.9 313.5 L387.1 314.4 L388.3 315.4 L389.4 316.3 L390.6 317.2 L391.8 318.1 L393.0 319.1 L394.1 320.0 L395.3 320.9 L396.5 321.9 L397.7 322.8 L398.8 323.7 L400.0 324.6 L401.3 325.5 L402.6 326.2 L403.9 327.0 L405.2 327.8 L406.4 328.5 L407.7 329.3 L409.0 330.1 L410.3 330.8 L411.6 331.6 L412.9 332.4 L414.2 333.1 L415.5 333.9 L416.8 334.7 L418.0 335.4 L419.3 336.2 L420.6 337.0 L421.9 337.7 L423.2 338.5 L424.5 339.3 L425.8 340.0 L427.1 340.8 L428.4 341.6 L429.6 342.3 L430.9 343.1 L432.2 343.9 L433.5 344.6 L434.8 345.4 L436.1 346.2 L437.4 346.9 L438.7 347.7 L440.0 348.5 L441.3 349.2 L442.5 350.0 L443.8 350.8 L445.1 351.5 L446.4 352.3 L447.7 353.1 L449.0 353.8 L450.3 354.6 L451.6 355.4 L452.9 356.1 L454.1 356.9 L455.4 357.7 L456.7 358.4 L458.0 359.2 L459.3 360.0 L460.6 360.8 L461.9 361.5 L463.1 362.3 L464.4 363.1 L465.7 363.9 L467.0 364.6 L468.3 365.4 L469.6 366.2 L470.8 367.0 L472.1 367.8 L473.4 368.5 L474.7 369.3 L476.0 370.1 L477.3 370.9 L478.5 371.6 L479.8 372.4 L481.1 373.2 L482.4 374.0 L483.7 374.7 L485.0 375.5 L486.2 376.3 L487.5 377.1 L488.8 377.9 L490.1 378.6 L491.4 379.4 L492.7 380.2 L493.9 381.0 L495.2 381.7 L496.5 382.5 L497.8 383.3 L499.1 384.1 L500.4 384.8 L501.6 385.6 L502.9 386.4 L504.2 387.2 L505.5 388.0 L506.8 388.7 L508.1 389.5 L509.3 390.3 L510.6 391.1 L511.9 391.8 L512.8 392.4" stroke="#fbb03b"/>
<path d="M302.0 242.7 L303.4 243.2 L304.8 243.7 L306.3 244.2 L307.7 244.7 L309.1 245.2 L310.5 245.6 L311.9 246.1 L313.3 246.6 L314.8 247.1 L316.2 247.7 L317.6 248.2 L318.9 248.8 L320.3 249.3 L321.7 249.9 L323.1 250.4 L324.5 251.0 L325.9 251.6 L327.3 252.1 L328.7 252.7 L330.0 253.3 L331.4 253.9 L332.8 254.5 L334.1 255.2 L335.5 255.8 L336.9 256.4 L338.2 257.1 L339.5 257.9 L340.7 258.7 L342.0 259.5 L343.2 260.4 L344.4 261.3 L345.5 262.3 L346.4 263.5 L347.3 264.6 L348.3 265.8 L349.2 267.0 L350.1 268.2 L351.1 269.3 L352.0 270.5 L352.9 271.7 L353.9 272.9 L354.8 274.0 L355.8 275.2 L356.8 276.3 L357.8 277.4 L358.8 278.5 L359.8 279.6 L360.8 280.7 L361.9 281.8 L362.9 282.9 L363.9 284.0 L365.0 285.1 L366.0 286.1 L367.1 287.1 L368.2 288.2 L369.3 289.2 L370.4 290.3 L371.4 291.3 L372.5 292.4 L373.6 293.4 L374.7 294.4 L375.8 295.5 L376.8 296.5 L377.9 297.6 L379.0 298.7 L380.0 299.7 L381.1 300.8 L382.1 301.8 L383.2 302.9 L383.5 303.2" stroke="#d63fae"/>
<path d="M377.7 318.0 L378.8 319.1 L379.8 320.1 L380.9 321.2 L382.0 322.2 L383.1 323.2 L384.3 324.1 L385.4 325.1 L386.6 326.0 L387.8 326.9 L389.0 327.8 L390.2 328.7 L391.5 329.5 L392.7 330.4 L393.9 331.3 L395.1 332.2 L396.3 333.1 L397.5 333.9 L398.8 334.8 L400.0 335.6 L401.3 336.4 L402.6 337.0 L404.0 337.7 L405.3 338.4 L406.7 339.1 L408.0 339.8 L409.3 340.4 L410.7 341.1 L412.0 341.8 L413.3 342.5 L414.7 343.2 L416.0 343.8 L417.4 344.5 L418.7 345.2 L420.0 345.9 L421.4 346.5 L422.7 347.2 L424.0 347.9 L425.4 348.6 L426.7 349.3 L428.1 349.9 L429.4 350.6 L430.7 351.3 L432.1 352.0 L433.4 352.7 L434.7 353.3 L436.1 354.0 L437.4 354.7 L438.8 355.4 L440.1 356.1 L441.4 356.7 L442.8 357.4 L444.1 358.1 L445.4 358.8 L446.8 359.5 L448.1 360.2 L449.4 360.9 L450.8 361.5 L452.1 362.2 L453.4 362.9 L454.8 363.6 L456.1 364.3 L457.4 365.0 L458.8 365.7 L460.1 366.3 L461.4 367.0 L462.8 367.7 L464.1 368.4 L465.4 369.1 L466.8 369.8 L468.1 370.5 L469.4 371.1 L470.8 371.8 L472.1 372.5 L473.5 373.1 L474.8 373.8 L476.2 374.4 L477.5 375.1 L478.9 375.7 L480.2 376.4 L481.6 377.0 L483.0 377.7 L484.3 378.3 L485.7 379.0 L487.0 379.6 L488.4 380.3 L489.7 380.9 L491.1 381.5 L492.4 382.2 L493.8 382.8 L495.1 383.5 L496.5 384.1 L497.8 384.8 L499.2 385.4 L500.6 386.1 L501.9 386.7 L503.3 387.4 L504.6 388.0 L506.0 388.6 L507.3 389.3 L508.7 389.9 L510.0 390.6 L511.4 391.2 L512.7 391.9" stroke="#d63fae"/>
<path d="M302.0 257.3 L303.4 257.8 L304.8 258.3 L306.2 258.8 L307.7 259.3 L309.1 259.8 L310.5 260.3 L311.9 260.8 L313.3 261.3 L314.7 261.8 L316.1 262.3 L317.5 262.9 L318.9 263.4 L320.3 264.0 L321.7 264.5 L323.1 265.1 L324.5 265.6 L325.9 266.2 L327.3 266.7 L328.7 267.3 L330.1 267.8 L331.5 268.3 L332.9 268.8 L334.3 269.3 L335.8 269.8 L337.2 270.3 L338.6 270.8 L340.0 271.3 L341.4 271.8 L342.7 272.5 L344.0 273.2 L345.3 274.0 L346.6 274.8 L347.9 275.5 L349.2 276.4 L350.4 277.2 L351.6 278.1 L352.8 278.9 L354.1 279.8 L355.3 280.7 L356.5 281.6 L357.6 282.5 L358.8 283.5 L360.0 284.4 L361.2 285.3 L362.3 286.3 L363.5 287.3 L364.6 288.2 L365.8 289.2 L366.9 290.2 L368.0 291.2 L369.1 292.2 L370.1 293.3 L371.2 294.3 L372.2 295.4 L373.3 296.5 L374.3 297.6 L375.3 298.8 L376.2 299.9 L377.2 301.1 L378.2 302.2 L379.1 303.3 L380.2 304.4 L381.2 305.5 L382.3 306.5 L382.7 306.9" stroke="#3fa9f5"/>
<path d="M375.4 314.6 L376.7 315.3 L378.0 316.1 L379.3 316.9 L380.6 317.6 L381.9 318.4 L383.2 319.1 L384.5 319.9 L385.7 320.7 L387.0 321.4 L388.3 322.2 L389.6 322.9 L390.9 323.7 L392.3 324.3 L393.7 324.9 L395.0 325.6 L396.4 326.2 L397.7 326.8 L399.1 327.5 L400.4 328.2 L401.8 328.8 L403.2 329.4 L404.5 330.0 L405.9 330.6 L407.3 331.2 L408.6 331.8 L410.0 332.5 L411.4 333.1 L412.8 333.7 L414.1 334.3 L415.5 334.9 L416.9 335.5 L418.2 336.1 L419.6 336.7 L421.0 337.3 L422.3 337.9 L423.7 338.5 L425.1 339.2 L426.5 339.8 L427.8 340.4 L429.2 341.0 L430.6 341.6 L431.9 342.2 L433.3 342.8 L434.7 343.4 L436.0 344.0 L437.4 344.6 L438.8 345.3 L440.2 345.9 L441.5 346.5 L442.9 347.1 L444.3 347.7 L445.6 348.3 L447.0 348.9 L448.4 349.5 L449.8 350.1 L451.1 350.7 L452.5 351.4 L453.9 352.0 L455.2 352.6 L456.6 353.2 L458.0 353.8 L459.3 354.4 L460.7 355.0 L462.1 355.7 L463.4 356.3 L464.8 356.9 L466.2 357.5 L467.5 358.2 L468.9 358.8 L470.3 359.4 L471.6 360.0 L473.0 360.6 L474.4 361.3 L475.7 361.9 L477.1 362.5 L478.4 363.1 L479.8 363.8 L481.2 364.4 L482.5 365.0 L483.9 365.6 L485.3 366.3 L486.6 366.9 L488.0 367.5 L489.4 368.1 L490.7 368.8 L492.1 369.4 L493.5 370.0 L494.8 370.6 L496.2 371.2 L497.5 371.9 L498.9 372.5 L500.3 373.1 L501.6 373.7 L503.0 374.4 L504.4 375.0 L505.7 375.6 L507.1 376.2 L508.5 376.9 L509.8 377.5 L511.2 378.1 L512.6 378.7 L513.9 379.3 L515.3 380.0 L515.7 380.2" stroke="#3fa9f5"/>
<path d="M302.0 303.3 L303.5 302.9 L304.9 302.6 L306.4 302.2 L307.8 301.9 L309.3 301.5 L310.7 301.1 L312.2 300.8 L313.6 300.4 L315.1 300.1 L316.6 299.7 L318.0 299.4 L319.5 299.2 L321.0 298.9 L322.5 298.6 L323.9 298.3 L325.4 298.0 L326.9 297.7 L328.3 297.3 L329.8 296.9 L331.2 296.5 L332.6 296.1 L334.1 295.6 L335.5 295.2 L336.9 294.7 L338.3 294.2 L339.7 293.6 L340.9 292.8 L342.1 291.9 L343.3 291.0 L344.5 290.1 L345.7 289.1 L346.8 288.1 L347.9 287.1 L349.1 286.2 L350.3 285.3 L351.6 284.6 L352.9 283.9 L354.3 283.3 L355.6 282.7 L357.1 282.3 L358.5 282.0 L360.0 281.7 L361.5 281.5 L363.0 281.3 L364.5 281.3 L366.0 281.4 L367.5 281.5 L369.0 281.6 L370.5 281.7 L371.9 281.9 L373.4 282.1 L374.9 282.4 L376.4 282.7 L377.9 282.9 L379.3 283.3 L380.8 283.7 L382.2 284.1 L383.7 284.5" stroke="#5cbf8c"/>
<path d="M374.9 298.0 L375.6 299.3 L376.3 300.6 L377.1 301.9 L377.8 303.2 L378.6 304.5 L379.5 305.7 L380.5 306.8 L381.6 307.7 L382.9 308.6 L384.1 309.4 L385.4 310.2 L386.7 311.0 L388.0 311.7 L389.3 312.5 L390.6 313.2 L391.9 313.9 L393.3 314.6 L394.6 315.2 L396.0 315.9 L397.3 316.6 L398.6 317.3 L399.9 318.1 L401.2 318.8 L402.6 319.4 L403.9 320.0 L405.3 320.6 L406.7 321.2 L408.1 321.8 L409.4 322.4 L410.8 322.9 L412.2 323.5 L413.6 324.1 L415.0 324.7 L416.3 325.3 L417.7 325.9 L419.1 326.5 L420.5 327.1 L421.9 327.7 L423.2 328.3 L424.6 328.9 L426.0 329.5 L427.4 330.0 L428.7 330.6 L430.1 331.2 L431.5 331.8 L432.9 332.4 L434.3 333.0 L435.6 333.6 L437.0 334.2 L438.4 334.8 L439.8 335.4 L441.1 336.0 L442.5 336.6 L443.9 337.1 L445.3 337.7 L446.7 338.3 L448.0 338.9 L449.4 339.5 L450.8 340.1 L452.2 340.7 L453.6 341.3 L454.9 341.9 L456.3 342.5 L457.7 343.1 L459.0 343.7 L460.4 344.3 L461.8 345.0 L463.1 345.6 L464.5 346.3 L465.8 346.9 L467.2 347.6 L468.5 348.2 L469.9 348.9 L471.2 349.5 L472.6 350.2 L473.9 350.8 L475.3 351.5 L476.6 352.1 L478.0 352.7 L479.3 353.4 L480.7 354.0 L482.1 354.7 L483.4 355.3 L484.8 356.0 L486.1 356.6 L487.5 357.3 L488.8 357.9 L490.2 358.6 L491.5 359.2 L492.9 359.9 L494.2 360.5 L495.6 361.2 L496.9 361.8 L498.3 362.4 L499.7 363.1 L501.0 363.7 L502.4 364.4 L503.7 365.0 L505.1 365.7 L506.4 366.3 L507.8 367.0 L509.1 367.6 L510.5 368.3 L511.8 368.9 L513.2 369.6 L514.5 370.2 L515.9 370.9" stroke="#5cbf8c"/>
<path d="M375.2 283.5 L376.1 282.3 L376.9 281.1 L377.9 279.9 L378.9 278.8 L379.9 277.7 L381.1 276.8 L382.3 275.9 L383.6 275.2 L385.0 274.6 L386.3 274.0 L387.7 273.4 L389.1 272.9 L390.6 272.5 L392.0 272.0 L393.4 271.6 L394.9 271.3 L396.4 270.9 L397.8 270.6 L399.3 270.3 L400.8 270.0 L402.2 269.8 L403.7 269.5 L405.2 269.2 L406.7 268.9 L408.1 268.7 L409.6 268.4 L411.1 268.2 L412.6 267.9 L414.1 267.7 L415.5 267.4 L417.0 267.2 L418.5 267.0 L420.0 266.7 L421.5 266.5 L423.0 266.3 L424.4 266.1 L425.9 265.9 L427.4 265.7 L428.9 265.5 L430.4 265.3 L431.9 265.1 L433.4 264.9 L434.9 264.8 L436.3 264.7 L437.8 264.6 L439.3 264.5 L440.8 264.4 L442.3 264.3 L443.8 264.2 L445.3 264.1 L446.8 264.0 L448.3 264.0 L449.8 263.9 L451.3 263.9 L452.8 263.8 L454.3 263.8 L455.8 263.7 L457.3 263.7 L458.8 263.7 L460.3 263.6 L461.8 263.6 L463.3 263.5 L464.8 263.5 L466.3 263.5 L467.8 263.4 L469.3 263.4 L470.8 263.3 L472.3 263.3 L473.8 263.2 L475.3 263.2 L476.8 263.1 L478.3 263.1 L479.8 263.1 L481.3 263.0 L482.8 263.0 L484.3 262.9 L485.8 262.9 L487.3 262.8 L488.8 262.8 L490.3 262.7 L491.8 262.7 L493.3 262.7 L494.8 262.6 L496.3 262.6 L497.8 262.5 L499.3 262.5 L500.8 262.5 L502.3 262.5 L503.8 262.5 L505.3 262.5 L506.8 262.5 L508.3 262.4 L509.8 262.4 L511.3 262.4 L512.8 262.4 L514.3 262.4 L515.8 262.4" stroke="#f56a35"/>
<path d="M309.3 391.3 L310.3 390.2 L311.3 389.1 L312.3 388.0 L313.3 386.9 L314.3 385.7 L315.3 384.6 L316.3 383.5 L317.3 382.3 L318.2 381.2 L319.2 380.0 L320.1 378.9 L321.1 377.7 L322.1 376.6 L323.1 375.5 L324.1 374.3 L325.1 373.2 L326.0 372.1 L327.0 370.9 L328.0 369.8 L329.0 368.7 L329.9 367.5 L330.9 366.3 L331.8 365.1 L332.7 363.9 L333.6 362.8 L334.5 361.6 L335.4 360.4 L336.3 359.2 L337.2 358.0 L338.2 356.8 L339.0 355.6 L339.9 354.4 L340.7 353.1 L341.6 351.9 L342.4 350.6 L343.3 349.4 L344.1 348.1 L344.8 346.8 L345.4 345.5 L346.0 344.1 L346.6 342.7 L347.1 341.3 L347.7 339.9 L348.3 338.5 L348.9 337.2 L349.6 335.8 L350.3 334.5 L351.0 333.2 L351.7 331.9 L352.5 330.6 L353.2 329.3 L354.1 328.1 L355.0 326.9 L356.0 325.8 L357.0 324.6 L358.0 323.6 L359.1 322.5 L360.3 321.6 L361.4 320.7 L362.6 319.8 L363.9 318.9 L365.2 318.1 L366.4 317.4 L367.7 316.6 L369.0 315.8 L370.3 315.1 L371.7 314.5 L373.0 313.8 L374.4 313.2 L375.8 312.6 L377.1 312.0 L378.5 311.3 L379.8 310.6 L381.2 310.0 L382.1 309.5" stroke="#f56a35"/>
<path d="M302.0 327.1 L303.5 327.0 L305.0 326.9 L306.5 326.8 L308.0 326.7 L309.5 326.6 L311.0 326.6 L312.5 326.5 L314.0 326.4 L315.5 326.3 L317.0 326.2 L318.5 326.1 L320.0 326.1 L321.5 326.0 L323.0 325.9 L324.5 325.8 L326.0 325.7 L327.5 325.7 L329.0 325.6 L330.5 325.5 L332.0 325.4 L333.4 325.3 L334.9 325.2 L336.4 325.1 L337.9 325.0 L339.4 324.9 L340.9 324.7 L342.4 324.5 L343.8 324.0 L345.2 323.5 L346.6 323.0 L348.0 322.3 L349.3 321.7 L350.7 321.1 L352.1 320.6 L353.5 320.2 L355.0 319.8 L356.4 319.5 L357.9 319.2 L359.4 319.0 L360.9 318.9 L362.4 318.8 L363.9 318.8 L365.4 318.8 L366.9 318.8 L368.4 318.9 L369.9 318.9 L371.4 319.0 L372.9 319.0 L374.4 319.0 L375.9 319.1 L377.4 319.1 L378.9 319.2 L380.4 319.3 L381.9 319.3 L383.4 319.4" stroke="#4040d8"/>
<path d="M374.9 307.4 L376.4 307.4 L377.9 307.4 L379.4 307.4 L380.9 307.4 L382.4 307.4 L383.9 307.6 L385.3 307.9 L386.8 308.3 L388.2 308.7 L389.7 309.1 L391.1 309.5 L392.6 309.9 L394.0 310.3 L395.5 310.7 L396.9 311.1 L398.4 311.4 L399.8 311.7 L401.3 312.1 L402.7 312.5 L404.2 312.9 L405.6 313.4 L407.0 313.8 L408.5 314.2 L409.9 314.6 L411.4 315.0 L412.8 315.5 L414.2 315.9 L415.7 316.3 L417.1 316.7 L418.5 317.2 L420.0 317.6 L421.4 318.0 L422.9 318.4 L424.3 318.9 L425.7 319.3 L427.2 319.7 L428.6 320.1 L430.1 320.6 L431.5 321.0 L432.9 321.4 L434.4 321.8 L435.8 322.3 L437.3 322.7 L438.7 323.1 L440.1 323.6 L441.5 324.1 L442.9 324.6 L444.3 325.1 L445.7 325.7 L447.1 326.2 L448.5 326.7 L449.9 327.3 L451.4 327.8 L452.8 328.3 L454.2 328.8 L455.6 329.4 L457.0 329.9 L458.4 330.4 L459.8 331.0 L461.2 331.5 L462.6 332.0 L464.0 332.6 L465.4 333.1 L466.8 333.6 L468.2 334.1 L469.6 334.7 L471.0 335.2 L472.4 335.7 L473.8 336.3 L475.2 336.8 L476.6 337.3 L478.0 337.9 L479.4 338.4 L480.8 338.9 L482.2 339.5 L483.6 340.0 L485.0 340.5 L486.4 341.1 L487.8 341.8 L489.1 342.4 L490.5 343.0 L491.9 343.6 L493.2 344.2 L494.6 344.9 L496.0 345.5 L497.3 346.1 L498.7 346.7 L500.0 347.3 L501.4 348.0 L502.8 348.6 L504.1 349.2 L505.5 349.8 L506.9 350.4 L508.2 351.1 L509.6 351.7 L511.0 352.3 L512.3 352.9 L513.7 353.6 L515.1 354.2 L516.0 354.6" stroke="#4040d8"/>
<path d="M375.70 255.60 C377.13 255.07 378.57 254.53 380.00 254.00" stroke="#3a3a3a" stroke-dasharray="3.5 4.5"/>
<path d="M384.30 264.00 C384.30 266.20 384.68 268.75 384.30 270.60 C384.00 272.05 383.22 273.01 382.70 274.30 C382.15 275.67 381.75 277.28 381.10 278.60 C380.50 279.83 379.58 280.72 379.00 282.00 C378.34 283.47 377.89 285.24 377.50 287.00 C377.08 288.89 376.76 290.90 376.60 293.00 C376.43 295.31 376.60 297.87 376.60 300.30" stroke="#fbb03b" stroke-dasharray="3.5 4.5"/>
<path d="M375.20 283.50 C375.73 284.37 376.69 285.15 376.80 286.10 C376.92 287.11 375.47 288.48 375.70 289.40 C375.91 290.26 377.14 290.64 377.90 291.50 C378.91 292.65 380.16 294.46 381.10 295.80 C381.89 296.93 382.50 297.93 383.20 299.00" stroke="#f56a35" stroke-dasharray="3.5 4.5"/>
<path d="M383.80 288.80 C381.83 290.23 379.37 291.72 377.90 293.10 C376.84 294.09 376.30 295.03 375.50 296.00" stroke="#5cbf8c" stroke-dasharray="3.5 4.5"/>
<path d="M376.60 310.30 C377.37 310.67 378.06 310.82 378.90 311.40 C380.22 312.31 381.90 314.27 383.40 315.70" stroke="#4040d8" stroke-dasharray="3.5 4.5"/>
</g>
<path d="M355.47 391.33 v-3.50 M355.47 222.83 v3.50 M408.75 391.33 v-3.50 M408.75 222.83 v3.50 M462.02 391.33 v-3.50 M462.02 222.83 v3.50 M302.20 367.26 h3.50 M515.30 367.26 h-3.50 M302.20 343.19 h3.50 M515.30 343.19 h-3.50 M302.20 319.12 h3.50 M515.30 319.12 h-3.50 M302.20 295.04 h3.50 M515.30 295.04 h-3.50 M302.20 270.97 h3.50 M515.30 270.97 h-3.50 M302.20 246.90 h3.50 M515.30 246.90 h-3.50" stroke="#333" stroke-width="0.8" fill="none"/>
<path d="M318.24 391.33 v-1.80 M318.24 222.83 v1.80 M327.62 391.33 v-1.80 M327.62 222.83 v1.80 M334.27 391.33 v-1.80 M334.27 222.83 v1.80 M339.44 391.33 v-1.80 M339.44 222.83 v1.80 M343.66 391.33 v-1.80 M343.66 222.83 v1.80 M347.22 391.33 v-1.80 M347.22 222.83 v1.80 M350.31 391.33 v-1.80 M350.31 222.83 v1.80 M353.04 391.33 v-1.80 M353.04 222.83 v1.80 M371.51 391.33 v-1.80 M371.51 222.83 v1.80 M380.89 391.33 v-1.80 M380.89 222.83 v1.80 M387.55 391.33 v-1.80 M387.55 222.83 v1.80 M392.71 391.33 v-1.80 M392.71 222.83 v1.80 M396.93 391.33 v-1.80 M396.93 222.83 v1.80 M400.50 391.33 v-1.80 M400.50 222.83 v1.80 M403.59 391.33 v-1.80 M403.59 222.83 v1.80 M406.31 391.33 v-1.80 M406.31 222.83 v1.80 M424.79 391.33 v-1.80 M424.79 222.83 v1.80 M434.17 391.33 v-1.80 M434.17 222.83 v1.80 M440.82 391.33 v-1.80 M440.82 222.83 v1.80 M445.99 391.33 v-1.80 M445.99 222.83 v1.80 M450.21 391.33 v-1.80 M450.21 222.83 v1.80 M453.77 391.33 v-1.80 M453.77 222.83 v1.80 M456.86 391.33 v-1.80 M456.86 222.83 v1.80 M459.59 391.33 v-1.80 M459.59 222.83 v1.80 M478.06 391.33 v-1.80 M478.06 222.83 v1.80 M487.44 391.33 v-1.80 M487.44 222.83 v1.80 M494.10 391.33 v-1.80 M494.10 222.83 v1.80 M499.26 391.33 v-1.80 M499.26 222.83 v1.80 M503.48 391.33 v-1.80 M503.48 222.83 v1.80 M507.05 391.33 v-1.80 M507.05 222.83 v1.80 M510.14 391.33 v-1.80 M510.14 222.83 v1.80 M512.86 391.33 v-1.80 M512.86 222.83 v1.80 M302.20 384.08 h1.80 M515.30 384.08 h-1.80 M302.20 379.85 h1.80 M515.30 379.85 h-1.80 M302.20 376.84 h1.80 M515.30 376.84 h-1.80 M302.20 374.50 h1.80 M515.30 374.50 h-1.80 M302.20 372.60 h1.80 M515.30 372.60 h-1.80 M302.20 370.99 h1.80 M515.30 370.99 h-1.80 M302.20 369.59 h1.80 M515.30 369.59 h-1.80 M302.20 368.36 h1.80 M515.30 368.36 h-1.80 M302.20 360.01 h1.80 M515.30 360.01 h-1.80 M302.20 355.77 h1.80 M515.30 355.77 h-1.80 M302.20 352.77 h1.80 M515.30 352.77 h-1.80 M302.20 350.43 h1.80 M515.30 350.43 h-1.80 M302.20 348.53 h1.80 M515.30 348.53 h-1.80 M302.20 346.92 h1.80 M515.30 346.92 h-1.80 M302.20 345.52 h1.80 M515.30 345.52 h-1.80 M302.20 344.29 h1.80 M515.30 344.29 h-1.80 M302.20 335.94 h1.80 M515.30 335.94 h-1.80 M302.20 331.70 h1.80 M515.30 331.70 h-1.80 M302.20 328.69 h1.80 M515.30 328.69 h-1.80 M302.20 326.36 h1.80 M515.30 326.36 h-1.80 M302.20 324.46 h1.80 M515.30 324.46 h-1.80 M302.20 322.84 h1.80 M515.30 322.84 h-1.80 M302.20 321.45 h1.80 M515.30 321.45 h-1.80 M302.20 320.22 h1.80 M515.30 320.22 h-1.80 M302.20 311.87 h1.80 M515.30 311.87 h-1.80 M302.20 307.63 h1.80 M515.30 307.63 h-1.80 M302.20 304.62 h1.80 M515.30 304.62 h-1.80 M302.20 302.29 h1.80 M515.30 302.29 h-1.80 M302.20 300.38 h1.80 M515.30 300.38 h-1.80 M302.20 298.77 h1.80 M515.30 298.77 h-1.80 M302.20 297.38 h1.80 M515.30 297.38 h-1.80 M302.20 296.15 h1.80 M515.30 296.15 h-1.80 M302.20 287.80 h1.80 M515.30 287.80 h-1.80 M302.20 283.56 h1.80 M515.30 283.56 h-1.80 M302.20 280.55 h1.80 M515.30 280.55 h-1.80 M302.20 278.22 h1.80 M515.30 278.22 h-1.80 M302.20 276.31 h1.80 M515.30 276.31 h-1.80 M302.20 274.70 h1.80 M515.30 274.70 h-1.80 M302.20 273.31 h1.80 M515.30 273.31 h-1.80 M302.20 272.07 h1.80 M515.30 272.07 h-1.80 M302.20 263.73 h1.80 M515.30 263.73 h-1.80 M302.20 259.49 h1.80 M515.30 259.49 h-1.80 M302.20 256.48 h1.80 M515.30 256.48 h-1.80 M302.20 254.15 h1.80 M515.30 254.15 h-1.80 M302.20 252.24 h1.80 M515.30 252.24 h-1.80 M302.20 250.63 h1.80 M515.30 250.63 h-1.80 M302.20 249.23 h1.80 M515.30 249.23 h-1.80 M302.20 248.00 h1.80 M515.30 248.00 h-1.80 M302.20 239.66 h1.80 M515.30 239.66 h-1.80 M302.20 235.42 h1.80 M515.30 235.42 h-1.80 M302.20 232.41 h1.80 M515.30 232.41 h-1.80 M302.20 230.08 h1.80 M515.30 230.08 h-1.80 M302.20 228.17 h1.80 M515.30 228.17 h-1.80 M302.20 226.56 h1.80 M515.30 226.56 h-1.80 M302.20 225.16 h1.80 M515.30 225.16 h-1.80 M302.20 223.93 h1.80 M515.30 223.93 h-1.80" stroke="#555" stroke-width="0.6" fill="none"/>
<rect x="302.20" y="222.83" width="213.10" height="168.50" fill="none" stroke="#333" stroke-width="1.15"/>
<text x="298.60" y="225.53" font-size="8.9" font-family="DejaVu Serif, Liberation Serif, serif" text-anchor="end" fill="#1a1a1a" stroke="#1a1a1a" stroke-width="0.2">10<tspan font-size="6.1" dx="0.6" dy="-4.5" stroke-width="0.12">-3</tspan></text>
<text x="298.60" y="249.60" font-size="8.9" font-family="DejaVu Serif, Liberation Serif, serif" text-anchor="end" fill="#1a1a1a" stroke="#1a1a1a" stroke-width="0.2">10<tspan font-size="6.1" dx="0.6" dy="-4.5" stroke-width="0.12">-4</tspan></text>
<text x="298.60" y="273.67" font-size="8.9" font-family="DejaVu Serif, Liberation Serif, serif" text-anchor="end" fill="#1a1a1a" stroke="#1a1a1a" stroke-width="0.2">10<tspan font-size="6.1" dx="0.6" dy="-4.5" stroke-width="0.12">-5</tspan></text>
<text x="298.60" y="297.74" font-size="8.9" font-family="DejaVu Serif, Liberation Serif, serif" text-anchor="end" fill="#1a1a1a" stroke="#1a1a1a" stroke-width="0.2">10<tspan font-size="6.1" dx="0.6" dy="-4.5" stroke-width="0.12">-6</tspan></text>
<text x="298.60" y="321.82" font-size="8.9" font-family="DejaVu Serif, Liberation Serif, serif" text-anchor="end" fill="#1a1a1a" stroke="#1a1a1a" stroke-width="0.2">10<tspan font-size="6.1" dx="0.6" dy="-4.5" stroke-width="0.12">-7</tspan></text>
<text x="298.60" y="345.89" font-size="8.9" font-family="DejaVu Serif, Liberation Serif, serif" text-anchor="end" fill="#1a1a1a" stroke="#1a1a1a" stroke-width="0.2">10<tspan font-size="6.1" dx="0.6" dy="-4.5" stroke-width="0.12">-8</tspan></text>
<text x="298.60" y="369.96" font-size="8.9" font-family="DejaVu Serif, Liberation Serif, serif" text-anchor="end" fill="#1a1a1a" stroke="#1a1a1a" stroke-width="0.2">10<tspan font-size="6.1" dx="0.6" dy="-4.5" stroke-width="0.12">-9</tspan></text>
<text x="298.60" y="394.03" font-size="8.9" font-family="DejaVu Serif, Liberation Serif, serif" text-anchor="end" fill="#1a1a1a" stroke="#1a1a1a" stroke-width="0.2">10<tspan font-size="6.1" dx="0.6" dy="-4.5" stroke-width="0.12">-10</tspan></text>
<text x="302.50" y="403.23" font-size="8.9" font-family="DejaVu Serif, Liberation Serif, serif" text-anchor="middle" fill="#1a1a1a" stroke="#1a1a1a" stroke-width="0.2">10<tspan font-size="6.1" dx="-0.2" dy="-4.4" stroke-width="0.12">1</tspan></text>
<text x="355.77" y="403.23" font-size="8.9" font-family="DejaVu Serif, Liberation Serif, serif" text-anchor="middle" fill="#1a1a1a" stroke="#1a1a1a" stroke-width="0.2">10<tspan font-size="6.1" dx="-0.2" dy="-4.4" stroke-width="0.12">2</tspan></text>
<text x="409.05" y="403.23" font-size="8.9" font-family="DejaVu Serif, Liberation Serif, serif" text-anchor="middle" fill="#1a1a1a" stroke="#1a1a1a" stroke-width="0.2">10<tspan font-size="6.1" dx="-0.2" dy="-4.4" stroke-width="0.12">3</tspan></text>
<text x="462.32" y="403.23" font-size="8.9" font-family="DejaVu Serif, Liberation Serif, serif" text-anchor="middle" fill="#1a1a1a" stroke="#1a1a1a" stroke-width="0.2">10<tspan font-size="6.1" dx="-0.2" dy="-4.4" stroke-width="0.12">4</tspan></text>
<text x="515.60" y="403.23" font-size="8.9" font-family="DejaVu Serif, Liberation Serif, serif" text-anchor="middle" fill="#1a1a1a" stroke="#1a1a1a" stroke-width="0.2">10<tspan font-size="6.1" dx="-0.2" dy="-4.4" stroke-width="0.12">5</tspan></text>
<text x="408.75" y="218.43" font-size="10" text-anchor="middle" fill="#1a1a1a" stroke="#1a1a1a" stroke-width="0.2">(d)</text>
<text x="346.70" y="246.00" font-size="9.4" fill="#3a3a3a" stroke="#3a3a3a" stroke-width="0.3">O</text>
<text x="362.10" y="266.30" font-size="9.4" fill="#fbb03b" stroke="#fbb03b" stroke-width="0.3">C</text>
<text x="326.10" y="283.00" font-size="9.4" fill="#3fa9f5" stroke="#3fa9f5" stroke-width="0.3">He<tspan font-size="7.05" font-weight="200" stroke="none" fill-opacity="0.85" dx="0.5" dy="-3.6">+</tspan></text>
<text x="345.40" y="299.90" font-size="9.4" fill="#5cbf8c" stroke="#5cbf8c" stroke-width="0.3">C<tspan font-size="7.05" font-weight="200" stroke="none" fill-opacity="0.85" dx="0.5" dy="-3.6">+</tspan></text>
<text x="397.90" y="355.00" font-size="9.4" fill="#d63fae" stroke="#d63fae" stroke-width="0.3">H<tspan font-size="7.05" font-weight="200" stroke="none" fill-opacity="0.85" dx="0.5" dy="-3.6">+</tspan></text>
<text x="340.40" y="376.30" font-size="9.4" fill="#f56a35" stroke="#f56a35" stroke-width="0.3">O<tspan font-size="5.64" stroke-width="0.15" dx="0.1" dy="2.4">2</tspan></text>
<text x="435.40" y="318.30" font-size="9.4" fill="#4040d8" stroke="#4040d8" stroke-width="0.3">H<tspan font-size="5.64" stroke-width="0.15" dx="0.1" dy="2.4">3</tspan><tspan font-size="7.05" font-weight="200" stroke="none" fill-opacity="0.85" dx="0.7" dy="-6.0">+</tspan></text>
</g>
<g>
<clipPath id="ce"><rect x="42.50" y="432.16" width="212.55" height="168.50"/></clipPath>
<g clip-path="url(#ce)" fill="none" stroke-width="1.35" stroke-linejoin="round" stroke-linecap="butt">
<path d="M42.0 457.3 L43.5 457.3 L45.0 457.3 L46.5 457.3 L48.0 457.3 L49.5 457.3 L51.0 457.3 L52.5 457.3 L54.0 457.3 L55.5 457.3 L57.0 457.3 L58.5 457.3 L60.0 457.3 L61.5 457.3 L63.0 457.3 L64.5 457.3 L66.0 457.3 L67.5 457.3 L69.0 457.3 L70.5 457.3 L72.0 457.3 L73.5 457.3 L75.0 457.3 L76.5 457.3 L78.0 457.3 L79.5 457.3 L81.0 457.3 L82.5 457.3 L84.0 457.3 L85.5 457.3 L87.0 457.3 L88.5 457.3 L90.0 457.3 L91.5 457.3 L93.0 457.3 L94.5 457.3 L96.0 457.3 L97.5 457.3 L99.0 457.3 L100.5 457.3 L102.0 457.3 L103.5 457.3 L105.0 457.3 L106.5 457.3 L108.0 457.3 L109.5 457.3 L111.0 457.3 L112.5 457.3 L114.0 457.3 L115.5 457.3 L117.0 457.3 L118.5 457.3 L120.0 457.3 L121.5 457.3 L123.0 457.3 L124.5 457.3 L126.0 457.3 L127.5 457.3 L129.0 457.3 L130.5 457.3 L132.0 457.3 L133.5 457.3 L135.0 457.3 L136.5 457.3 L138.0 457.3 L139.5 457.3 L141.0 457.3 L142.5 457.3 L144.0 457.3 L145.5 457.3 L147.0 457.3 L148.5 457.3 L150.0 457.3 L151.5 457.3 L153.0 457.3 L154.5 457.3 L156.0 457.3 L157.5 457.3 L159.0 457.3 L160.5 457.3 L162.0 457.3 L163.5 457.3 L165.0 457.3 L166.5 457.3 L168.0 457.3 L169.5 457.3 L171.0 457.3 L172.5 457.3 L174.0 457.3 L175.5 457.3 L177.0 457.3 L178.5 457.3 L180.0 457.3 L181.5 457.3 L183.0 457.3 L184.5 457.3 L186.0 457.3 L187.5 457.3 L189.0 457.3 L190.5 457.4 L192.0 457.4 L193.5 457.4 L195.0 457.4 L196.5 457.4 L198.0 457.4 L199.5 457.5 L201.0 457.5 L202.5 457.6 L204.0 457.7 L205.5 457.8 L207.0 457.9 L208.5 457.9 L210.0 458.0 L211.5 458.2 L213.0 458.4 L214.4 458.6 L215.9 458.9 L217.4 459.2 L218.8 459.6 L220.3 460.0 L221.7 460.5 L223.1 461.0 L224.5 461.5 L225.9 461.9 L227.4 462.2 L228.9 462.5 L230.4 462.7 L231.8 462.9 L233.3 463.1 L234.8 463.4 L236.2 463.8 L237.5 464.5 L238.8 465.2 L240.2 465.8 L241.6 466.4 L243.0 466.9 L244.4 467.4 L245.8 467.8 L247.3 468.1 L248.8 468.3 L250.3 468.6 L251.7 468.8 L253.2 469.0 L254.7 469.3 L255.7 469.4" stroke="#3a3a3a"/>
<path d="M42.0 497.4 L43.5 497.4 L45.0 497.4 L46.5 497.4 L48.0 497.4 L49.5 497.4 L51.0 497.4 L52.5 497.4 L54.0 497.4 L55.5 497.4 L57.0 497.5 L58.5 497.5 L60.0 497.5 L61.5 497.5 L63.0 497.5 L64.5 497.5 L66.0 497.5 L67.5 497.5 L69.0 497.5 L70.5 497.5 L72.0 497.5 L73.5 497.5 L75.0 497.5 L76.5 497.5 L78.0 497.5 L79.5 497.5 L81.0 497.5 L82.5 497.5 L84.0 497.6 L85.5 497.6 L87.0 497.6 L88.5 497.6 L90.0 497.6 L91.5 497.6 L93.0 497.6 L94.5 497.6 L96.0 497.6 L97.5 497.6 L99.0 497.6 L100.5 497.6 L102.0 497.6 L103.5 497.6 L105.0 497.6 L106.5 497.6 L108.0 497.6 L109.5 497.6 L111.0 497.7 L112.5 497.7 L114.0 497.7 L115.5 497.7 L117.0 497.7 L118.5 497.7 L120.0 497.7 L121.5 497.7 L123.0 497.7 L124.5 497.7 L126.0 497.7 L127.5 497.7 L129.0 497.7 L130.5 497.7 L132.0 497.7 L133.5 497.7 L135.0 497.7 L136.5 497.7 L138.0 497.8 L139.5 497.8 L141.0 497.8 L142.5 497.8 L144.0 497.8 L145.5 497.8 L147.0 497.8 L148.5 497.8 L150.0 497.8 L151.5 497.8 L153.0 497.9 L154.5 497.9 L156.0 498.0 L157.5 498.0 L159.0 498.1 L160.5 498.1 L162.0 498.1 L163.5 498.2 L165.0 498.2 L166.5 498.3 L168.0 498.3 L169.5 498.4 L171.0 498.4 L172.5 498.4 L174.0 498.5 L175.5 498.5 L177.0 498.6 L178.5 498.6 L180.0 498.7 L181.5 498.7 L183.0 498.7 L184.5 498.8 L186.0 498.9 L187.5 499.0 L189.0 499.1 L190.5 499.2 L192.0 499.3 L193.5 499.4 L195.0 499.5 L196.5 499.6 L198.0 499.7 L199.4 499.8 L200.9 500.0 L202.4 500.1 L203.9 500.2 L205.4 500.4 L206.9 500.5 L208.4 500.7 L209.9 500.8 L211.4 501.1 L212.8 501.5 L214.2 502.0 L215.6 502.6 L216.9 503.2 L218.2 503.9 L219.3 504.9 L220.3 506.0 L221.3 507.2 L222.1 508.4 L222.7 509.7 L223.1 511.1 L223.6 512.6 L224.0 514.0 L224.6 515.4 L225.2 516.8 L225.9 518.0 L226.8 519.2 L228.0 520.1 L229.2 521.0 L230.5 521.8 L231.7 522.6 L232.9 523.5 L234.1 524.4 L235.1 525.5 L235.9 526.7 L236.7 528.0 L237.3 529.3 L237.8 530.7 L238.3 532.2 L238.8 533.6 L239.3 535.0 L239.9 536.3 L240.7 537.6 L241.6 538.8 L242.5 540.0 L243.4 541.2 L244.4 542.3 L245.5 543.3 L246.7 544.3 L247.8 545.2 L249.0 546.1 L250.2 547.0 L251.5 547.7 L252.8 548.4 L254.2 549.2 L255.5 549.9 L255.9 550.1" stroke="#222222"/>
<path d="M42.0 472.1 L43.5 472.0 L45.0 471.9 L46.5 471.7 L48.0 471.6 L49.5 471.5 L51.0 471.4 L52.5 471.2 L54.0 471.1 L55.5 471.0 L57.0 470.9 L58.4 470.8 L59.9 470.7 L61.4 470.6 L62.9 470.5 L64.4 470.4 L65.9 470.3 L67.4 470.2 L68.9 470.1 L70.4 470.0 L71.9 469.9 L73.4 469.9 L74.9 469.8 L76.4 469.7 L77.9 469.6 L79.4 469.5 L80.9 469.5 L82.4 469.4 L83.9 469.3 L85.4 469.2 L86.9 469.1 L88.4 469.1 L89.9 469.0 L91.4 468.9 L92.9 468.8 L94.4 468.8 L95.9 468.7 L97.4 468.6 L98.9 468.6 L100.4 468.5 L101.9 468.5 L103.4 468.5 L104.9 468.4 L106.4 468.4 L107.9 468.3 L109.4 468.3 L110.9 468.2 L112.4 468.2 L113.9 468.1 L115.4 468.0 L116.9 468.0 L118.4 467.9 L119.9 467.8 L121.4 467.8 L122.9 467.7 L124.4 467.6 L125.9 467.6 L127.4 467.5 L128.9 467.4 L130.4 467.4 L131.9 467.3 L133.4 467.2 L134.9 467.2 L136.4 467.1 L137.9 467.0 L139.4 467.0 L140.9 467.0 L142.4 466.9 L143.9 466.9 L145.4 466.9 L146.9 466.9 L148.4 466.9 L149.9 466.8 L151.4 466.8 L152.9 466.8 L154.4 466.8 L155.9 466.8 L157.4 466.7 L158.9 466.7 L160.4 466.7 L161.9 466.7 L163.4 466.7 L164.9 466.6 L166.4 466.6 L167.9 466.6 L169.4 466.6 L170.9 466.6 L172.3 466.5 L173.8 466.5 L175.3 466.5 L176.8 466.5 L178.3 466.5 L179.8 466.4 L181.3 466.4 L182.8 466.4 L184.3 466.4 L185.8 466.4 L187.3 466.5 L188.8 466.5 L190.3 466.5 L191.8 466.5 L193.3 466.5 L194.8 466.6 L196.3 466.6 L197.8 466.6 L199.3 466.7 L200.8 466.8 L202.3 466.9 L203.8 467.1 L205.3 467.2 L206.8 467.3 L208.3 467.4 L209.8 467.6 L211.3 467.8 L212.7 468.2 L214.1 468.7 L215.5 469.2 L216.9 469.8 L218.2 470.5 L219.3 471.5 L220.2 472.6 L221.2 473.7 L222.1 475.0 L222.8 476.3 L223.4 477.6 L223.9 479.0 L224.5 480.4 L225.0 481.8 L225.5 483.2 L226.0 484.7 L226.5 486.1 L227.0 487.5 L227.4 488.9 L227.9 490.3 L228.4 491.7 L228.9 493.2 L229.4 494.6 L229.9 496.0 L230.4 497.4 L230.9 498.8 L231.4 500.2 L231.9 501.6 L232.4 503.1 L232.9 504.5 L233.4 505.9 L233.9 507.3 L234.4 508.7 L234.9 510.2 L235.3 511.6 L235.7 513.0 L236.1 514.5 L236.5 515.9 L236.8 517.4 L237.1 518.9 L237.4 520.3 L237.8 521.8 L238.1 523.3 L238.4 524.7 L238.8 526.2 L239.2 527.6 L239.7 529.0 L240.1 530.5 L240.5 531.9 L241.0 533.3 L241.7 534.6 L242.6 535.8 L243.5 537.0 L244.4 538.2 L245.4 539.3 L246.4 540.4 L247.5 541.5 L248.5 542.5 L249.6 543.6 L250.8 544.6 L252.0 545.5 L253.2 546.3 L254.4 547.2 L255.6 548.0" stroke="#fbb03b"/>
<path d="M42.0 451.7 L43.4 452.1 L44.9 452.6 L46.3 453.0 L47.7 453.4 L49.2 453.9 L50.6 454.3 L52.1 454.7 L53.5 455.2 L54.9 455.6 L56.3 456.2 L57.7 456.7 L59.1 457.3 L60.5 457.9 L61.8 458.5 L63.2 459.1 L64.6 459.7 L66.0 460.2 L67.4 460.8 L68.7 461.4 L70.1 462.0 L71.5 462.6 L72.9 463.2 L74.2 463.9 L75.6 464.5 L77.0 465.1 L78.3 465.7 L79.7 466.3 L81.1 466.9 L82.5 467.5 L83.8 468.1 L85.2 468.8 L86.5 469.4 L87.9 470.0 L89.3 470.6 L90.6 471.3 L92.0 471.9 L93.4 472.5 L94.7 473.1 L96.1 473.7 L97.5 474.3 L98.9 474.9 L100.2 475.5 L101.6 476.1 L103.0 476.7 L104.4 477.3 L105.8 477.8 L107.1 478.4 L108.5 479.0 L109.9 479.6 L111.3 480.2 L112.7 480.8 L114.1 481.3 L115.5 481.9 L116.9 482.4 L118.3 482.9 L119.7 483.5 L121.1 484.0 L122.5 484.6 L123.8 485.1 L125.2 485.7 L126.6 486.3 L127.9 487.0 L129.3 487.7 L130.6 488.3 L132.0 489.0 L133.3 489.7 L134.7 490.3 L136.0 491.0 L137.4 491.6 L138.7 492.3 L140.0 493.0 L141.4 493.7 L142.7 494.3 L144.1 495.0 L145.4 495.7 L146.7 496.4 L148.1 497.0 L149.4 497.7 L150.8 498.4 L152.1 499.1 L153.4 499.8 L154.7 500.6 L156.0 501.4 L157.2 502.1 L158.5 502.9 L159.8 503.7 L161.1 504.5 L162.4 505.2 L163.7 506.0 L164.9 506.8 L166.2 507.6 L167.5 508.4 L168.7 509.3 L170.0 510.1 L171.2 510.9 L172.4 511.8 L173.7 512.6 L174.9 513.4 L176.2 514.3 L177.4 515.1 L178.7 515.9 L179.9 516.8 L181.1 517.6 L182.4 518.5 L183.6 519.4 L184.8 520.2 L186.0 521.2 L187.1 522.2 L188.2 523.2 L189.3 524.2 L190.4 525.2 L191.5 526.2 L192.7 527.2 L193.8 528.2 L194.9 529.2 L196.0 530.2 L197.1 531.2 L198.2 532.3 L199.2 533.4 L200.2 534.5 L201.2 535.7 L202.1 536.8 L203.1 537.9 L204.1 539.1 L205.0 540.2 L206.0 541.4 L206.9 542.6 L207.8 543.8 L208.7 545.0 L209.6 546.2 L210.4 547.4 L211.3 548.6 L212.2 549.9 L213.0 551.1 L213.9 552.3 L214.7 553.6 L215.5 554.8 L216.4 556.1 L217.2 557.3 L218.0 558.6 L218.9 559.8 L219.8 561.0 L220.6 562.2 L221.5 563.5 L222.4 564.7 L223.3 565.9 L224.2 567.1 L225.1 568.3 L226.1 569.4 L227.1 570.5 L228.2 571.5 L229.2 572.6 L230.3 573.7 L231.3 574.7 L232.4 575.8 L233.4 576.9 L234.3 578.1 L235.0 579.4 L235.6 580.8 L236.2 582.1 L236.8 583.5 L237.4 584.9 L238.1 586.2 L238.9 587.4 L239.9 588.5 L240.9 589.6 L242.0 590.7 L243.0 591.7 L244.1 592.8 L245.3 593.6 L246.6 594.4 L248.0 595.0 L249.3 595.6 L250.7 596.2 L252.1 596.8 L253.5 597.4 L254.8 598.0 L255.7 598.4" stroke="#d63fae"/>
<path d="M42.0 467.0 L43.4 467.5 L44.8 468.0 L46.2 468.5 L47.7 469.0 L49.1 469.5 L50.5 470.0 L51.9 470.5 L53.3 471.0 L54.7 471.5 L56.1 472.0 L57.5 472.6 L58.9 473.1 L60.3 473.7 L61.7 474.2 L63.1 474.8 L64.5 475.3 L65.9 475.9 L67.3 476.4 L68.7 477.0 L70.1 477.5 L71.5 478.1 L72.9 478.7 L74.3 479.2 L75.7 479.8 L77.0 480.3 L78.4 480.9 L79.8 481.4 L81.2 482.0 L82.6 482.6 L84.0 483.1 L85.4 483.7 L86.8 484.2 L88.2 484.8 L89.6 485.4 L91.0 485.9 L92.3 486.5 L93.7 487.1 L95.1 487.6 L96.5 488.2 L97.9 488.7 L99.3 489.3 L100.7 489.8 L102.1 490.4 L103.5 490.9 L104.9 491.4 L106.3 492.0 L107.7 492.5 L109.1 493.1 L110.5 493.6 L111.9 494.1 L113.3 494.7 L114.7 495.2 L116.1 495.7 L117.5 496.2 L119.0 496.7 L120.4 497.2 L121.8 497.7 L123.2 498.2 L124.6 498.8 L126.0 499.4 L127.3 500.0 L128.7 500.7 L130.0 501.3 L131.3 502.0 L132.7 502.7 L134.0 503.4 L135.4 504.0 L136.7 504.7 L138.0 505.4 L139.4 506.1 L140.7 506.7 L142.1 507.4 L143.4 508.1 L144.7 508.8 L146.1 509.5 L147.4 510.2 L148.7 510.8 L150.1 511.5 L151.4 512.2 L152.7 512.9 L154.1 513.5 L155.4 514.2 L156.8 514.9 L158.1 515.6 L159.5 516.2 L160.8 516.9 L162.1 517.6 L163.5 518.2 L164.8 518.9 L166.2 519.6 L167.5 520.2 L168.9 520.9 L170.2 521.6 L171.5 522.2 L172.9 522.9 L174.2 523.6 L175.6 524.2 L176.9 524.9 L178.3 525.6 L179.6 526.3 L180.9 526.9 L182.3 527.6 L183.6 528.4 L184.9 529.1 L186.2 529.8 L187.5 530.5 L188.9 531.2 L190.1 532.0 L191.4 532.8 L192.6 533.7 L193.8 534.5 L195.1 535.4 L196.3 536.3 L197.5 537.1 L198.7 538.1 L199.9 539.0 L201.0 539.9 L202.2 540.9 L203.3 541.9 L204.5 542.8 L205.6 543.8 L206.7 544.8 L207.7 545.9 L208.8 547.0 L209.8 548.1 L210.8 549.2 L211.8 550.4 L212.7 551.5 L213.6 552.7 L214.4 554.0 L215.2 555.3 L216.0 556.5 L216.8 557.8 L217.6 559.1 L218.4 560.3 L219.2 561.6 L220.1 562.8 L221.0 564.0 L221.8 565.2 L222.7 566.5 L223.6 567.7 L224.5 568.9 L225.5 569.9 L226.6 570.9 L227.8 571.8 L229.0 572.7 L230.2 573.6 L231.5 574.5 L232.7 575.3 L234.0 576.1 L235.2 577.0 L236.5 577.8 L237.7 578.6 L239.0 579.4 L240.3 580.2 L241.6 580.9 L242.8 581.7 L244.1 582.5 L245.4 583.2 L246.8 583.9 L248.1 584.6 L249.4 585.3 L250.8 585.9 L252.1 586.6 L253.5 587.3 L254.8 588.0 L255.7 588.4" stroke="#3fa9f5"/>
<path d="M42.0 475.7 L43.5 475.9 L45.0 476.1 L46.5 476.3 L48.0 476.5 L49.4 476.7 L50.9 476.8 L52.4 477.0 L53.9 477.2 L55.4 477.4 L56.9 477.6 L58.4 477.8 L59.8 478.0 L61.3 478.3 L62.8 478.5 L64.3 478.7 L65.8 478.9 L67.3 479.1 L68.8 479.3 L70.2 479.5 L71.7 479.7 L73.2 479.9 L74.7 480.1 L76.2 480.3 L77.7 480.4 L79.2 480.6 L80.7 480.8 L82.1 481.0 L83.6 481.2 L85.1 481.4 L86.6 481.6 L88.1 481.8 L89.6 482.0 L91.1 482.2 L92.6 482.4 L94.1 482.5 L95.5 482.7 L97.0 482.9 L98.5 483.1 L100.0 483.3 L101.5 483.4 L103.0 483.6 L104.5 483.8 L106.0 484.0 L107.5 484.2 L108.9 484.3 L110.4 484.5 L111.9 484.7 L113.4 485.0 L114.9 485.3 L116.3 485.7 L117.8 486.0 L119.2 486.3 L120.7 486.7 L122.2 487.0 L123.6 487.3 L125.1 487.7 L126.5 488.1 L128.0 488.5 L129.4 488.9 L130.8 489.4 L132.3 489.8 L133.7 490.2 L135.2 490.6 L136.6 491.1 L138.0 491.5 L139.5 492.0 L140.9 492.5 L142.3 492.9 L143.7 493.4 L145.1 493.9 L146.5 494.4 L148.0 494.9 L149.4 495.4 L150.8 495.9 L152.2 496.4 L153.6 497.0 L155.0 497.5 L156.4 498.1 L157.8 498.6 L159.2 499.2 L160.6 499.8 L161.9 500.3 L163.3 500.9 L164.7 501.5 L166.1 502.0 L167.5 502.5 L169.0 503.0 L170.4 503.5 L171.8 504.0 L173.2 504.4 L174.6 504.9 L176.0 505.4 L177.5 505.9 L178.9 506.4 L180.3 506.9 L181.7 507.4 L183.1 508.0 L184.5 508.6 L185.9 509.2 L187.2 509.8 L188.6 510.3 L190.0 510.9 L191.4 511.5 L192.7 512.1 L194.1 512.7 L195.5 513.3 L196.9 513.9 L198.3 514.4 L199.7 515.0 L201.1 515.4 L202.5 515.9 L203.9 516.4 L205.4 516.9 L206.8 517.4 L208.2 517.8 L209.6 518.3 L211.1 518.8 L212.5 519.3 L213.9 519.8 L215.3 520.3 L216.7 520.8 L218.1 521.3 L219.5 521.8 L220.9 522.5 L222.1 523.3 L223.3 524.2 L224.4 525.2 L225.6 526.1 L226.8 527.0 L228.0 527.9 L229.1 528.8 L230.3 529.8 L231.4 530.8 L232.5 531.8 L233.6 532.9 L234.6 534.0 L235.6 535.0 L236.6 536.2 L237.6 537.4 L238.5 538.5 L239.4 539.7 L240.4 540.8 L241.4 541.9 L242.6 542.8 L243.8 543.7 L245.1 544.5 L246.3 545.3 L247.6 546.1 L248.9 546.9 L250.2 547.6 L251.6 548.3 L252.9 548.9 L254.2 549.6 L255.6 550.3" stroke="#5cbf8c"/>
<path d="M74.0 600.3 L75.2 599.3 L76.3 598.4 L77.5 597.4 L78.6 596.5 L79.8 595.5 L80.9 594.6 L82.1 593.7 L83.3 592.8 L84.6 591.9 L85.8 591.0 L87.0 590.2 L88.2 589.3 L89.5 588.4 L90.7 587.6 L91.9 586.7 L93.1 585.8 L94.4 585.0 L95.6 584.2 L96.9 583.4 L98.2 582.7 L99.6 582.0 L100.9 581.3 L102.2 580.6 L103.5 579.9 L104.8 579.2 L106.2 578.4 L107.5 577.7 L108.8 577.0 L110.1 576.3 L111.4 575.6 L112.8 574.9 L114.1 574.2 L115.4 573.5 L116.8 572.8 L118.1 572.1 L119.4 571.4 L120.7 570.7 L122.1 570.0 L123.4 569.3 L124.7 568.6 L126.0 567.9 L127.4 567.2 L128.7 566.5 L130.0 565.7 L131.3 565.0 L132.6 564.3 L133.9 563.6 L135.3 562.9 L136.6 562.2 L137.9 561.5 L139.3 560.8 L140.6 560.2 L142.0 559.7 L143.4 559.1 L144.8 558.6 L146.2 558.0 L147.6 557.5 L149.0 556.9 L150.4 556.3 L151.8 555.8 L153.2 555.3 L154.6 554.9 L156.1 554.5 L157.5 554.0 L159.0 553.6 L160.4 553.2 L161.8 552.7 L163.3 552.3 L164.7 551.9 L166.2 551.6 L167.7 551.4 L169.1 551.2 L170.6 551.1 L172.1 550.9 L173.6 550.7 L175.1 550.5 L176.6 550.3 L178.1 550.2 L179.6 550.0 L181.1 549.8 L182.6 549.8 L184.1 549.8 L185.6 549.9 L187.1 549.9 L188.5 550.0 L190.0 550.1 L191.5 550.2 L193.0 550.2 L194.5 550.3 L196.0 550.4 L197.5 550.5 L199.0 550.6 L200.5 550.7 L202.0 550.8 L203.5 551.0 L205.0 551.1 L206.5 551.3 L208.0 551.4 L209.5 551.4 L211.0 551.4 L212.5 551.3 L213.9 551.0 L215.2 550.4 L216.4 549.5 L217.6 548.6 L218.7 547.7 L219.7 546.6 L220.4 545.3 L221.0 543.9 L221.6 542.6 L222.2 541.2 L222.8 539.8 L223.3 538.4 L223.8 537.0 L224.1 535.5 L224.4 534.0 L224.7 532.6 L225.0 531.1 L225.3 529.6 L225.6 528.2 L225.8 526.7 L226.2 525.2 L226.6 523.8 L227.1 522.4 L227.6 521.0 L228.2 519.6 L228.7 518.2 L229.3 516.8 L229.8 515.4 L230.4 514.0 L230.9 512.6 L231.4 511.2 L232.0 509.8 L232.5 508.4 L233.0 507.0 L233.4 505.5 L233.8 504.1 L234.2 502.6 L234.6 501.2 L235.0 499.8 L235.4 498.3 L235.8 496.9 L236.2 495.4 L236.6 494.0 L236.9 492.5 L237.3 491.1 L237.7 489.6 L238.1 488.2 L238.6 486.8 L239.2 485.4 L240.0 484.1 L240.8 482.9 L241.9 481.9 L243.1 481.1 L244.4 480.4 L245.7 479.7 L247.1 479.3 L248.6 479.0 L250.1 478.7 L251.6 478.5 L253.0 478.3 L254.5 478.0 L256.0 477.8" stroke="#f56a35"/>
<path d="M42.0 564.1 L43.5 564.0 L45.0 563.9 L46.5 563.7 L48.0 563.6 L49.5 563.5 L51.0 563.4 L52.5 563.2 L54.0 563.1 L55.5 563.0 L57.0 562.9 L58.5 562.8 L59.9 562.8 L61.4 562.7 L62.9 562.6 L64.4 562.5 L65.9 562.4 L67.4 562.4 L68.9 562.3 L70.4 562.3 L71.9 562.3 L73.4 562.4 L74.9 562.4 L76.4 562.4 L77.9 562.4 L79.4 562.5 L80.9 562.5 L82.4 562.5 L83.9 562.6 L85.4 562.6 L86.9 562.7 L88.4 562.7 L89.9 562.8 L91.4 562.9 L92.9 562.9 L94.4 563.0 L95.9 563.0 L97.4 563.1 L98.9 563.2 L100.4 563.3 L101.9 563.4 L103.4 563.5 L104.9 563.6 L106.4 563.7 L107.9 563.8 L109.4 563.9 L110.9 564.0 L112.4 564.1 L113.9 564.2 L115.4 564.3 L116.9 564.4 L118.4 564.5 L119.9 564.6 L121.4 564.7 L122.9 564.8 L124.4 565.0 L125.8 565.1 L127.3 565.3 L128.8 565.5 L130.3 565.7 L131.8 566.0 L133.3 566.2 L134.8 566.4 L136.2 566.6 L137.7 566.9 L139.2 567.1 L140.7 567.3 L142.2 567.5 L143.7 567.7 L145.1 568.0 L146.6 568.2 L148.1 568.4 L149.6 568.6 L151.1 568.9 L152.5 569.1 L154.0 569.4 L155.5 569.7 L157.0 570.0 L158.4 570.3 L159.9 570.6 L161.4 570.9 L162.8 571.2 L164.3 571.5 L165.8 571.8 L167.3 572.1 L168.7 572.3 L170.2 572.6 L171.7 572.8 L173.2 573.1 L174.6 573.4 L176.1 573.6 L177.6 573.9 L179.1 574.2 L180.5 574.4 L182.0 574.7 L183.5 575.0 L185.0 575.4 L186.4 575.7 L187.9 576.0 L189.3 576.3 L190.8 576.6 L192.3 577.0 L193.7 577.3 L195.2 577.6 L196.7 577.9 L198.1 578.3 L199.6 578.6 L201.0 579.0 L202.5 579.4 L204.0 579.7 L205.4 580.1 L206.9 580.5 L208.3 580.8 L209.8 581.2 L211.2 581.5 L212.7 581.7 L214.2 581.7 L215.7 581.7 L217.2 581.6 L218.6 581.3 L219.9 580.6 L221.1 579.8 L222.3 578.9 L223.4 577.9 L224.5 576.8 L225.6 575.8 L226.8 575.1 L228.2 574.6 L229.6 574.2 L231.1 573.9 L232.6 573.7 L234.0 573.6 L235.4 573.4 L236.6 572.6 L237.7 571.7 L238.8 570.7 L240.0 570.0 L241.4 569.8 L242.9 569.7 L244.4 569.8 L245.9 570.0 L247.3 570.3 L248.8 570.6 L250.3 570.9 L251.7 571.3 L253.2 571.6 L254.6 572.0 L255.6 572.2" stroke="#4040d8"/>
</g>
<path d="M95.64 600.66 v-3.50 M95.64 432.16 v3.50 M148.78 600.66 v-3.50 M148.78 432.16 v3.50 M201.91 600.66 v-3.50 M201.91 432.16 v3.50 M42.50 576.59 h3.50 M255.05 576.59 h-3.50 M42.50 552.52 h3.50 M255.05 552.52 h-3.50 M42.50 528.45 h3.50 M255.05 528.45 h-3.50 M42.50 504.37 h3.50 M255.05 504.37 h-3.50 M42.50 480.30 h3.50 M255.05 480.30 h-3.50 M42.50 456.23 h3.50 M255.05 456.23 h-3.50" stroke="#333" stroke-width="0.8" fill="none"/>
<path d="M58.50 600.66 v-1.80 M58.50 432.16 v1.80 M67.85 600.66 v-1.80 M67.85 432.16 v1.80 M74.49 600.66 v-1.80 M74.49 432.16 v1.80 M79.64 600.66 v-1.80 M79.64 432.16 v1.80 M83.85 600.66 v-1.80 M83.85 432.16 v1.80 M87.41 600.66 v-1.80 M87.41 432.16 v1.80 M90.49 600.66 v-1.80 M90.49 432.16 v1.80 M93.21 600.66 v-1.80 M93.21 432.16 v1.80 M111.63 600.66 v-1.80 M111.63 432.16 v1.80 M120.99 600.66 v-1.80 M120.99 432.16 v1.80 M127.63 600.66 v-1.80 M127.63 432.16 v1.80 M132.78 600.66 v-1.80 M132.78 432.16 v1.80 M136.99 600.66 v-1.80 M136.99 432.16 v1.80 M140.54 600.66 v-1.80 M140.54 432.16 v1.80 M143.63 600.66 v-1.80 M143.63 432.16 v1.80 M146.34 600.66 v-1.80 M146.34 432.16 v1.80 M164.77 600.66 v-1.80 M164.77 432.16 v1.80 M174.13 600.66 v-1.80 M174.13 432.16 v1.80 M180.77 600.66 v-1.80 M180.77 432.16 v1.80 M185.92 600.66 v-1.80 M185.92 432.16 v1.80 M190.12 600.66 v-1.80 M190.12 432.16 v1.80 M193.68 600.66 v-1.80 M193.68 432.16 v1.80 M196.76 600.66 v-1.80 M196.76 432.16 v1.80 M199.48 600.66 v-1.80 M199.48 432.16 v1.80 M217.91 600.66 v-1.80 M217.91 432.16 v1.80 M227.27 600.66 v-1.80 M227.27 432.16 v1.80 M233.90 600.66 v-1.80 M233.90 432.16 v1.80 M239.05 600.66 v-1.80 M239.05 432.16 v1.80 M243.26 600.66 v-1.80 M243.26 432.16 v1.80 M246.82 600.66 v-1.80 M246.82 432.16 v1.80 M249.90 600.66 v-1.80 M249.90 432.16 v1.80 M252.62 600.66 v-1.80 M252.62 432.16 v1.80 M42.50 593.41 h1.80 M255.05 593.41 h-1.80 M42.50 589.18 h1.80 M255.05 589.18 h-1.80 M42.50 586.17 h1.80 M255.05 586.17 h-1.80 M42.50 583.83 h1.80 M255.05 583.83 h-1.80 M42.50 581.93 h1.80 M255.05 581.93 h-1.80 M42.50 580.32 h1.80 M255.05 580.32 h-1.80 M42.50 578.92 h1.80 M255.05 578.92 h-1.80 M42.50 577.69 h1.80 M255.05 577.69 h-1.80 M42.50 569.34 h1.80 M255.05 569.34 h-1.80 M42.50 565.10 h1.80 M255.05 565.10 h-1.80 M42.50 562.10 h1.80 M255.05 562.10 h-1.80 M42.50 559.76 h1.80 M255.05 559.76 h-1.80 M42.50 557.86 h1.80 M255.05 557.86 h-1.80 M42.50 556.25 h1.80 M255.05 556.25 h-1.80 M42.50 554.85 h1.80 M255.05 554.85 h-1.80 M42.50 553.62 h1.80 M255.05 553.62 h-1.80 M42.50 545.27 h1.80 M255.05 545.27 h-1.80 M42.50 541.03 h1.80 M255.05 541.03 h-1.80 M42.50 538.02 h1.80 M255.05 538.02 h-1.80 M42.50 535.69 h1.80 M255.05 535.69 h-1.80 M42.50 533.79 h1.80 M255.05 533.79 h-1.80 M42.50 532.17 h1.80 M255.05 532.17 h-1.80 M42.50 530.78 h1.80 M255.05 530.78 h-1.80 M42.50 529.55 h1.80 M255.05 529.55 h-1.80 M42.50 521.20 h1.80 M255.05 521.20 h-1.80 M42.50 516.96 h1.80 M255.05 516.96 h-1.80 M42.50 513.95 h1.80 M255.05 513.95 h-1.80 M42.50 511.62 h1.80 M255.05 511.62 h-1.80 M42.50 509.71 h1.80 M255.05 509.71 h-1.80 M42.50 508.10 h1.80 M255.05 508.10 h-1.80 M42.50 506.71 h1.80 M255.05 506.71 h-1.80 M42.50 505.48 h1.80 M255.05 505.48 h-1.80 M42.50 497.13 h1.80 M255.05 497.13 h-1.80 M42.50 492.89 h1.80 M255.05 492.89 h-1.80 M42.50 489.88 h1.80 M255.05 489.88 h-1.80 M42.50 487.55 h1.80 M255.05 487.55 h-1.80 M42.50 485.64 h1.80 M255.05 485.64 h-1.80 M42.50 484.03 h1.80 M255.05 484.03 h-1.80 M42.50 482.64 h1.80 M255.05 482.64 h-1.80 M42.50 481.40 h1.80 M255.05 481.40 h-1.80 M42.50 473.06 h1.80 M255.05 473.06 h-1.80 M42.50 468.82 h1.80 M255.05 468.82 h-1.80 M42.50 465.81 h1.80 M255.05 465.81 h-1.80 M42.50 463.48 h1.80 M255.05 463.48 h-1.80 M42.50 461.57 h1.80 M255.05 461.57 h-1.80 M42.50 459.96 h1.80 M255.05 459.96 h-1.80 M42.50 458.56 h1.80 M255.05 458.56 h-1.80 M42.50 457.33 h1.80 M255.05 457.33 h-1.80 M42.50 448.99 h1.80 M255.05 448.99 h-1.80 M42.50 444.75 h1.80 M255.05 444.75 h-1.80 M42.50 441.74 h1.80 M255.05 441.74 h-1.80 M42.50 439.41 h1.80 M255.05 439.41 h-1.80 M42.50 437.50 h1.80 M255.05 437.50 h-1.80 M42.50 435.89 h1.80 M255.05 435.89 h-1.80 M42.50 434.49 h1.80 M255.05 434.49 h-1.80 M42.50 433.26 h1.80 M255.05 433.26 h-1.80" stroke="#555" stroke-width="0.6" fill="none"/>
<rect x="42.50" y="432.16" width="212.55" height="168.50" fill="none" stroke="#333" stroke-width="1.15"/>
<text x="38.90" y="434.86" font-size="8.9" font-family="DejaVu Serif, Liberation Serif, serif" text-anchor="end" fill="#1a1a1a" stroke="#1a1a1a" stroke-width="0.2">10<tspan font-size="6.1" dx="0.6" dy="-4.5" stroke-width="0.12">-3</tspan></text>
<text x="38.90" y="458.93" font-size="8.9" font-family="DejaVu Serif, Liberation Serif, serif" text-anchor="end" fill="#1a1a1a" stroke="#1a1a1a" stroke-width="0.2">10<tspan font-size="6.1" dx="0.6" dy="-4.5" stroke-width="0.12">-4</tspan></text>
<text x="38.90" y="483.00" font-size="8.9" font-family="DejaVu Serif, Liberation Serif, serif" text-anchor="end" fill="#1a1a1a" stroke="#1a1a1a" stroke-width="0.2">10<tspan font-size="6.1" dx="0.6" dy="-4.5" stroke-width="0.12">-5</tspan></text>
<text x="38.90" y="507.07" font-size="8.9" font-family="DejaVu Serif, Liberation Serif, serif" text-anchor="end" fill="#1a1a1a" stroke="#1a1a1a" stroke-width="0.2">10<tspan font-size="6.1" dx="0.6" dy="-4.5" stroke-width="0.12">-6</tspan></text>
<text x="38.90" y="531.15" font-size="8.9" font-family="DejaVu Serif, Liberation Serif, serif" text-anchor="end" fill="#1a1a1a" stroke="#1a1a1a" stroke-width="0.2">10<tspan font-size="6.1" dx="0.6" dy="-4.5" stroke-width="0.12">-7</tspan></text>
<text x="38.90" y="555.22" font-size="8.9" font-family="DejaVu Serif, Liberation Serif, serif" text-anchor="end" fill="#1a1a1a" stroke="#1a1a1a" stroke-width="0.2">10<tspan font-size="6.1" dx="0.6" dy="-4.5" stroke-width="0.12">-8</tspan></text>
<text x="38.90" y="579.29" font-size="8.9" font-family="DejaVu Serif, Liberation Serif, serif" text-anchor="end" fill="#1a1a1a" stroke="#1a1a1a" stroke-width="0.2">10<tspan font-size="6.1" dx="0.6" dy="-4.5" stroke-width="0.12">-9</tspan></text>
<text x="38.90" y="603.36" font-size="8.9" font-family="DejaVu Serif, Liberation Serif, serif" text-anchor="end" fill="#1a1a1a" stroke="#1a1a1a" stroke-width="0.2">10<tspan font-size="6.1" dx="0.6" dy="-4.5" stroke-width="0.12">-10</tspan></text>
<text x="42.80" y="612.56" font-size="8.9" font-family="DejaVu Serif, Liberation Serif, serif" text-anchor="middle" fill="#1a1a1a" stroke="#1a1a1a" stroke-width="0.2">10<tspan font-size="6.1" dx="-0.2" dy="-4.4" stroke-width="0.12">1</tspan></text>
<text x="95.94" y="612.56" font-size="8.9" font-family="DejaVu Serif, Liberation Serif, serif" text-anchor="middle" fill="#1a1a1a" stroke="#1a1a1a" stroke-width="0.2">10<tspan font-size="6.1" dx="-0.2" dy="-4.4" stroke-width="0.12">2</tspan></text>
<text x="149.08" y="612.56" font-size="8.9" font-family="DejaVu Serif, Liberation Serif, serif" text-anchor="middle" fill="#1a1a1a" stroke="#1a1a1a" stroke-width="0.2">10<tspan font-size="6.1" dx="-0.2" dy="-4.4" stroke-width="0.12">3</tspan></text>
<text x="202.21" y="612.56" font-size="8.9" font-family="DejaVu Serif, Liberation Serif, serif" text-anchor="middle" fill="#1a1a1a" stroke="#1a1a1a" stroke-width="0.2">10<tspan font-size="6.1" dx="-0.2" dy="-4.4" stroke-width="0.12">4</tspan></text>
<text x="255.35" y="612.56" font-size="8.9" font-family="DejaVu Serif, Liberation Serif, serif" text-anchor="middle" fill="#1a1a1a" stroke="#1a1a1a" stroke-width="0.2">10<tspan font-size="6.1" dx="-0.2" dy="-4.4" stroke-width="0.12">5</tspan></text>
<text x="148.78" y="427.76" font-size="10" text-anchor="middle" fill="#1a1a1a" stroke="#1a1a1a" stroke-width="0.2">(e)</text>
<text transform="translate(9.2 516.41) rotate(-90)" font-size="10" text-anchor="middle" fill="#1a1a1a" stroke="#1a1a1a" stroke-width="0.2">n<tspan font-size="7" font-style="italic" dy="2.2">X</tspan><tspan dy="-2.2"> /n</tspan><tspan font-size="7" font-style="italic" dy="2.2">H</tspan></text>
<text x="72.70" y="497.10" font-size="9.4" fill="#222222" stroke="#222222" stroke-width="0.3">S<tspan font-size="7.05" font-weight="200" stroke="none" fill-opacity="0.85" dx="0.5" dy="-3.6">+</tspan></text>
<text x="172.10" y="455.00" font-size="9.4" fill="#3a3a3a" stroke="#3a3a3a" stroke-width="0.3">O</text>
<text x="170.10" y="480.60" font-size="9.4" fill="#fbb03b" stroke="#fbb03b" stroke-width="0.3">C</text>
<text x="203.70" y="512.90" font-size="9.4" fill="#5cbf8c" stroke="#5cbf8c" stroke-width="0.3">C<tspan font-size="7.05" font-weight="200" stroke="none" fill-opacity="0.85" dx="0.5" dy="-3.6">+</tspan></text>
<text x="197.70" y="529.30" font-size="9.4" fill="#d63fae" stroke="#d63fae" stroke-width="0.3">H<tspan font-size="7.05" font-weight="200" stroke="none" fill-opacity="0.85" dx="0.5" dy="-3.6">+</tspan></text>
<text x="156.10" y="535.30" font-size="9.4" fill="#3fa9f5" stroke="#3fa9f5" stroke-width="0.3">He<tspan font-size="7.05" font-weight="200" stroke="none" fill-opacity="0.85" dx="0.5" dy="-3.6">+</tspan></text>
<text x="187.40" y="563.30" font-size="9.4" fill="#f56a35" stroke="#f56a35" stroke-width="0.3">O<tspan font-size="5.64" stroke-width="0.15" dx="0.1" dy="2.4">2</tspan></text>
<text x="171.10" y="586.60" font-size="9.4" fill="#4040d8" stroke="#4040d8" stroke-width="0.3">H<tspan font-size="5.64" stroke-width="0.15" dx="0.1" dy="2.4">3</tspan><tspan font-size="7.05" font-weight="200" stroke="none" fill-opacity="0.85" dx="0.7" dy="-6.0">+</tspan></text>
</g>
<g>
<clipPath id="cf"><rect x="302.20" y="432.16" width="213.10" height="168.50"/></clipPath>
<g clip-path="url(#cf)" fill="none" stroke-width="1.35" stroke-linejoin="round" stroke-linecap="butt">
<path d="M302.0 457.3 L303.5 457.3 L305.0 457.3 L306.5 457.3 L308.0 457.3 L309.5 457.3 L311.0 457.3 L312.5 457.3 L314.0 457.3 L315.5 457.3 L317.0 457.3 L318.5 457.3 L320.0 457.4 L321.5 457.4 L323.0 457.4 L324.5 457.4 L326.0 457.4 L327.5 457.4 L329.0 457.4 L330.5 457.4 L332.0 457.4 L333.5 457.4 L335.0 457.4 L336.5 457.4 L338.0 457.4 L339.5 457.4 L341.0 457.4 L342.5 457.4 L344.0 457.4 L345.5 457.4 L347.0 457.4 L348.5 457.4 L350.0 457.4 L351.5 457.4 L353.0 457.4 L354.5 457.4 L356.0 457.5 L357.5 457.5 L359.0 457.5 L360.5 457.5 L362.0 457.5 L363.5 457.5 L365.0 457.5 L366.5 457.5 L368.0 457.5 L369.5 457.5 L371.0 457.5 L372.5 457.5 L374.0 457.5 L375.5 457.6 L377.0 457.6 L378.5 457.6 L380.0 457.7 L381.5 457.7 L383.0 457.7 L384.5 457.8 L386.0 457.8 L387.5 457.8 L389.0 457.9 L390.5 457.9 L392.0 457.9 L393.5 458.0 L395.0 458.0 L396.5 458.0 L398.0 458.1 L399.5 458.1 L401.0 458.1 L402.5 458.1 L404.0 458.2 L405.5 458.2 L407.0 458.2 L408.5 458.2 L410.0 458.2 L411.5 458.2 L413.0 458.2 L414.5 458.3 L416.0 458.3 L417.5 458.3 L419.0 458.3 L420.5 458.4 L422.0 458.5 L423.5 458.7 L425.0 458.8 L426.5 458.9 L427.9 459.1 L429.4 459.5 L430.7 460.0 L431.9 460.8 L432.8 461.9 L433.7 463.0 L434.8 464.0 L436.0 464.7 L437.4 465.3 L438.8 465.6 L440.3 465.9 L441.8 466.2 L443.3 466.5 L444.7 466.7 L446.2 466.9 L447.7 467.1 L449.2 467.3 L450.7 467.5 L452.2 467.7 L453.7 467.9 L455.1 468.1 L456.6 468.3 L458.1 468.5 L459.6 468.7 L461.1 468.9 L462.6 469.1 L464.1 469.3 L465.6 469.5 L467.0 469.7 L468.5 469.9 L470.0 470.0 L471.5 470.2 L473.0 470.4 L474.5 470.6 L476.0 470.7 L477.5 470.9 L479.0 471.1 L480.4 471.2 L481.9 471.4 L483.4 471.5 L484.9 471.7 L486.4 471.8 L487.9 471.9 L489.4 472.1 L490.9 472.2 L492.4 472.3 L493.9 472.5 L495.4 472.6 L496.9 472.7 L498.4 472.8 L499.9 472.9 L501.4 473.0 L502.9 473.1 L504.4 473.2 L505.9 473.3 L507.4 473.4 L508.9 473.5 L510.3 473.6 L511.8 473.7 L513.3 473.8 L514.8 473.9 L515.8 474.0" stroke="#3a3a3a"/>
<path d="M302.0 497.4 L303.5 497.4 L305.0 497.4 L306.5 497.4 L308.0 497.4 L309.5 497.4 L311.0 497.4 L312.5 497.4 L314.0 497.4 L315.5 497.4 L317.0 497.4 L318.5 497.4 L320.0 497.4 L321.5 497.4 L323.0 497.4 L324.5 497.4 L326.0 497.4 L327.5 497.4 L329.0 497.4 L330.5 497.4 L332.0 497.4 L333.5 497.4 L335.0 497.4 L336.5 497.4 L338.0 497.4 L339.5 497.4 L341.0 497.4 L342.5 497.4 L344.0 497.4 L345.5 497.4 L347.0 497.4 L348.5 497.4 L350.0 497.4 L351.5 497.4 L353.0 497.4 L354.5 497.4 L356.0 497.4 L357.5 497.4 L359.0 497.4 L360.5 497.4 L362.0 497.4 L363.5 497.4 L365.0 497.4 L366.5 497.4 L368.0 497.4 L369.5 497.4 L371.0 497.4 L372.5 497.4 L374.0 497.4 L375.5 497.4 L377.0 497.5 L378.5 497.5 L380.0 497.5 L381.5 497.5 L383.0 497.5 L384.5 497.5 L386.0 497.6 L387.5 497.6 L389.0 497.6 L390.5 497.6 L392.0 497.6 L393.5 497.6 L395.0 497.7 L396.5 497.7 L398.0 497.7 L399.5 497.7 L401.0 497.8 L402.5 497.8 L404.0 497.9 L405.5 497.9 L407.0 497.9 L408.5 498.0 L410.0 498.0 L411.5 498.1 L413.0 498.1 L414.5 498.2 L416.0 498.2 L417.5 498.3 L419.0 498.4 L420.5 498.6 L422.0 498.8 L423.4 499.0 L424.9 499.2 L426.4 499.5 L427.8 499.8 L429.2 500.3 L430.5 501.0 L431.7 501.9 L432.6 503.1 L433.2 504.4 L433.5 505.8 L433.7 507.3 L433.7 508.8 L433.8 510.3" stroke="#222222"/>
<path d="M432.7 513.3 L433.5 514.6 L434.4 515.8 L435.3 516.9 L436.4 517.8 L437.7 518.6 L439.0 519.3 L440.4 519.9 L441.8 520.5 L443.1 521.1 L444.5 521.7 L445.9 522.3 L447.3 522.9 L448.7 523.5 L450.0 524.0 L451.4 524.6 L452.8 525.2 L454.2 525.8 L455.6 526.4 L457.0 527.0 L458.3 527.5 L459.7 528.1 L461.1 528.6 L462.5 529.2 L463.9 529.8 L465.3 530.3 L466.7 530.9 L468.1 531.5 L469.5 532.1 L470.8 532.7 L472.2 533.3 L473.6 533.9 L474.9 534.5 L476.3 535.1 L477.7 535.7 L479.0 536.4 L480.4 537.0 L481.8 537.6 L483.1 538.3 L484.5 538.9 L485.8 539.6 L487.1 540.3 L488.5 540.9 L489.8 541.6 L491.2 542.3 L492.5 542.9 L493.9 543.6 L495.2 544.2 L496.6 544.8 L498.0 545.3 L499.4 545.9 L500.8 546.4 L502.2 547.0 L503.6 547.5 L505.0 548.0 L506.4 548.6 L507.8 549.1 L509.2 549.7 L510.6 550.2 L512.0 550.8 L513.4 551.3 L514.8 551.8 L515.7 552.2" stroke="#222222"/>
<path d="M302.0 472.3 L303.5 472.2 L305.0 472.0 L306.5 471.9 L308.0 471.7 L309.5 471.6 L311.0 471.4 L312.5 471.3 L313.9 471.1 L315.4 471.0 L316.9 470.9 L318.4 470.8 L319.9 470.8 L321.4 470.7 L322.9 470.6 L324.4 470.5 L325.9 470.4 L327.4 470.4 L328.9 470.3 L330.4 470.2 L331.9 470.2 L333.4 470.2 L334.9 470.1 L336.4 470.1 L337.9 470.0 L339.4 470.0 L340.9 469.9 L342.4 469.9 L343.9 469.8 L345.4 469.8 L346.9 469.7 L348.4 469.7 L349.9 469.6 L351.4 469.5 L352.9 469.5 L354.4 469.4 L355.9 469.4 L357.4 469.3 L358.9 469.3 L360.4 469.2 L361.9 469.2 L363.4 469.1 L364.9 469.1 L366.4 469.0 L367.9 468.9 L369.4 468.9 L370.9 468.8 L372.4 468.8 L373.9 468.7 L375.4 468.7 L376.9 468.6 L378.4 468.6 L379.9 468.5 L381.4 468.4 L382.9 468.4 L384.4 468.3 L385.9 468.3 L387.4 468.3 L388.9 468.2 L390.4 468.2 L391.9 468.2 L393.4 468.2 L394.9 468.2 L396.4 468.1 L397.9 468.1 L399.4 468.1 L400.9 468.2 L402.4 468.2 L403.9 468.3 L405.4 468.4 L406.9 468.4 L408.4 468.5 L409.9 468.5 L411.4 468.6 L412.9 468.7 L414.4 468.9 L415.8 469.1 L417.3 469.2 L418.8 469.4 L420.3 469.6 L421.8 469.8 L423.2 470.2 L424.7 470.6 L426.1 471.1 L427.5 471.7 L428.8 472.3 L429.9 473.2 L431.0 474.3 L431.9 475.4 L432.6 476.7 L433.2 478.1 L433.6 479.5 L434.0 480.9" stroke="#fbb03b"/>
<path d="M434.0 496.3 L434.5 497.7 L435.0 499.1 L435.6 500.5 L436.2 501.9 L437.0 503.1 L437.8 504.4 L438.8 505.5 L439.8 506.6 L440.9 507.6 L442.0 508.6 L443.2 509.5 L444.4 510.5 L445.5 511.4 L446.7 512.4 L447.9 513.3 L449.1 514.2 L450.3 515.1 L451.5 515.9 L452.8 516.7 L454.1 517.5 L455.4 518.2 L456.7 519.0 L457.9 519.8 L459.2 520.6 L460.5 521.3 L461.8 522.1 L463.1 522.9 L464.4 523.7 L465.6 524.5 L466.9 525.2 L468.2 526.0 L469.5 526.8 L470.8 527.6 L472.1 528.3 L473.4 529.1 L474.6 529.9 L475.9 530.6 L477.2 531.4 L478.5 532.2 L479.8 533.0 L481.1 533.7 L482.3 534.5 L483.6 535.3 L484.9 536.1 L486.2 536.8 L487.5 537.6 L488.8 538.4 L490.1 539.1 L491.3 539.9 L492.6 540.7 L493.9 541.5 L495.2 542.2 L496.5 543.0 L497.8 543.7 L499.1 544.5 L500.4 545.2 L501.7 545.9 L503.0 546.7 L504.3 547.4 L505.6 548.1 L507.0 548.9 L508.3 549.6 L509.6 550.4 L510.9 551.1 L512.2 551.8 L513.5 552.6 L514.8 553.3 L515.7 553.8" stroke="#fbb03b"/>
<path d="M310.7 600.3 L311.8 599.2 L312.8 598.2 L313.9 597.1 L314.9 596.1 L316.0 595.0 L317.1 593.9 L318.1 592.9 L319.2 591.8 L320.2 590.8 L321.3 589.7 L322.4 588.6 L323.4 587.6 L324.5 586.5 L325.5 585.5 L326.6 584.4 L327.7 583.3 L328.7 582.3 L329.8 581.2 L330.9 580.1 L331.9 579.1 L333.0 578.0 L334.0 577.0 L335.1 575.9 L336.2 574.9 L337.3 573.8 L338.4 572.8 L339.4 571.8 L340.5 570.7 L341.6 569.7 L342.7 568.7 L343.8 567.6 L344.9 566.6 L346.0 565.6 L347.1 564.6 L348.2 563.5 L349.3 562.6 L350.5 561.7 L351.7 560.7 L352.9 559.8 L354.1 558.9 L355.3 558.0 L356.5 557.1 L357.7 556.2 L358.9 555.3 L360.1 554.4 L361.3 553.5 L362.5 552.6 L363.7 551.7 L364.9 550.9 L366.1 550.0 L367.3 549.1 L368.5 548.2 L369.7 547.3 L370.9 546.4 L372.1 545.5 L373.3 544.6 L374.5 543.6 L375.7 542.7 L376.8 541.8 L378.0 540.8 L379.2 539.9 L380.3 539.0 L381.5 538.0 L382.7 537.1 L383.9 536.2 L385.1 535.3 L386.4 534.5 L387.7 533.8 L389.0 533.1 L390.4 532.5 L391.7 531.8 L393.0 531.1 L394.4 530.5 L395.7 529.8 L397.1 529.1 L398.4 528.5 L399.8 527.9 L401.2 527.4 L402.6 526.9 L404.1 526.4 L405.5 526.0 L406.9 525.5 L408.3 525.0 L409.7 524.5 L411.2 524.0 L412.6 523.6 L414.0 523.2 L415.5 522.8 L416.9 522.4 L418.4 522.1 L419.9 521.7 L421.3 521.3 L422.8 520.9 L424.2 520.5 L425.6 520.0 L426.9 519.3 L428.2 518.5 L429.4 517.7 L430.6 516.8 L431.5 515.7 L432.3 514.4 L432.7 513.0 L433.0 511.6 L433.2 510.1 L433.3 508.6 L433.4 507.1 L433.5 506.1" stroke="#f56a35"/>
<path d="M432.7 492.3 L433.2 490.9 L433.8 489.5 L434.3 488.1 L435.1 486.8 L436.0 485.7 L437.1 484.8 L438.4 484.2 L439.8 483.8 L441.3 483.4 L442.8 483.1 L444.2 482.8 L445.7 482.5 L447.2 482.1 L448.6 481.8 L450.1 481.5 L451.5 481.1 L453.0 480.8 L454.5 480.5 L455.9 480.2 L457.4 479.9 L458.9 479.6 L460.4 479.3 L461.8 479.0 L463.3 478.7 L464.8 478.5 L466.2 478.2 L467.7 477.9 L469.2 477.7 L470.7 477.5 L472.2 477.3 L473.7 477.1 L475.2 476.9 L476.6 476.7 L478.1 476.6 L479.6 476.4 L481.1 476.2 L482.6 476.1 L484.1 475.9 L485.6 475.8 L487.1 475.7 L488.6 475.6 L490.1 475.4 L491.6 475.3 L493.1 475.2 L494.6 475.1 L496.1 475.0 L497.6 474.9 L499.1 474.9 L500.6 474.8 L502.1 474.7 L503.6 474.7 L505.0 474.6 L506.5 474.6 L508.0 474.5 L509.5 474.4 L511.0 474.4 L512.5 474.3 L514.0 474.3 L515.5 474.2" stroke="#f56a35"/>
<path d="M302.0 475.3 L303.5 475.5 L305.0 475.7 L306.5 475.9 L308.0 476.1 L309.4 476.3 L310.9 476.4 L312.4 476.6 L313.9 476.8 L315.4 477.0 L316.9 477.2 L318.4 477.3 L319.9 477.4 L321.4 477.6 L322.9 477.7 L324.3 477.9 L325.8 478.0 L327.3 478.2 L328.8 478.3 L330.3 478.5 L331.8 478.6 L333.3 478.8 L334.8 478.9 L336.3 479.1 L337.8 479.3 L339.3 479.4 L340.8 479.6 L342.3 479.7 L343.7 479.9 L345.2 480.0 L346.7 480.2 L348.2 480.3 L349.7 480.5 L351.2 480.6 L352.7 480.7 L354.2 480.9 L355.7 481.1 L357.2 481.2 L358.7 481.4 L360.2 481.6 L361.6 481.8 L363.1 482.0 L364.6 482.2 L366.1 482.4 L367.6 482.6 L369.1 482.8 L370.6 483.0 L372.0 483.3 L373.5 483.6 L374.9 484.0 L376.4 484.4 L377.8 484.9 L379.3 485.3 L380.7 485.7 L382.1 486.1 L383.6 486.5 L385.0 486.9 L386.4 487.4 L387.9 487.9 L389.3 488.4 L390.7 488.9 L392.1 489.4 L393.5 489.9 L394.9 490.4 L396.4 490.9 L397.8 491.4 L399.2 491.9 L400.6 492.4 L402.0 492.8 L403.4 493.3 L404.9 493.8 L406.3 494.3 L407.7 494.8 L409.1 495.3 L410.5 495.8 L411.9 496.3 L413.3 496.8 L414.8 497.3 L416.2 497.9 L417.6 498.4 L419.0 498.9 L420.4 499.4 L421.8 500.0 L423.1 500.6 L424.4 501.4 L425.7 502.1 L427.0 502.9 L428.2 503.7 L429.4 504.6 L430.5 505.7 L431.4 506.8 L432.3 508.0 L432.9 509.4 L433.3 510.8 L433.6 512.2 L434.0 513.7 L434.3 515.2 L434.6 516.6 L435.0 518.1 L435.6 519.4 L436.5 520.6 L437.4 521.7 L438.5 522.7 L439.7 523.6 L441.0 524.4 L442.3 525.1 L443.7 525.7 L445.1 526.2 L446.5 526.8 L447.9 527.3 L449.3 527.9 L450.7 528.4 L452.0 529.0 L453.4 529.6 L454.8 530.1 L456.2 530.7 L457.6 531.2 L459.0 531.8 L460.4 532.4 L461.8 532.9 L463.2 533.5 L464.6 534.0 L466.0 534.6 L467.4 535.2 L468.7 535.7 L470.1 536.3 L471.5 536.8 L472.9 537.4 L474.3 537.9 L475.7 538.5 L477.1 539.0 L478.5 539.6 L479.9 540.2 L481.3 540.7 L482.7 541.3 L484.1 541.8 L485.5 542.4 L486.9 542.9 L488.3 543.5 L489.6 544.0 L491.0 544.6 L492.4 545.2 L493.8 545.7 L495.2 546.2 L496.6 546.8 L498.1 547.3 L499.5 547.8 L500.9 548.2 L502.3 548.7 L503.7 549.2 L505.1 549.7 L506.6 550.2 L508.0 550.7 L509.4 551.2 L510.8 551.7 L512.2 552.2 L513.6 552.7 L515.1 553.2 L516.0 553.5" stroke="#5cbf8c"/>
<path d="M302.0 453.0 L303.4 453.5 L304.8 453.9 L306.3 454.4 L307.7 454.9 L309.1 455.4 L310.5 455.8 L312.0 456.3 L313.4 456.8 L314.8 457.3 L316.2 457.8 L317.6 458.4 L319.0 458.9 L320.4 459.5 L321.8 460.1 L323.1 460.7 L324.5 461.3 L325.9 461.8 L327.3 462.4 L328.7 463.0 L330.0 463.7 L331.4 464.3 L332.7 465.0 L334.0 465.7 L335.4 466.4 L336.7 467.0 L338.0 467.7 L339.4 468.4 L340.7 469.1 L342.1 469.8 L343.4 470.5 L344.7 471.2 L346.0 471.9 L347.3 472.6 L348.6 473.3 L350.0 474.1 L351.3 474.8 L352.6 475.5 L353.9 476.2 L355.2 477.0 L356.4 477.8 L357.7 478.7 L358.9 479.5 L360.1 480.4 L361.4 481.2 L362.6 482.0 L363.9 482.8 L365.2 483.6 L366.5 484.3 L367.8 485.1 L369.1 485.8 L370.4 486.6 L371.7 487.3 L373.0 488.1 L374.2 489.0 L375.5 489.8 L376.7 490.6 L378.0 491.5 L379.2 492.3 L380.5 493.1 L381.7 493.9 L383.0 494.8 L384.2 495.6 L385.5 496.4 L386.7 497.3 L387.9 498.2 L389.1 499.1 L390.3 499.9 L391.5 500.8 L392.8 501.7 L394.0 502.6 L395.2 503.5 L396.4 504.3 L397.6 505.2 L398.8 506.2 L399.9 507.2 L401.0 508.2 L402.1 509.2 L403.2 510.2 L404.3 511.3 L405.4 512.3 L406.5 513.3 L407.5 514.4 L408.6 515.4 L409.7 516.4 L410.8 517.4 L411.9 518.5 L413.0 519.5 L414.1 520.5 L415.2 521.5 L416.3 522.6 L417.4 523.6 L418.5 524.6 L419.6 525.7 L420.7 526.7 L421.7 527.7 L422.8 528.8 L423.8 529.9 L424.7 531.1 L425.7 532.2 L426.7 533.4 L427.6 534.6 L428.4 535.8 L429.2 537.1 L430.0 538.3 L430.8 539.6 L431.5 540.9 L432.2 542.3 L432.8 543.6 L433.4 545.0 L433.6 545.5" stroke="#d63fae"/>
<path d="M432.7 551.0 L433.5 552.3 L434.3 553.5 L435.1 554.8 L436.0 556.0 L437.0 557.1 L438.1 558.1 L439.2 559.1 L440.3 560.1 L441.4 561.1 L442.6 562.0 L443.9 562.8 L445.2 563.6 L446.4 564.4 L447.7 565.1 L449.0 565.9 L450.3 566.7 L451.6 567.5 L452.9 568.2 L454.2 569.0 L455.5 569.8 L456.8 570.5 L458.1 571.2 L459.4 571.9 L460.7 572.6 L462.0 573.4 L463.3 574.1 L464.7 574.8 L466.0 575.5 L467.3 576.2 L468.6 576.9 L470.0 577.6 L471.3 578.3 L472.6 579.0 L474.0 579.7 L475.3 580.3 L476.7 581.0 L478.0 581.7 L479.3 582.4 L480.7 583.0 L482.0 583.7 L483.4 584.4 L484.7 585.0 L486.0 585.7 L487.4 586.4 L488.7 587.0 L490.1 587.7 L491.4 588.4 L492.8 589.0 L494.1 589.7 L495.4 590.4 L496.8 591.0 L498.1 591.7 L499.5 592.4 L500.8 593.0 L502.2 593.7 L503.5 594.4 L504.9 595.0 L506.2 595.7 L507.6 596.3 L508.9 597.0 L510.2 597.7 L511.6 598.3 L512.9 599.0 L514.3 599.7 L515.6 600.3" stroke="#d63fae"/>
<path d="M302.0 467.3 L303.4 467.8 L304.8 468.2 L306.3 468.7 L307.7 469.2 L309.1 469.7 L310.5 470.1 L312.0 470.6 L313.4 471.1 L314.8 471.6 L316.2 472.1 L317.6 472.6 L319.0 473.2 L320.4 473.7 L321.8 474.3 L323.2 474.8 L324.6 475.4 L326.0 475.9 L327.4 476.5 L328.8 477.1 L330.1 477.7 L331.5 478.3 L332.9 478.9 L334.2 479.5 L335.6 480.1 L337.0 480.7 L338.3 481.4 L339.7 482.0 L341.1 482.6 L342.4 483.2 L343.8 483.8 L345.2 484.4 L346.5 485.1 L347.9 485.7 L349.3 486.3 L350.7 486.9 L352.0 487.5 L353.4 488.1 L354.8 488.7 L356.1 489.4 L357.5 490.0 L358.9 490.6 L360.2 491.2 L361.6 491.8 L363.0 492.4 L364.4 493.0 L365.7 493.6 L367.1 494.2 L368.5 494.8 L369.9 495.4 L371.2 496.0 L372.6 496.7 L373.9 497.4 L375.2 498.1 L376.5 498.8 L377.8 499.5 L379.1 500.3 L380.5 501.0 L381.8 501.7 L383.1 502.5 L384.4 503.2 L385.7 503.9 L387.0 504.7 L388.3 505.5 L389.6 506.2 L390.8 507.0 L392.1 507.8 L393.4 508.5 L394.7 509.3 L396.0 510.1 L397.3 510.9 L398.6 511.6 L399.8 512.4 L401.1 513.2 L402.4 514.0 L403.6 514.8 L404.8 515.7 L406.0 516.7 L407.1 517.6 L408.3 518.6 L409.4 519.6 L410.6 520.5 L411.8 521.5 L412.9 522.4 L414.1 523.4 L415.3 524.3 L416.4 525.2 L417.6 526.2 L418.7 527.1 L419.8 528.2 L420.9 529.2 L421.9 530.3 L423.0 531.4 L424.0 532.4 L425.1 533.5 L426.1 534.7 L427.0 535.8 L428.0 537.0 L428.9 538.1 L429.9 539.3 L430.7 540.5 L431.5 541.8 L432.2 543.1 L433.0 544.4 L433.2 544.8" stroke="#3fa9f5"/>
<path d="M433.3 549.7 L434.5 550.7 L435.6 551.6 L436.8 552.5 L438.1 553.2 L439.5 553.8 L440.9 554.4 L442.3 554.9 L443.6 555.5 L445.0 556.1 L446.4 556.6 L447.8 557.2 L449.2 557.8 L450.6 558.3 L452.0 558.9 L453.3 559.5 L454.7 560.1 L456.1 560.7 L457.4 561.4 L458.8 562.0 L460.1 562.7 L461.5 563.4 L462.8 564.1 L464.1 564.7 L465.5 565.4 L466.8 566.1 L468.2 566.7 L469.5 567.4 L470.9 568.1 L472.2 568.8 L473.5 569.4 L474.9 570.1 L476.2 570.8 L477.5 571.5 L478.9 572.1 L480.2 572.8 L481.6 573.5 L482.9 574.2 L484.3 574.8 L485.6 575.5 L486.9 576.2 L488.3 576.8 L489.6 577.5 L491.0 578.2 L492.3 578.8 L493.7 579.5 L495.0 580.1 L496.4 580.8 L497.7 581.4 L499.1 582.0 L500.5 582.6 L501.8 583.2 L503.2 583.8 L504.6 584.4 L506.0 585.0 L507.3 585.6 L508.7 586.3 L510.1 586.9 L511.4 587.5 L512.8 588.1 L514.2 588.7 L515.6 589.3" stroke="#3fa9f5"/>
<path d="M302.0 537.0 L303.5 536.9 L305.0 536.8 L306.5 536.7 L308.0 536.6 L309.5 536.5 L311.0 536.4 L312.5 536.3 L314.0 536.2 L315.5 536.1 L317.0 536.1 L318.5 536.0 L320.0 536.0 L321.5 535.9 L323.0 535.9 L324.5 535.8 L326.0 535.8 L327.5 535.7 L329.0 535.7 L330.5 535.7 L332.0 535.7 L333.5 535.7 L335.0 535.7 L336.5 535.8 L338.0 535.8 L339.5 535.8 L341.0 535.8 L342.5 535.8 L344.0 535.9 L345.5 535.9 L347.0 536.0 L348.5 536.0 L350.0 536.1 L351.5 536.2 L353.0 536.2 L354.5 536.3 L356.0 536.3 L357.5 536.4 L358.9 536.5 L360.4 536.6 L361.9 536.7 L363.4 536.7 L364.9 536.8 L366.4 536.9 L367.9 537.0 L369.4 537.1 L370.9 537.2 L372.4 537.3 L373.9 537.5 L375.4 537.7 L376.9 537.9 L378.4 538.1 L379.9 538.3 L381.3 538.5 L382.8 538.7 L384.3 538.9 L385.8 539.1 L387.3 539.3 L388.8 539.5 L390.3 539.7 L391.7 540.0 L393.2 540.2 L394.7 540.4 L396.2 540.6 L397.7 540.8 L399.2 541.1 L400.6 541.3 L402.1 541.5 L403.6 541.7 L405.1 542.0 L406.6 542.2 L408.1 542.4 L409.5 542.6 L411.0 542.9 L412.5 543.1 L414.0 543.3 L415.5 543.6 L416.9 543.8 L418.4 544.1 L419.9 544.3 L421.4 544.6 L422.9 544.8 L424.3 545.0 L425.8 545.2 L427.3 545.4 L428.8 545.5 L430.2 545.5 L431.6 545.1 L432.7 544.3 L433.7 543.2 L434.5 542.0 L435.4 540.9 L436.6 540.1 L438.0 539.6 L439.4 539.4 L440.9 539.6 L442.3 539.8 L443.8 540.2 L445.3 540.5 L446.7 540.9 L448.2 541.2 L449.6 541.6 L451.1 542.0 L452.5 542.3 L454.0 542.7 L455.4 543.1 L456.9 543.6 L458.3 544.0 L459.7 544.5 L461.1 545.0 L462.5 545.5 L463.9 546.0 L465.4 546.5 L466.8 547.0 L468.2 547.5 L469.6 548.1 L471.0 548.6 L472.4 549.2 L473.8 549.7 L475.2 550.3 L476.6 550.8 L477.9 551.4 L479.3 551.9 L480.7 552.5 L482.1 553.1 L483.5 553.7 L484.9 554.3 L486.2 554.9 L487.6 555.5 L489.0 556.1 L490.3 556.8 L491.7 557.4 L493.1 558.0 L494.4 558.6 L495.8 559.2 L497.2 559.7 L498.6 560.2 L500.0 560.7 L501.5 561.2 L502.9 561.7 L504.3 562.3 L505.7 562.8 L507.1 563.3 L508.5 563.8 L509.9 564.3 L511.3 564.8 L512.7 565.3 L514.1 565.8 L515.6 566.3" stroke="#4040d8"/>
<path d="M434.00 481.00 C433.77 483.00 433.52 485.06 433.30 487.00 C433.09 488.82 432.62 490.70 432.70 492.30 C432.77 493.65 433.23 494.77 433.50 496.00" stroke="#fbb03b" stroke-dasharray="3.5 4.5"/>
<path d="M433.50 506.00 C433.43 504.00 433.39 501.91 433.30 500.00 C433.22 498.26 433.10 496.67 433.00 495.00" stroke="#f56a35" stroke-dasharray="3.5 4.5"/>
</g>
<path d="M355.47 600.66 v-3.50 M355.47 432.16 v3.50 M408.75 600.66 v-3.50 M408.75 432.16 v3.50 M462.02 600.66 v-3.50 M462.02 432.16 v3.50 M302.20 576.59 h3.50 M515.30 576.59 h-3.50 M302.20 552.52 h3.50 M515.30 552.52 h-3.50 M302.20 528.45 h3.50 M515.30 528.45 h-3.50 M302.20 504.37 h3.50 M515.30 504.37 h-3.50 M302.20 480.30 h3.50 M515.30 480.30 h-3.50 M302.20 456.23 h3.50 M515.30 456.23 h-3.50" stroke="#333" stroke-width="0.8" fill="none"/>
<path d="M318.24 600.66 v-1.80 M318.24 432.16 v1.80 M327.62 600.66 v-1.80 M327.62 432.16 v1.80 M334.27 600.66 v-1.80 M334.27 432.16 v1.80 M339.44 600.66 v-1.80 M339.44 432.16 v1.80 M343.66 600.66 v-1.80 M343.66 432.16 v1.80 M347.22 600.66 v-1.80 M347.22 432.16 v1.80 M350.31 600.66 v-1.80 M350.31 432.16 v1.80 M353.04 600.66 v-1.80 M353.04 432.16 v1.80 M371.51 600.66 v-1.80 M371.51 432.16 v1.80 M380.89 600.66 v-1.80 M380.89 432.16 v1.80 M387.55 600.66 v-1.80 M387.55 432.16 v1.80 M392.71 600.66 v-1.80 M392.71 432.16 v1.80 M396.93 600.66 v-1.80 M396.93 432.16 v1.80 M400.50 600.66 v-1.80 M400.50 432.16 v1.80 M403.59 600.66 v-1.80 M403.59 432.16 v1.80 M406.31 600.66 v-1.80 M406.31 432.16 v1.80 M424.79 600.66 v-1.80 M424.79 432.16 v1.80 M434.17 600.66 v-1.80 M434.17 432.16 v1.80 M440.82 600.66 v-1.80 M440.82 432.16 v1.80 M445.99 600.66 v-1.80 M445.99 432.16 v1.80 M450.21 600.66 v-1.80 M450.21 432.16 v1.80 M453.77 600.66 v-1.80 M453.77 432.16 v1.80 M456.86 600.66 v-1.80 M456.86 432.16 v1.80 M459.59 600.66 v-1.80 M459.59 432.16 v1.80 M478.06 600.66 v-1.80 M478.06 432.16 v1.80 M487.44 600.66 v-1.80 M487.44 432.16 v1.80 M494.10 600.66 v-1.80 M494.10 432.16 v1.80 M499.26 600.66 v-1.80 M499.26 432.16 v1.80 M503.48 600.66 v-1.80 M503.48 432.16 v1.80 M507.05 600.66 v-1.80 M507.05 432.16 v1.80 M510.14 600.66 v-1.80 M510.14 432.16 v1.80 M512.86 600.66 v-1.80 M512.86 432.16 v1.80 M302.20 593.41 h1.80 M515.30 593.41 h-1.80 M302.20 589.18 h1.80 M515.30 589.18 h-1.80 M302.20 586.17 h1.80 M515.30 586.17 h-1.80 M302.20 583.83 h1.80 M515.30 583.83 h-1.80 M302.20 581.93 h1.80 M515.30 581.93 h-1.80 M302.20 580.32 h1.80 M515.30 580.32 h-1.80 M302.20 578.92 h1.80 M515.30 578.92 h-1.80 M302.20 577.69 h1.80 M515.30 577.69 h-1.80 M302.20 569.34 h1.80 M515.30 569.34 h-1.80 M302.20 565.10 h1.80 M515.30 565.10 h-1.80 M302.20 562.10 h1.80 M515.30 562.10 h-1.80 M302.20 559.76 h1.80 M515.30 559.76 h-1.80 M302.20 557.86 h1.80 M515.30 557.86 h-1.80 M302.20 556.25 h1.80 M515.30 556.25 h-1.80 M302.20 554.85 h1.80 M515.30 554.85 h-1.80 M302.20 553.62 h1.80 M515.30 553.62 h-1.80 M302.20 545.27 h1.80 M515.30 545.27 h-1.80 M302.20 541.03 h1.80 M515.30 541.03 h-1.80 M302.20 538.02 h1.80 M515.30 538.02 h-1.80 M302.20 535.69 h1.80 M515.30 535.69 h-1.80 M302.20 533.79 h1.80 M515.30 533.79 h-1.80 M302.20 532.17 h1.80 M515.30 532.17 h-1.80 M302.20 530.78 h1.80 M515.30 530.78 h-1.80 M302.20 529.55 h1.80 M515.30 529.55 h-1.80 M302.20 521.20 h1.80 M515.30 521.20 h-1.80 M302.20 516.96 h1.80 M515.30 516.96 h-1.80 M302.20 513.95 h1.80 M515.30 513.95 h-1.80 M302.20 511.62 h1.80 M515.30 511.62 h-1.80 M302.20 509.71 h1.80 M515.30 509.71 h-1.80 M302.20 508.10 h1.80 M515.30 508.10 h-1.80 M302.20 506.71 h1.80 M515.30 506.71 h-1.80 M302.20 505.48 h1.80 M515.30 505.48 h-1.80 M302.20 497.13 h1.80 M515.30 497.13 h-1.80 M302.20 492.89 h1.80 M515.30 492.89 h-1.80 M302.20 489.88 h1.80 M515.30 489.88 h-1.80 M302.20 487.55 h1.80 M515.30 487.55 h-1.80 M302.20 485.64 h1.80 M515.30 485.64 h-1.80 M302.20 484.03 h1.80 M515.30 484.03 h-1.80 M302.20 482.64 h1.80 M515.30 482.64 h-1.80 M302.20 481.40 h1.80 M515.30 481.40 h-1.80 M302.20 473.06 h1.80 M515.30 473.06 h-1.80 M302.20 468.82 h1.80 M515.30 468.82 h-1.80 M302.20 465.81 h1.80 M515.30 465.81 h-1.80 M302.20 463.48 h1.80 M515.30 463.48 h-1.80 M302.20 461.57 h1.80 M515.30 461.57 h-1.80 M302.20 459.96 h1.80 M515.30 459.96 h-1.80 M302.20 458.56 h1.80 M515.30 458.56 h-1.80 M302.20 457.33 h1.80 M515.30 457.33 h-1.80 M302.20 448.99 h1.80 M515.30 448.99 h-1.80 M302.20 444.75 h1.80 M515.30 444.75 h-1.80 M302.20 441.74 h1.80 M515.30 441.74 h-1.80 M302.20 439.41 h1.80 M515.30 439.41 h-1.80 M302.20 437.50 h1.80 M515.30 437.50 h-1.80 M302.20 435.89 h1.80 M515.30 435.89 h-1.80 M302.20 434.49 h1.80 M515.30 434.49 h-1.80 M302.20 433.26 h1.80 M515.30 433.26 h-1.80" stroke="#555" stroke-width="0.6" fill="none"/>
<rect x="302.20" y="432.16" width="213.10" height="168.50" fill="none" stroke="#333" stroke-width="1.15"/>
<text x="298.60" y="434.86" font-size="8.9" font-family="DejaVu Serif, Liberation Serif, serif" text-anchor="end" fill="#1a1a1a" stroke="#1a1a1a" stroke-width="0.2">10<tspan font-size="6.1" dx="0.6" dy="-4.5" stroke-width="0.12">-3</tspan></text>
<text x="298.60" y="458.93" font-size="8.9" font-family="DejaVu Serif, Liberation Serif, serif" text-anchor="end" fill="#1a1a1a" stroke="#1a1a1a" stroke-width="0.2">10<tspan font-size="6.1" dx="0.6" dy="-4.5" stroke-width="0.12">-4</tspan></text>
<text x="298.60" y="483.00" font-size="8.9" font-family="DejaVu Serif, Liberation Serif, serif" text-anchor="end" fill="#1a1a1a" stroke="#1a1a1a" stroke-width="0.2">10<tspan font-size="6.1" dx="0.6" dy="-4.5" stroke-width="0.12">-5</tspan></text>
<text x="298.60" y="507.07" font-size="8.9" font-family="DejaVu Serif, Liberation Serif, serif" text-anchor="end" fill="#1a1a1a" stroke="#1a1a1a" stroke-width="0.2">10<tspan font-size="6.1" dx="0.6" dy="-4.5" stroke-width="0.12">-6</tspan></text>
<text x="298.60" y="531.15" font-size="8.9" font-family="DejaVu Serif, Liberation Serif, serif" text-anchor="end" fill="#1a1a1a" stroke="#1a1a1a" stroke-width="0.2">10<tspan font-size="6.1" dx="0.6" dy="-4.5" stroke-width="0.12">-7</tspan></text>
<text x="298.60" y="555.22" font-size="8.9" font-family="DejaVu Serif, Liberation Serif, serif" text-anchor="end" fill="#1a1a1a" stroke="#1a1a1a" stroke-width="0.2">10<tspan font-size="6.1" dx="0.6" dy="-4.5" stroke-width="0.12">-8</tspan></text>
<text x="298.60" y="579.29" font-size="8.9" font-family="DejaVu Serif, Liberation Serif, serif" text-anchor="end" fill="#1a1a1a" stroke="#1a1a1a" stroke-width="0.2">10<tspan font-size="6.1" dx="0.6" dy="-4.5" stroke-width="0.12">-9</tspan></text>
<text x="298.60" y="603.36" font-size="8.9" font-family="DejaVu Serif, Liberation Serif, serif" text-anchor="end" fill="#1a1a1a" stroke="#1a1a1a" stroke-width="0.2">10<tspan font-size="6.1" dx="0.6" dy="-4.5" stroke-width="0.12">-10</tspan></text>
<text x="302.50" y="612.56" font-size="8.9" font-family="DejaVu Serif, Liberation Serif, serif" text-anchor="middle" fill="#1a1a1a" stroke="#1a1a1a" stroke-width="0.2">10<tspan font-size="6.1" dx="-0.2" dy="-4.4" stroke-width="0.12">1</tspan></text>
<text x="355.77" y="612.56" font-size="8.9" font-family="DejaVu Serif, Liberation Serif, serif" text-anchor="middle" fill="#1a1a1a" stroke="#1a1a1a" stroke-width="0.2">10<tspan font-size="6.1" dx="-0.2" dy="-4.4" stroke-width="0.12">2</tspan></text>
<text x="409.05" y="612.56" font-size="8.9" font-family="DejaVu Serif, Liberation Serif, serif" text-anchor="middle" fill="#1a1a1a" stroke="#1a1a1a" stroke-width="0.2">10<tspan font-size="6.1" dx="-0.2" dy="-4.4" stroke-width="0.12">3</tspan></text>
<text x="462.32" y="612.56" font-size="8.9" font-family="DejaVu Serif, Liberation Serif, serif" text-anchor="middle" fill="#1a1a1a" stroke="#1a1a1a" stroke-width="0.2">10<tspan font-size="6.1" dx="-0.2" dy="-4.4" stroke-width="0.12">4</tspan></text>
<text x="515.60" y="612.56" font-size="8.9" font-family="DejaVu Serif, Liberation Serif, serif" text-anchor="middle" fill="#1a1a1a" stroke="#1a1a1a" stroke-width="0.2">10<tspan font-size="6.1" dx="-0.2" dy="-4.4" stroke-width="0.12">5</tspan></text>
<text x="408.75" y="427.76" font-size="10" text-anchor="middle" fill="#1a1a1a" stroke="#1a1a1a" stroke-width="0.2">(f)</text>
<text x="397.40" y="485.70" font-size="9.4" fill="#5cbf8c" stroke="#5cbf8c" stroke-width="0.3">C<tspan font-size="7.05" font-weight="200" stroke="none" fill-opacity="0.85" dx="0.5" dy="-3.6">+</tspan></text>
<text x="332.40" y="492.40" font-size="9.4" fill="#222222" stroke="#222222" stroke-width="0.3">S<tspan font-size="7.05" font-weight="200" stroke="none" fill-opacity="0.85" dx="0.5" dy="-3.6">+</tspan></text>
<text x="376.70" y="518.30" font-size="9.4" fill="#3fa9f5" stroke="#3fa9f5" stroke-width="0.3">He<tspan font-size="7.05" font-weight="200" stroke="none" fill-opacity="0.85" dx="0.5" dy="-3.6">+</tspan></text>
<text x="323.00" y="555.30" font-size="9.4" fill="#4040d8" stroke="#4040d8" stroke-width="0.3">H<tspan font-size="5.64" stroke-width="0.15" dx="0.1" dy="2.4">3</tspan><tspan font-size="7.05" font-weight="200" stroke="none" fill-opacity="0.85" dx="0.7" dy="-6.0">+</tspan></text>
<text x="340.40" y="586.00" font-size="9.4" fill="#f56a35" stroke="#f56a35" stroke-width="0.3">O<tspan font-size="5.64" stroke-width="0.15" dx="0.1" dy="2.4">2</tspan></text>
<text x="432.10" y="455.00" font-size="9.4" fill="#3a3a3a" stroke="#3a3a3a" stroke-width="0.3">O</text>
<text x="438.70" y="476.00" font-size="9.4" fill="#fbb03b" stroke="#fbb03b" stroke-width="0.3">C</text>
</g>
<g>
<clipPath id="cg"><rect x="42.50" y="641.49" width="212.55" height="168.50"/></clipPath>
<g clip-path="url(#cg)" fill="none" stroke-width="1.35" stroke-linejoin="round" stroke-linecap="butt">
<path d="M42.0 666.9 L43.5 666.9 L45.0 666.9 L46.5 666.9 L48.0 666.9 L49.5 666.9 L51.0 666.9 L52.5 666.9 L54.0 667.0 L55.5 667.0 L57.0 667.0 L58.5 667.0 L60.0 667.0 L61.5 667.0 L63.0 667.0 L64.5 667.0 L66.0 667.0 L67.5 667.0 L69.0 667.0 L70.5 667.0 L72.0 667.0 L73.5 667.0 L75.0 667.0 L76.5 667.0 L78.0 667.1 L79.5 667.1 L81.0 667.1 L82.5 667.1 L84.0 667.1 L85.5 667.1 L87.0 667.1 L88.5 667.1 L90.0 667.1 L91.5 667.1 L93.0 667.1 L94.5 667.1 L96.0 667.1 L97.5 667.1 L99.0 667.1 L100.5 667.2 L102.0 667.2 L103.5 667.2 L105.0 667.2 L106.5 667.2 L108.0 667.2 L109.5 667.2 L111.0 667.2 L112.5 667.2 L114.0 667.2 L115.5 667.2 L117.0 667.2 L118.5 667.2 L120.0 667.2 L121.5 667.2 L123.0 667.2 L124.5 667.2 L126.0 667.3 L127.5 667.3 L129.0 667.3 L130.5 667.3 L132.0 667.3 L133.5 667.3 L135.0 667.3 L136.5 667.3 L138.0 667.3 L139.5 667.3 L141.0 667.4 L142.5 667.4 L144.0 667.5 L145.5 667.5 L147.0 667.5 L148.5 667.6 L150.0 667.6 L151.5 667.7 L153.0 667.8 L154.5 668.0 L156.0 668.1 L157.5 668.3 L159.0 668.4 L160.4 668.6 L161.9 668.7 L163.4 668.9 L164.9 669.1 L166.4 669.4 L167.9 669.7 L169.3 670.0 L170.8 670.3 L172.3 670.6 L173.7 670.9 L175.2 671.2 L176.7 671.5 L178.1 671.9 L179.6 672.2 L181.1 672.5 L182.5 672.8 L184.0 673.1 L185.5 673.3 L187.0 673.5 L188.5 673.6 L190.0 673.7 L191.5 673.8 L192.9 674.0 L194.4 674.1 L195.9 674.2 L197.4 674.3 L198.9 674.4 L200.4 674.5 L201.9 674.5 L203.4 674.6 L204.9 674.6 L206.4 674.7 L207.9 674.8 L209.4 674.8 L210.9 674.9 L212.4 674.9 L213.9 675.0 L215.4 675.0 L216.9 675.1 L218.4 675.1 L219.9 675.1 L221.4 675.2 L222.9 675.2 L224.4 675.3 L225.9 675.3 L227.4 675.4 L228.9 675.4 L230.4 675.4 L231.9 675.5 L233.4 675.5 L234.9 675.5 L236.4 675.6 L237.9 675.6 L239.4 675.6 L240.9 675.6 L242.4 675.6 L243.9 675.6 L245.4 675.6 L246.9 675.6 L248.4 675.7 L249.9 675.7 L251.4 675.7 L252.9 675.7 L254.4 675.7 L255.9 675.7" stroke="#3a3a3a"/>
<path d="M42.0 661.1 L43.4 661.6 L44.9 662.0 L46.3 662.5 L47.7 662.9 L49.2 663.4 L50.6 663.8 L52.0 664.3 L53.4 664.7 L54.9 665.2 L56.3 665.7 L57.7 666.3 L59.1 666.8 L60.5 667.4 L61.8 667.9 L63.2 668.5 L64.6 669.1 L66.0 669.6 L67.4 670.2 L68.8 670.8 L70.2 671.4 L71.5 672.0 L72.9 672.6 L74.3 673.2 L75.6 673.8 L77.0 674.4 L78.4 675.1 L79.7 675.7 L81.1 676.3 L82.4 677.0 L83.8 677.7 L85.1 678.4 L86.4 679.1 L87.7 679.8 L89.0 680.6 L90.3 681.3 L91.7 682.0 L93.0 682.7 L94.3 683.4 L95.6 684.2 L96.9 684.9 L98.2 685.6 L99.5 686.4 L100.8 687.1 L102.1 687.9 L103.4 688.6 L104.7 689.3 L106.0 690.1 L107.3 690.9 L108.6 691.6 L109.9 692.4 L111.2 693.2 L112.4 694.0 L113.7 694.8 L114.9 695.7 L116.2 696.5 L117.4 697.4 L118.6 698.2 L119.9 699.0 L121.1 699.9 L122.4 700.7 L123.6 701.6 L124.8 702.4 L126.0 703.3 L127.2 704.2 L128.4 705.2 L129.6 706.1 L130.7 707.1 L131.9 708.0 L133.1 708.9 L134.2 709.9 L135.4 710.8 L136.6 711.8 L137.8 712.7 L138.9 713.6 L140.1 714.6 L141.3 715.5 L142.4 716.4 L143.6 717.4 L144.8 718.3 L146.0 719.2 L147.1 720.2 L148.3 721.1 L149.5 722.1 L150.6 723.0 L151.8 724.0 L153.0 724.9 L154.1 725.9 L155.3 726.8 L156.5 727.7 L157.6 728.7 L158.8 729.6 L160.0 730.5 L161.2 731.4 L162.4 732.3 L163.6 733.2 L164.7 734.2 L165.9 735.2 L166.9 736.2 L168.0 737.3 L169.0 738.3 L170.1 739.4 L171.2 740.5 L172.2 741.5 L173.3 742.6 L174.3 743.7 L175.3 744.8 L176.2 746.0 L177.1 747.2 L178.0 748.4 L178.9 749.6 L179.8 750.8 L180.5 752.1 L181.2 753.4 L181.9 754.8 L182.6 756.1 L183.3 757.4 L184.1 758.7 L184.9 759.9 L185.9 761.0 L187.0 762.0 L188.2 762.9 L189.4 763.8 L190.6 764.7 L191.9 765.6 L193.1 766.4 L194.3 767.3 L195.6 768.1 L196.8 769.0 L198.1 769.8 L199.3 770.6 L200.7 771.3 L202.0 772.0 L203.3 772.7 L204.6 773.4 L205.9 774.2 L207.2 774.9 L208.6 775.6 L209.9 776.3 L211.2 777.0 L212.5 777.7 L213.9 778.4 L215.2 779.1 L216.5 779.7 L217.9 780.4 L219.2 781.1 L220.6 781.8 L221.9 782.4 L223.2 783.1 L224.6 783.8 L225.9 784.5 L227.2 785.3 L228.5 786.1 L229.7 786.9 L231.0 787.6 L232.3 788.4 L233.6 789.2 L234.9 789.9 L236.2 790.7 L237.5 791.5 L238.8 792.2 L240.1 793.0 L241.4 793.7 L242.7 794.4 L244.0 795.2 L245.3 795.9 L246.6 796.6 L247.9 797.3 L249.2 798.1 L250.6 798.8 L251.9 799.5 L253.2 800.2 L254.5 801.0 L255.8 801.7" stroke="#d63fae"/>
<path d="M42.0 677.1 L43.4 677.6 L44.9 678.0 L46.3 678.5 L47.7 678.9 L49.2 679.4 L50.6 679.8 L52.0 680.3 L53.4 680.7 L54.9 681.2 L56.3 681.7 L57.7 682.2 L59.1 682.8 L60.5 683.3 L61.9 683.9 L63.3 684.4 L64.7 684.9 L66.1 685.5 L67.5 686.0 L68.9 686.6 L70.3 687.1 L71.7 687.7 L73.0 688.2 L74.4 688.8 L75.8 689.3 L77.2 689.9 L78.6 690.5 L80.0 691.0 L81.4 691.6 L82.8 692.2 L84.1 692.8 L85.5 693.5 L86.8 694.2 L88.2 694.8 L89.5 695.5 L90.9 696.1 L92.2 696.8 L93.6 697.4 L94.9 698.1 L96.3 698.7 L97.6 699.3 L99.0 700.0 L100.4 700.6 L101.7 701.2 L103.1 701.8 L104.5 702.4 L105.8 703.0 L107.2 703.6 L108.6 704.3 L109.9 704.9 L111.3 705.5 L112.7 706.1 L114.0 706.8 L115.4 707.5 L116.7 708.2 L118.0 708.8 L119.4 709.5 L120.7 710.2 L122.0 710.9 L123.4 711.5 L124.7 712.3 L126.0 713.0 L127.2 713.9 L128.4 714.8 L129.6 715.6 L130.9 716.5 L132.1 717.4 L133.3 718.3 L134.5 719.1 L135.7 720.0 L136.9 720.9 L138.2 721.8 L139.4 722.6 L140.6 723.5 L141.9 724.3 L143.2 725.0 L144.5 725.8 L145.7 726.7 L147.0 727.5 L148.2 728.4 L149.4 729.3 L150.6 730.2 L151.8 731.1 L152.9 732.0 L154.1 733.0 L155.1 734.1 L156.2 735.2 L157.2 736.3 L158.2 737.4 L159.2 738.5 L160.3 739.5 L161.4 740.5 L162.4 741.6 L163.5 742.6 L164.6 743.7 L165.7 744.7 L166.7 745.8 L167.7 746.9 L168.7 748.0 L169.7 749.2 L170.7 750.3 L171.7 751.4 L172.7 752.5 L173.7 753.6 L174.8 754.7 L175.8 755.7 L176.9 756.8 L178.0 757.8 L179.1 758.8 L180.2 759.8 L181.3 760.8 L182.5 761.8 L183.7 762.6 L185.0 763.4 L186.3 764.1 L187.7 764.7 L189.1 765.3 L190.5 765.9 L191.8 766.5 L193.2 767.1 L194.6 767.7 L196.0 768.3 L197.3 768.9 L198.7 769.5 L200.1 770.1 L201.4 770.7 L202.8 771.3 L204.2 771.9 L205.5 772.5 L206.9 773.2 L208.3 773.8 L209.7 774.4 L211.0 775.0 L212.4 775.6 L213.8 776.2 L215.1 776.8 L216.5 777.5 L217.9 778.1 L219.2 778.7 L220.6 779.3 L222.0 779.9 L223.3 780.6 L224.7 781.2 L226.0 781.8 L227.4 782.5 L228.7 783.2 L230.1 783.9 L231.4 784.5 L232.7 785.2 L234.1 785.9 L235.4 786.6 L236.8 787.2 L238.1 787.9 L239.5 788.5 L240.8 789.2 L242.2 789.8 L243.5 790.5 L244.9 791.1 L246.2 791.8 L247.6 792.4 L248.9 793.0 L250.3 793.7 L251.7 794.3 L253.0 795.0 L254.4 795.6 L255.7 796.3" stroke="#3fa9f5"/>
<path d="M42.0 681.3 L43.5 681.2 L45.0 681.0 L46.5 680.9 L48.0 680.7 L49.5 680.6 L51.0 680.4 L52.5 680.3 L53.9 680.1 L55.4 680.0 L56.9 679.9 L58.4 679.8 L59.9 679.8 L61.4 679.7 L62.9 679.6 L64.4 679.5 L65.9 679.4 L67.4 679.4 L68.9 679.3 L70.4 679.2 L71.9 679.2 L73.4 679.2 L74.9 679.1 L76.4 679.1 L77.9 679.0 L79.4 679.0 L80.9 678.9 L82.4 678.9 L83.9 678.9 L85.4 678.8 L86.9 678.8 L88.4 678.8 L89.9 678.8 L91.4 678.8 L92.9 678.7 L94.4 678.7 L95.9 678.7 L97.4 678.7 L98.9 678.7 L100.4 678.6 L101.9 678.6 L103.4 678.6 L104.9 678.6 L106.4 678.6 L107.9 678.5 L109.4 678.5 L110.9 678.5 L112.4 678.5 L113.9 678.5 L115.4 678.4 L116.9 678.4 L118.4 678.4 L119.9 678.4 L121.4 678.3 L122.9 678.3 L124.4 678.3 L125.9 678.2 L127.4 678.2 L128.9 678.2 L130.4 678.2 L131.9 678.1 L133.4 678.1 L134.9 678.1 L136.4 678.0 L137.9 678.0 L139.4 678.1 L140.9 678.1 L142.4 678.2 L143.9 678.3 L145.4 678.4 L146.9 678.4 L148.4 678.5 L149.9 678.6 L151.4 678.7 L152.9 679.0 L154.3 679.3 L155.8 679.6 L157.2 680.0 L158.7 680.3 L160.1 680.7 L161.6 681.1 L163.0 681.6 L164.3 682.3 L165.6 683.0 L166.9 683.8 L168.2 684.5 L169.5 685.3 L170.7 686.2 L171.8 687.1 L172.9 688.2 L173.9 689.3 L175.0 690.3 L176.0 691.4 L176.9 692.6 L177.7 693.9 L178.5 695.1 L179.3 696.4 L180.1 697.7 L180.6 699.1 L181.2 700.5 L181.7 701.9 L182.2 703.3 L182.8 704.7 L183.3 706.1 L183.8 707.5 L184.5 708.9 L185.1 710.2 L185.8 711.5 L186.6 712.8 L187.3 714.1 L188.1 715.4 L188.9 716.7 L189.7 717.9 L190.6 719.1 L191.5 720.3 L192.4 721.5 L193.3 722.7 L194.3 723.8 L195.5 724.8 L196.7 725.6 L197.9 726.5 L199.2 727.3 L200.4 728.2 L201.6 729.0 L202.9 729.9 L204.1 730.7 L205.4 731.5 L206.7 732.3 L207.9 733.1 L209.2 733.8 L210.5 734.6 L211.8 735.4 L213.1 736.2 L214.4 736.9 L215.7 737.7 L216.9 738.5 L218.2 739.3 L219.5 740.1 L220.7 740.9 L222.0 741.7 L223.3 742.5 L224.5 743.3 L225.8 744.2 L227.0 745.0 L228.3 745.8 L229.5 746.6 L230.8 747.4 L232.1 748.3 L233.3 749.1 L234.5 750.0 L235.7 750.8 L237.0 751.7 L238.2 752.5 L239.4 753.4 L240.7 754.3 L241.9 755.1 L243.1 756.0 L244.3 756.9 L245.5 757.8 L246.7 758.7 L247.9 759.6 L249.0 760.6 L250.2 761.5 L251.4 762.5 L252.5 763.4 L253.7 764.3 L254.9 765.3 L255.7 765.9" stroke="#fbb03b"/>
<path d="M42.0 685.1 L43.5 685.2 L45.0 685.4 L46.5 685.5 L48.0 685.7 L49.5 685.8 L51.0 686.0 L52.5 686.1 L53.9 686.3 L55.4 686.4 L56.9 686.6 L58.4 686.7 L59.9 686.8 L61.4 687.0 L62.9 687.1 L64.4 687.3 L65.9 687.4 L67.4 687.6 L68.9 687.7 L70.4 687.9 L71.9 688.0 L73.3 688.2 L74.8 688.3 L76.3 688.5 L77.8 688.7 L79.3 688.8 L80.8 689.0 L82.3 689.1 L83.8 689.3 L85.3 689.4 L86.8 689.6 L88.3 689.7 L89.8 689.9 L91.3 690.0 L92.7 690.2 L94.2 690.3 L95.7 690.5 L97.2 690.6 L98.7 690.8 L100.2 690.9 L101.7 691.1 L103.2 691.3 L104.7 691.4 L106.2 691.6 L107.7 691.7 L109.2 691.9 L110.6 692.1 L112.1 692.3 L113.6 692.6 L115.1 692.9 L116.5 693.3 L118.0 693.6 L119.4 693.9 L120.9 694.3 L122.4 694.6 L123.8 695.0 L125.3 695.3 L126.7 695.7 L128.2 696.2 L129.6 696.6 L131.0 697.0 L132.5 697.4 L133.9 697.9 L135.3 698.3 L136.8 698.7 L138.2 699.2 L139.6 699.6 L141.1 700.1 L142.5 700.6 L143.9 701.1 L145.3 701.6 L146.7 702.1 L148.1 702.6 L149.5 703.1 L151.0 703.6 L152.4 704.2 L153.7 704.8 L155.1 705.4 L156.5 706.0 L157.9 706.6 L159.2 707.2 L160.6 707.8 L162.0 708.4 L163.4 709.0 L164.7 709.6 L166.0 710.4 L167.2 711.3 L168.3 712.2 L169.5 713.2 L170.7 714.1 L171.9 715.0 L173.0 716.0 L174.2 716.9 L175.3 717.9 L176.3 719.0 L177.4 720.1 L178.4 721.1 L179.4 722.2 L180.3 723.4 L181.1 724.7 L181.9 726.0 L182.6 727.3 L183.4 728.6 L184.2 729.9 L185.0 731.1 L185.9 732.3 L186.9 733.4 L187.9 734.5 L188.9 735.6 L190.0 736.7 L191.0 737.7 L192.2 738.7 L193.4 739.6 L194.7 740.4 L195.9 741.2 L197.2 742.0 L198.5 742.8 L199.8 743.5 L201.1 744.2 L202.4 744.9 L203.7 745.7 L205.0 746.4 L206.4 747.1 L207.7 747.8 L209.0 748.5 L210.3 749.2 L211.6 750.0 L212.9 750.7 L214.3 751.4 L215.6 752.1 L216.9 752.8 L218.2 753.6 L219.5 754.3 L220.8 755.0 L222.1 755.7 L223.5 756.5 L224.8 757.2 L226.1 757.9 L227.4 758.7 L228.6 759.5 L229.9 760.3 L231.2 761.0 L232.5 761.8 L233.8 762.6 L235.1 763.4 L236.4 764.1 L237.6 764.9 L239.0 765.6 L240.3 766.3 L241.6 767.0 L242.9 767.7 L244.3 768.4 L245.6 769.1 L247.0 769.7 L248.3 770.4 L249.6 771.1 L251.0 771.8 L252.3 772.5 L253.6 773.2 L255.0 773.9 L255.8 774.3" stroke="#5cbf8c"/>
<path d="M58.0 809.3 L59.1 808.2 L60.1 807.2 L61.2 806.1 L62.3 805.1 L63.3 804.0 L64.4 803.0 L65.5 801.9 L66.5 800.9 L67.6 799.8 L68.7 798.8 L69.8 797.7 L70.9 796.7 L72.0 795.7 L73.1 794.7 L74.2 793.7 L75.3 792.7 L76.5 791.7 L77.6 790.7 L78.7 789.7 L79.8 788.7 L80.9 787.7 L82.0 786.7 L83.1 785.7 L84.2 784.7 L85.4 783.7 L86.5 782.7 L87.6 781.7 L88.7 780.7 L89.8 779.6 L90.9 778.6 L92.0 777.6 L93.2 776.6 L94.3 775.6 L95.4 774.6 L96.5 773.7 L97.7 772.7 L98.8 771.7 L100.0 770.8 L101.1 769.8 L102.3 768.9 L103.5 767.9 L104.7 767.1 L106.0 766.3 L107.2 765.4 L108.5 764.6 L109.7 763.8 L111.0 763.0 L112.3 762.2 L113.5 761.4 L114.8 760.7 L116.1 759.9 L117.4 759.2 L118.8 758.4 L120.1 757.7 L121.4 757.0 L122.7 756.2 L124.0 755.5 L125.3 754.7 L126.6 754.1 L127.9 753.4 L129.3 752.7 L130.6 752.0 L132.0 751.4 L133.3 750.7 L134.7 750.0 L136.0 749.4 L137.3 748.7 L138.7 748.1 L140.1 747.5 L141.5 747.0 L142.9 746.5 L144.3 746.0 L145.7 745.5 L147.2 745.0 L148.6 744.5 L150.0 744.0 L151.4 743.5 L152.8 743.0 L154.2 742.5 L155.6 742.0 L157.1 741.5 L158.5 741.0 L159.9 740.5 L161.3 739.9 L162.6 739.2 L163.9 738.5 L165.2 737.7 L166.4 736.9 L167.7 736.1 L168.8 735.1 L169.9 734.1 L171.0 733.0 L172.0 732.0 L173.1 730.9 L174.1 729.8 L175.1 728.7 L176.0 727.5 L176.9 726.3 L177.8 725.1 L178.6 723.9 L179.3 722.5 L179.8 721.1 L180.4 719.7 L181.0 718.4 L181.5 717.0 L182.1 715.6 L182.7 714.2 L183.4 712.9 L184.1 711.6 L185.0 710.4 L186.0 709.3 L187.1 708.3 L188.2 707.3 L189.4 706.4 L190.7 705.7 L192.1 705.0 L193.4 704.4 L194.8 703.8 L196.2 703.2 L197.6 702.8 L199.0 702.4 L200.5 702.0 L201.9 701.6 L203.4 701.2 L204.8 700.8 L206.3 700.6 L207.8 700.4 L209.3 700.2 L210.8 700.0 L212.3 699.8 L213.7 699.6 L215.2 699.5 L216.7 699.3 L218.2 699.1 L219.7 699.0 L221.2 698.9 L222.7 698.7 L224.2 698.6 L225.7 698.5 L227.2 698.4 L228.7 698.2 L230.2 698.1 L231.7 698.0 L233.2 697.9 L234.7 697.8 L236.2 697.7 L237.7 697.6 L239.1 697.5 L240.6 697.4 L242.1 697.3 L243.6 697.2 L245.1 697.1 L246.6 697.0 L248.1 696.9 L249.6 696.8 L251.1 696.7 L252.6 696.5 L254.1 696.4 L255.6 696.3" stroke="#f56a35"/>
<path d="M42.0 749.1 L43.5 749.0 L45.0 748.9 L46.5 748.9 L48.0 748.8 L49.5 748.7 L51.0 748.6 L52.5 748.5 L54.0 748.5 L55.5 748.4 L57.0 748.4 L58.5 748.3 L60.0 748.3 L61.5 748.2 L63.0 748.2 L64.5 748.1 L66.0 748.1 L67.5 748.0 L69.0 748.0 L70.5 748.0 L72.0 748.0 L73.5 748.0 L75.0 748.0 L76.5 748.0 L78.0 748.0 L79.5 748.0 L81.0 748.0 L82.5 748.0 L84.0 748.0 L85.5 748.1 L87.0 748.1 L88.5 748.1 L90.0 748.2 L91.5 748.2 L93.0 748.2 L94.5 748.3 L96.0 748.3 L97.5 748.3 L99.0 748.3 L100.5 748.3 L102.0 748.3 L103.5 748.3 L105.0 748.4 L106.5 748.4 L108.0 748.4 L109.5 748.4 L111.0 748.4 L112.5 748.5 L114.0 748.5 L115.5 748.6 L117.0 748.7 L118.5 748.8 L120.0 748.9 L121.5 749.0 L122.9 749.1 L124.4 749.3 L125.9 749.5 L127.4 749.7 L128.9 750.0 L130.3 750.3 L131.8 750.6 L133.3 750.9 L134.8 751.2 L136.2 751.5 L137.7 751.8 L139.2 752.1 L140.6 752.4 L142.1 752.7 L143.6 753.0 L145.0 753.3 L146.5 753.6 L148.0 753.9 L149.5 754.2 L150.9 754.5 L152.4 754.8 L153.9 755.1 L155.3 755.4 L156.8 755.6 L158.3 755.9 L159.8 756.2 L161.2 756.5 L162.7 756.8 L164.2 757.1 L165.6 757.3 L167.1 757.6 L168.6 757.8 L170.1 758.1 L171.6 758.3 L173.0 758.6 L174.5 758.8 L176.0 759.0 L177.5 759.3 L179.0 759.5 L180.4 759.8 L181.9 760.1 L183.4 760.5 L184.8 761.0 L186.2 761.5 L187.6 762.0 L189.0 762.6 L190.3 763.2 L191.7 763.7 L193.1 764.3 L194.5 764.9 L195.9 765.4 L197.3 766.0 L198.7 766.6 L200.1 767.1 L201.5 767.7 L202.8 768.3 L204.2 768.9 L205.6 769.5 L207.0 770.0 L208.4 770.6 L209.8 771.2 L211.1 771.8 L212.5 772.3 L213.9 772.9 L215.3 773.4 L216.7 774.0 L218.1 774.6 L219.5 775.1 L220.9 775.7 L222.3 776.2 L223.7 776.8 L225.1 777.4 L226.4 778.0 L227.8 778.6 L229.2 779.2 L230.5 779.8 L231.9 780.4 L233.3 781.0 L234.6 781.6 L236.0 782.3 L237.4 782.9 L238.8 783.5 L240.1 784.0 L241.5 784.6 L242.9 785.1 L244.3 785.7 L245.7 786.2 L247.1 786.8 L248.5 787.3 L249.9 787.9 L251.3 788.4 L252.7 789.0 L254.1 789.5 L255.5 790.1 L256.0 790.3" stroke="#4040d8"/>
<path d="M42.0 730.7 L42.8 731.9 L43.7 733.2 L44.5 734.5 L45.2 735.8 L45.9 737.1 L46.6 738.4 L47.2 739.8 L47.9 741.1 L48.6 742.5 L49.2 743.8 L49.9 745.2 L50.6 746.5 L51.3 747.8 L52.2 749.0 L53.1 750.1 L54.1 751.3 L55.2 752.3 L56.4 753.2 L57.7 753.9 L59.0 754.5 L60.4 755.2 L61.7 755.8 L63.1 756.5 L64.5 757.1 L65.8 757.7 L67.2 758.3 L68.6 758.9 L70.0 759.5 L71.3 760.1 L72.7 760.8 L74.0 761.4 L75.4 762.0 L76.8 762.6 L78.2 763.2 L79.6 763.7 L81.0 764.3 L82.3 764.8 L83.7 765.4 L85.1 765.9 L86.5 766.5 L87.9 767.0 L89.4 767.5 L90.8 767.9 L92.3 768.3 L93.7 768.6 L95.2 769.0 L96.6 769.2 L98.1 769.3 L99.6 769.4 L101.1 769.5 L102.6 769.6 L104.1 769.6 L105.6 769.7 L107.1 769.7 L108.6 769.7 L110.1 769.8 L111.6 769.8 L113.1 769.7 L114.6 769.6 L116.1 769.5 L117.6 769.3 L119.1 769.2 L120.6 769.1 L122.1 769.0 L123.6 768.8 L125.1 768.7 L126.6 768.6 L128.1 768.5 L129.6 768.4 L131.1 768.3 L132.6 768.2 L134.1 768.0 L135.5 767.9 L137.0 767.8 L138.5 767.7 L140.0 767.7 L141.5 767.7 L143.0 767.7 L144.5 767.7 L146.0 767.7 L147.5 767.7 L149.0 767.7 L150.5 767.7 L152.0 767.8 L153.5 767.9 L155.0 768.0 L156.5 768.1 L158.0 768.3 L159.5 768.4 L161.0 768.6 L162.5 768.7 L164.0 769.0 L165.4 769.4 L166.9 769.7 L168.3 770.1 L169.8 770.5 L171.2 771.0 L172.5 771.6 L173.9 772.3 L175.2 773.0 L176.5 773.7 L177.7 774.5 L178.8 775.5 L179.9 776.6 L181.0 777.6 L182.0 778.7 L183.2 779.7 L184.3 780.6 L185.6 781.2 L187.0 781.6 L188.5 781.8 L190.0 782.0 L191.5 782.2 L193.0 782.3 L194.5 782.3 L196.0 782.2 L197.5 782.1 L199.0 782.0 L200.5 781.9 L202.0 781.8 L203.5 781.7 L204.9 781.6 L206.4 781.4 L207.9 781.2 L209.4 781.0 L210.9 780.8 L212.4 780.5 L213.9 780.3 L215.3 780.1 L216.8 779.9 L218.3 779.7 L219.8 779.6 L221.3 779.5 L222.8 779.4 L224.3 779.3 L225.8 779.1 L227.3 779.0 L228.8 778.9 L230.3 778.8 L231.8 778.7 L233.3 778.7 L234.8 778.7 L236.3 778.8 L237.8 778.8 L239.3 778.8 L240.8 778.8 L242.3 778.9 L243.8 778.9 L245.3 779.0 L246.8 779.1 L248.2 779.3 L249.7 779.5 L251.2 779.7 L252.7 779.9 L254.2 780.1 L255.7 780.3" stroke="#222222"/>
</g>
<path d="M95.64 809.99 v-3.50 M95.64 641.49 v3.50 M148.78 809.99 v-3.50 M148.78 641.49 v3.50 M201.91 809.99 v-3.50 M201.91 641.49 v3.50 M42.50 785.92 h3.50 M255.05 785.92 h-3.50 M42.50 761.85 h3.50 M255.05 761.85 h-3.50 M42.50 737.78 h3.50 M255.05 737.78 h-3.50 M42.50 713.70 h3.50 M255.05 713.70 h-3.50 M42.50 689.63 h3.50 M255.05 689.63 h-3.50 M42.50 665.56 h3.50 M255.05 665.56 h-3.50" stroke="#333" stroke-width="0.8" fill="none"/>
<path d="M58.50 809.99 v-1.80 M58.50 641.49 v1.80 M67.85 809.99 v-1.80 M67.85 641.49 v1.80 M74.49 809.99 v-1.80 M74.49 641.49 v1.80 M79.64 809.99 v-1.80 M79.64 641.49 v1.80 M83.85 809.99 v-1.80 M83.85 641.49 v1.80 M87.41 809.99 v-1.80 M87.41 641.49 v1.80 M90.49 809.99 v-1.80 M90.49 641.49 v1.80 M93.21 809.99 v-1.80 M93.21 641.49 v1.80 M111.63 809.99 v-1.80 M111.63 641.49 v1.80 M120.99 809.99 v-1.80 M120.99 641.49 v1.80 M127.63 809.99 v-1.80 M127.63 641.49 v1.80 M132.78 809.99 v-1.80 M132.78 641.49 v1.80 M136.99 809.99 v-1.80 M136.99 641.49 v1.80 M140.54 809.99 v-1.80 M140.54 641.49 v1.80 M143.63 809.99 v-1.80 M143.63 641.49 v1.80 M146.34 809.99 v-1.80 M146.34 641.49 v1.80 M164.77 809.99 v-1.80 M164.77 641.49 v1.80 M174.13 809.99 v-1.80 M174.13 641.49 v1.80 M180.77 809.99 v-1.80 M180.77 641.49 v1.80 M185.92 809.99 v-1.80 M185.92 641.49 v1.80 M190.12 809.99 v-1.80 M190.12 641.49 v1.80 M193.68 809.99 v-1.80 M193.68 641.49 v1.80 M196.76 809.99 v-1.80 M196.76 641.49 v1.80 M199.48 809.99 v-1.80 M199.48 641.49 v1.80 M217.91 809.99 v-1.80 M217.91 641.49 v1.80 M227.27 809.99 v-1.80 M227.27 641.49 v1.80 M233.90 809.99 v-1.80 M233.90 641.49 v1.80 M239.05 809.99 v-1.80 M239.05 641.49 v1.80 M243.26 809.99 v-1.80 M243.26 641.49 v1.80 M246.82 809.99 v-1.80 M246.82 641.49 v1.80 M249.90 809.99 v-1.80 M249.90 641.49 v1.80 M252.62 809.99 v-1.80 M252.62 641.49 v1.80 M42.50 802.74 h1.80 M255.05 802.74 h-1.80 M42.50 798.51 h1.80 M255.05 798.51 h-1.80 M42.50 795.50 h1.80 M255.05 795.50 h-1.80 M42.50 793.16 h1.80 M255.05 793.16 h-1.80 M42.50 791.26 h1.80 M255.05 791.26 h-1.80 M42.50 789.65 h1.80 M255.05 789.65 h-1.80 M42.50 788.25 h1.80 M255.05 788.25 h-1.80 M42.50 787.02 h1.80 M255.05 787.02 h-1.80 M42.50 778.67 h1.80 M255.05 778.67 h-1.80 M42.50 774.43 h1.80 M255.05 774.43 h-1.80 M42.50 771.43 h1.80 M255.05 771.43 h-1.80 M42.50 769.09 h1.80 M255.05 769.09 h-1.80 M42.50 767.19 h1.80 M255.05 767.19 h-1.80 M42.50 765.58 h1.80 M255.05 765.58 h-1.80 M42.50 764.18 h1.80 M255.05 764.18 h-1.80 M42.50 762.95 h1.80 M255.05 762.95 h-1.80 M42.50 754.60 h1.80 M255.05 754.60 h-1.80 M42.50 750.36 h1.80 M255.05 750.36 h-1.80 M42.50 747.35 h1.80 M255.05 747.35 h-1.80 M42.50 745.02 h1.80 M255.05 745.02 h-1.80 M42.50 743.12 h1.80 M255.05 743.12 h-1.80 M42.50 741.50 h1.80 M255.05 741.50 h-1.80 M42.50 740.11 h1.80 M255.05 740.11 h-1.80 M42.50 738.88 h1.80 M255.05 738.88 h-1.80 M42.50 730.53 h1.80 M255.05 730.53 h-1.80 M42.50 726.29 h1.80 M255.05 726.29 h-1.80 M42.50 723.28 h1.80 M255.05 723.28 h-1.80 M42.50 720.95 h1.80 M255.05 720.95 h-1.80 M42.50 719.04 h1.80 M255.05 719.04 h-1.80 M42.50 717.43 h1.80 M255.05 717.43 h-1.80 M42.50 716.04 h1.80 M255.05 716.04 h-1.80 M42.50 714.81 h1.80 M255.05 714.81 h-1.80 M42.50 706.46 h1.80 M255.05 706.46 h-1.80 M42.50 702.22 h1.80 M255.05 702.22 h-1.80 M42.50 699.21 h1.80 M255.05 699.21 h-1.80 M42.50 696.88 h1.80 M255.05 696.88 h-1.80 M42.50 694.97 h1.80 M255.05 694.97 h-1.80 M42.50 693.36 h1.80 M255.05 693.36 h-1.80 M42.50 691.97 h1.80 M255.05 691.97 h-1.80 M42.50 690.73 h1.80 M255.05 690.73 h-1.80 M42.50 682.39 h1.80 M255.05 682.39 h-1.80 M42.50 678.15 h1.80 M255.05 678.15 h-1.80 M42.50 675.14 h1.80 M255.05 675.14 h-1.80 M42.50 672.81 h1.80 M255.05 672.81 h-1.80 M42.50 670.90 h1.80 M255.05 670.90 h-1.80 M42.50 669.29 h1.80 M255.05 669.29 h-1.80 M42.50 667.89 h1.80 M255.05 667.89 h-1.80 M42.50 666.66 h1.80 M255.05 666.66 h-1.80 M42.50 658.32 h1.80 M255.05 658.32 h-1.80 M42.50 654.08 h1.80 M255.05 654.08 h-1.80 M42.50 651.07 h1.80 M255.05 651.07 h-1.80 M42.50 648.74 h1.80 M255.05 648.74 h-1.80 M42.50 646.83 h1.80 M255.05 646.83 h-1.80 M42.50 645.22 h1.80 M255.05 645.22 h-1.80 M42.50 643.82 h1.80 M255.05 643.82 h-1.80 M42.50 642.59 h1.80 M255.05 642.59 h-1.80" stroke="#555" stroke-width="0.6" fill="none"/>
<rect x="42.50" y="641.49" width="212.55" height="168.50" fill="none" stroke="#333" stroke-width="1.15"/>
<text x="38.90" y="644.19" font-size="8.9" font-family="DejaVu Serif, Liberation Serif, serif" text-anchor="end" fill="#1a1a1a" stroke="#1a1a1a" stroke-width="0.2">10<tspan font-size="6.1" dx="0.6" dy="-4.5" stroke-width="0.12">-3</tspan></text>
<text x="38.90" y="668.26" font-size="8.9" font-family="DejaVu Serif, Liberation Serif, serif" text-anchor="end" fill="#1a1a1a" stroke="#1a1a1a" stroke-width="0.2">10<tspan font-size="6.1" dx="0.6" dy="-4.5" stroke-width="0.12">-4</tspan></text>
<text x="38.90" y="692.33" font-size="8.9" font-family="DejaVu Serif, Liberation Serif, serif" text-anchor="end" fill="#1a1a1a" stroke="#1a1a1a" stroke-width="0.2">10<tspan font-size="6.1" dx="0.6" dy="-4.5" stroke-width="0.12">-5</tspan></text>
<text x="38.90" y="716.40" font-size="8.9" font-family="DejaVu Serif, Liberation Serif, serif" text-anchor="end" fill="#1a1a1a" stroke="#1a1a1a" stroke-width="0.2">10<tspan font-size="6.1" dx="0.6" dy="-4.5" stroke-width="0.12">-6</tspan></text>
<text x="38.90" y="740.48" font-size="8.9" font-family="DejaVu Serif, Liberation Serif, serif" text-anchor="end" fill="#1a1a1a" stroke="#1a1a1a" stroke-width="0.2">10<tspan font-size="6.1" dx="0.6" dy="-4.5" stroke-width="0.12">-7</tspan></text>
<text x="38.90" y="764.55" font-size="8.9" font-family="DejaVu Serif, Liberation Serif, serif" text-anchor="end" fill="#1a1a1a" stroke="#1a1a1a" stroke-width="0.2">10<tspan font-size="6.1" dx="0.6" dy="-4.5" stroke-width="0.12">-8</tspan></text>
<text x="38.90" y="788.62" font-size="8.9" font-family="DejaVu Serif, Liberation Serif, serif" text-anchor="end" fill="#1a1a1a" stroke="#1a1a1a" stroke-width="0.2">10<tspan font-size="6.1" dx="0.6" dy="-4.5" stroke-width="0.12">-9</tspan></text>
<text x="38.90" y="812.69" font-size="8.9" font-family="DejaVu Serif, Liberation Serif, serif" text-anchor="end" fill="#1a1a1a" stroke="#1a1a1a" stroke-width="0.2">10<tspan font-size="6.1" dx="0.6" dy="-4.5" stroke-width="0.12">-10</tspan></text>
<text x="42.80" y="821.89" font-size="8.9" font-family="DejaVu Serif, Liberation Serif, serif" text-anchor="middle" fill="#1a1a1a" stroke="#1a1a1a" stroke-width="0.2">10<tspan font-size="6.1" dx="-0.2" dy="-4.4" stroke-width="0.12">1</tspan></text>
<text x="95.94" y="821.89" font-size="8.9" font-family="DejaVu Serif, Liberation Serif, serif" text-anchor="middle" fill="#1a1a1a" stroke="#1a1a1a" stroke-width="0.2">10<tspan font-size="6.1" dx="-0.2" dy="-4.4" stroke-width="0.12">2</tspan></text>
<text x="149.08" y="821.89" font-size="8.9" font-family="DejaVu Serif, Liberation Serif, serif" text-anchor="middle" fill="#1a1a1a" stroke="#1a1a1a" stroke-width="0.2">10<tspan font-size="6.1" dx="-0.2" dy="-4.4" stroke-width="0.12">3</tspan></text>
<text x="202.21" y="821.89" font-size="8.9" font-family="DejaVu Serif, Liberation Serif, serif" text-anchor="middle" fill="#1a1a1a" stroke="#1a1a1a" stroke-width="0.2">10<tspan font-size="6.1" dx="-0.2" dy="-4.4" stroke-width="0.12">4</tspan></text>
<text x="255.35" y="821.89" font-size="8.9" font-family="DejaVu Serif, Liberation Serif, serif" text-anchor="middle" fill="#1a1a1a" stroke="#1a1a1a" stroke-width="0.2">10<tspan font-size="6.1" dx="-0.2" dy="-4.4" stroke-width="0.12">5</tspan></text>
<text x="148.78" y="637.09" font-size="10" text-anchor="middle" fill="#1a1a1a" stroke="#1a1a1a" stroke-width="0.2">(g)</text>
<text transform="translate(9.2 725.74) rotate(-90)" font-size="10" text-anchor="middle" fill="#1a1a1a" stroke="#1a1a1a" stroke-width="0.2">n<tspan font-size="7" font-style="italic" dy="2.2">X</tspan><tspan dy="-2.2"> /n</tspan><tspan font-size="7" font-style="italic" dy="2.2">H</tspan></text>
<text x="142.38" y="835.10" font-size="10" fill="#1a1a1a" stroke="#1a1a1a" stroke-width="0.2">n<tspan font-size="7" font-style="italic" dy="2.2">H</tspan></text>
<text x="136.70" y="695.00" font-size="9.4" fill="#5cbf8c" stroke="#5cbf8c" stroke-width="0.3">C<tspan font-size="7.05" font-weight="200" stroke="none" fill-opacity="0.85" dx="0.5" dy="-3.6">+</tspan></text>
<text x="114.10" y="729.60" font-size="9.4" fill="#3fa9f5" stroke="#3fa9f5" stroke-width="0.3">He<tspan font-size="7.05" font-weight="200" stroke="none" fill-opacity="0.85" dx="0.5" dy="-3.6">+</tspan></text>
<text x="82.10" y="739.30" font-size="9.4" fill="#4040d8" stroke="#4040d8" stroke-width="0.3">H<tspan font-size="5.64" stroke-width="0.15" dx="0.1" dy="2.4">3</tspan><tspan font-size="7.05" font-weight="200" stroke="none" fill-opacity="0.85" dx="0.7" dy="-6.0">+</tspan></text>
<text x="60.10" y="771.30" font-size="9.4" fill="#222222" stroke="#222222" stroke-width="0.3">S<tspan font-size="7.05" font-weight="200" stroke="none" fill-opacity="0.85" dx="0.5" dy="-3.6">+</tspan></text>
<text x="94.70" y="788.30" font-size="9.4" fill="#f56a35" stroke="#f56a35" stroke-width="0.3">O<tspan font-size="5.64" stroke-width="0.15" dx="0.1" dy="2.4">2</tspan></text>
<text x="172.40" y="664.30" font-size="9.4" fill="#3a3a3a" stroke="#3a3a3a" stroke-width="0.3">O</text>
<text x="182.40" y="689.60" font-size="9.4" fill="#fbb03b" stroke="#fbb03b" stroke-width="0.3">C</text>
<text x="189.70" y="761.00" font-size="9.4" fill="#d63fae" stroke="#d63fae" stroke-width="0.3">H<tspan font-size="7.05" font-weight="200" stroke="none" fill-opacity="0.85" dx="0.5" dy="-3.6">+</tspan></text>
</g>
<g>
<clipPath id="ch"><rect x="302.20" y="641.49" width="213.10" height="168.50"/></clipPath>
<g clip-path="url(#ch)" fill="none" stroke-width="1.35" stroke-linejoin="round" stroke-linecap="butt">
<path d="M302.0 666.7 L303.5 666.7 L305.0 666.7 L306.5 666.7 L308.0 666.7 L309.5 666.7 L311.0 666.7 L312.5 666.7 L314.0 666.7 L315.5 666.7 L317.0 666.7 L318.5 666.7 L320.0 666.8 L321.5 666.8 L323.0 666.8 L324.5 666.8 L326.0 666.8 L327.5 666.8 L329.0 666.8 L330.5 666.8 L332.0 666.8 L333.5 666.8 L335.0 666.8 L336.5 666.8 L338.0 666.8 L339.5 666.8 L341.0 666.8 L342.5 666.8 L344.0 666.8 L345.5 666.8 L347.0 666.8 L348.5 666.8 L350.0 666.8 L351.5 666.8 L353.0 666.8 L354.5 666.8 L356.0 666.9 L357.5 666.9 L359.0 666.9 L360.5 666.9 L362.0 666.9 L363.5 666.9 L365.0 666.9 L366.5 666.9 L368.0 666.9 L369.5 666.9 L371.0 666.9 L372.5 666.9 L374.0 666.9 L375.5 667.0 L377.0 667.0 L378.5 667.0 L380.0 667.0 L381.5 667.0 L383.0 667.1 L384.5 667.1 L386.0 667.1 L387.5 667.1 L389.0 667.2 L390.5 667.2 L392.0 667.2 L393.5 667.2 L395.0 667.2 L396.5 667.3 L398.0 667.3 L399.5 667.3 L401.0 667.3 L402.5 667.4 L404.0 667.4 L405.5 667.4 L407.0 667.5 L408.5 667.5 L410.0 667.5 L411.5 667.6 L413.0 667.6 L414.5 667.6 L416.0 667.6 L417.5 667.7 L419.0 667.8 L420.5 667.9 L422.0 668.0 L423.5 668.2 L425.0 668.3 L426.5 668.4 L427.9 668.6 L429.4 668.8 L430.9 669.1 L432.4 669.4 L433.8 669.9 L435.1 670.5 L436.4 671.3 L437.6 672.1 L439.0 672.7 L440.3 673.2 L441.8 673.6 L443.3 673.8 L444.8 674.0 L446.2 674.3 L447.7 674.5 L449.2 674.7 L450.7 675.0 L452.2 675.2 L453.6 675.4 L455.1 675.7 L456.6 675.9 L458.1 676.2 L459.6 676.4 L461.0 676.7 L462.5 676.9 L464.0 677.2 L465.5 677.4 L467.0 677.7 L468.4 677.9 L469.9 678.1 L471.4 678.3 L472.9 678.5 L474.4 678.7 L475.9 678.9 L477.4 679.1 L478.8 679.3 L480.3 679.5 L481.8 679.7 L483.3 679.9 L484.8 680.0 L486.3 680.2 L487.8 680.4 L489.3 680.6 L490.8 680.8 L492.2 680.9 L493.7 681.1 L495.2 681.3 L496.7 681.4 L498.2 681.5 L499.7 681.7 L501.2 681.8 L502.7 681.9 L504.2 682.0 L505.7 682.2 L507.2 682.3 L508.7 682.4 L510.2 682.5 L511.7 682.6 L513.2 682.8 L514.7 682.9 L515.7 683.0" stroke="#3a3a3a"/>
<path d="M302.0 706.7 L303.5 706.7 L305.0 706.7 L306.5 706.7 L308.0 706.7 L309.5 706.7 L311.0 706.8 L312.5 706.8 L314.0 706.8 L315.5 706.8 L317.0 706.8 L318.5 706.8 L320.0 706.8 L321.5 706.8 L323.0 706.8 L324.5 706.8 L326.0 706.8 L327.5 706.8 L329.0 706.9 L330.5 706.9 L332.0 706.9 L333.5 706.9 L335.0 706.9 L336.5 706.9 L338.0 706.9 L339.5 706.9 L341.0 706.9 L342.5 706.9 L344.0 706.9 L345.5 706.9 L347.0 707.0 L348.5 707.0 L350.0 707.0 L351.5 707.0 L353.0 707.0 L354.5 707.0 L356.0 707.0 L357.5 707.0 L359.0 707.0 L360.5 707.0 L362.0 707.0 L363.5 707.1 L365.0 707.1 L366.5 707.1 L368.0 707.1 L369.5 707.1 L371.0 707.1 L372.5 707.1 L374.0 707.1 L375.5 707.1 L377.0 707.1 L378.5 707.1 L380.0 707.2 L381.5 707.2 L383.0 707.2 L384.5 707.2 L386.0 707.2 L387.5 707.2 L389.0 707.2 L390.5 707.2 L392.0 707.2 L393.5 707.3 L395.0 707.3 L396.5 707.3 L398.0 707.3 L399.5 707.3 L401.0 707.4 L402.5 707.4 L404.0 707.5 L405.5 707.5 L407.0 707.6 L408.5 707.6 L410.0 707.7 L411.5 707.7 L413.0 707.8 L414.5 707.9 L416.0 707.9 L417.5 708.0 L419.0 708.1 L420.5 708.2 L422.0 708.4 L423.5 708.6 L424.9 708.8 L426.4 709.0 L427.9 709.2 L429.3 709.5 L430.7 710.0 L432.1 710.7 L433.4 711.4 L434.6 712.3 L435.5 713.4 L436.4 714.6 L437.2 715.8 L438.0 717.1 L438.9 718.3 L439.7 719.5 L440.6 720.7 L441.6 721.9 L442.7 722.9 L443.9 723.7 L445.3 724.4 L446.6 725.0 L447.9 725.7 L449.3 726.3 L450.6 727.0 L452.0 727.7 L453.3 728.3 L454.7 729.0 L456.0 729.6 L457.4 730.2 L458.8 730.9 L460.1 731.5 L461.5 732.1 L462.9 732.7 L464.2 733.3 L465.6 733.9 L467.0 734.5 L468.4 735.1 L469.7 735.8 L471.1 736.4 L472.5 737.0 L473.8 737.6 L475.2 738.2 L476.6 738.8 L477.9 739.5 L479.3 740.1 L480.7 740.7 L482.0 741.3 L483.4 742.0 L484.7 742.7 L486.0 743.3 L487.4 744.0 L488.7 744.7 L490.1 745.4 L491.4 746.0 L492.7 746.7 L494.1 747.4 L495.4 748.1 L496.7 748.8 L498.0 749.5 L499.4 750.3 L500.7 751.0 L502.0 751.7 L503.3 752.4 L504.6 753.2 L505.9 753.9 L507.2 754.6 L508.5 755.4 L509.8 756.1 L511.2 756.8 L512.5 757.5 L513.8 758.3 L515.1 759.0 L516.0 759.5" stroke="#222222"/>
<path d="M302.0 681.3 L303.5 681.2 L305.0 681.0 L306.5 680.9 L308.0 680.7 L309.5 680.6 L311.0 680.4 L312.5 680.3 L313.9 680.1 L315.4 680.0 L316.9 679.9 L318.4 679.8 L319.9 679.8 L321.4 679.7 L322.9 679.6 L324.4 679.5 L325.9 679.4 L327.4 679.4 L328.9 679.3 L330.4 679.2 L331.9 679.2 L333.4 679.2 L334.9 679.1 L336.4 679.1 L337.9 679.0 L339.4 679.0 L340.9 678.9 L342.4 678.9 L343.9 678.9 L345.4 678.8 L346.9 678.8 L348.4 678.8 L349.9 678.8 L351.4 678.8 L352.9 678.7 L354.4 678.7 L355.9 678.7 L357.4 678.6 L358.9 678.6 L360.4 678.6 L361.9 678.5 L363.4 678.5 L364.9 678.5 L366.4 678.4 L367.9 678.4 L369.4 678.4 L370.9 678.3 L372.4 678.3 L373.9 678.2 L375.4 678.2 L376.9 678.2 L378.4 678.1 L379.9 678.1 L381.4 678.1 L382.9 678.0 L384.4 678.0 L385.9 677.9 L387.4 677.9 L388.9 677.9 L390.4 677.8 L391.9 677.8 L393.4 677.7 L394.9 677.7 L396.4 677.7 L397.9 677.6 L399.4 677.6 L400.9 677.6 L402.4 677.7 L403.9 677.7 L405.4 677.7 L406.9 677.8 L408.4 677.8 L409.9 677.8 L411.4 677.9 L412.9 677.9 L414.4 677.9 L415.9 677.9 L417.4 678.0 L418.9 678.1 L420.4 678.4 L421.8 678.7 L423.3 679.0 L424.8 679.3 L426.2 679.6 L427.6 680.1 L429.0 680.7 L430.3 681.4 L431.5 682.2 L432.7 683.1 L433.6 684.2 L434.3 685.5 L434.9 686.9 L435.5 688.3 L436.0 689.7 L436.3 691.1 L436.5 692.6 L436.8 694.1 L437.0 695.6 L437.3 697.0 L437.7 698.5 L438.1 699.9 L438.6 701.3 L439.1 702.7 L439.8 704.1 L440.6 705.3 L441.4 706.6 L442.3 707.8 L443.3 708.9 L444.3 710.0 L445.3 711.1 L446.3 712.2 L447.4 713.3 L448.5 714.3 L449.7 715.2 L450.8 716.2 L452.0 717.2 L453.1 718.1 L454.2 719.1 L455.4 720.1 L456.5 721.1 L457.7 722.1 L458.8 723.0 L460.0 723.9 L461.2 724.7 L462.5 725.5 L463.8 726.4 L465.0 727.2 L466.3 728.0 L467.6 728.8 L468.8 729.6 L470.1 730.3 L471.4 731.1 L472.7 731.9 L474.0 732.6 L475.3 733.4 L476.6 734.1 L477.9 734.9 L479.2 735.6 L480.5 736.4 L481.8 737.2 L483.0 738.0 L484.3 738.8 L485.5 739.6 L486.8 740.4 L488.1 741.3 L489.3 742.1 L490.6 742.9 L491.8 743.7 L493.1 744.5 L494.3 745.4 L495.6 746.2 L496.9 747.0 L498.1 747.8 L499.4 748.6 L500.7 749.4 L501.9 750.2 L503.2 751.0 L504.5 751.8 L505.8 752.6 L507.0 753.4 L508.3 754.2 L509.6 755.0 L510.8 755.8 L512.1 756.6 L513.4 757.4 L514.6 758.1 L515.9 758.9" stroke="#fbb03b"/>
<path d="M302.0 685.1 L303.5 685.2 L305.0 685.4 L306.5 685.5 L308.0 685.7 L309.5 685.8 L311.0 686.0 L312.5 686.1 L313.9 686.3 L315.4 686.4 L316.9 686.6 L318.4 686.7 L319.9 686.8 L321.4 687.0 L322.9 687.1 L324.4 687.3 L325.9 687.4 L327.4 687.6 L328.9 687.7 L330.4 687.9 L331.9 688.1 L333.3 688.3 L334.8 688.4 L336.3 688.6 L337.8 688.8 L339.3 689.0 L340.8 689.2 L342.3 689.3 L343.8 689.5 L345.3 689.6 L346.8 689.8 L348.2 690.0 L349.7 690.1 L351.2 690.3 L352.7 690.4 L354.2 690.6 L355.7 690.8 L357.2 690.9 L358.7 691.1 L360.2 691.3 L361.7 691.5 L363.1 691.6 L364.6 691.8 L366.1 692.0 L367.6 692.2 L369.1 692.4 L370.6 692.5 L372.1 692.8 L373.5 693.1 L375.0 693.4 L376.5 693.8 L377.9 694.2 L379.4 694.5 L380.8 694.9 L382.3 695.2 L383.7 695.6 L385.2 696.0 L386.6 696.4 L388.1 696.8 L389.5 697.3 L390.9 697.7 L392.4 698.1 L393.8 698.5 L395.2 699.0 L396.7 699.4 L398.1 699.8 L399.5 700.3 L401.0 700.8 L402.4 701.3 L403.8 701.8 L405.2 702.3 L406.6 702.8 L408.0 703.3 L409.4 703.8 L410.9 704.3 L412.3 704.8 L413.6 705.4 L415.0 706.0 L416.4 706.6 L417.8 707.2 L419.2 707.8 L420.5 708.4 L421.9 709.0 L423.2 709.7 L424.5 710.4 L425.8 711.2 L427.1 712.0 L428.4 712.8 L429.5 713.7 L430.7 714.7 L431.7 715.7 L432.7 716.8 L433.6 718.0 L434.4 719.3 L435.1 720.6 L435.8 721.9 L436.5 723.3 L437.2 724.6 L438.0 725.9 L438.8 727.1 L439.8 728.2 L440.9 729.2 L442.1 730.1 L443.4 730.8 L444.7 731.5 L446.1 732.2 L447.4 732.8 L448.7 733.5 L450.1 734.2 L451.4 734.8 L452.8 735.5 L454.1 736.1 L455.5 736.7 L456.9 737.3 L458.3 737.9 L459.7 738.4 L461.1 739.0 L462.5 739.5 L463.9 740.1 L465.3 740.6 L466.7 741.2 L468.1 741.7 L469.5 742.3 L470.9 742.8 L472.3 743.3 L473.7 743.8 L475.1 744.3 L476.5 744.8 L477.9 745.3 L479.4 745.8 L480.8 746.3 L482.2 746.8 L483.6 747.3 L485.0 747.7 L486.4 748.2 L487.9 748.7 L489.3 749.2 L490.7 749.7 L492.1 750.2 L493.5 750.7 L494.9 751.2 L496.4 751.6 L497.8 752.1 L499.2 752.5 L500.7 753.0 L502.1 753.4 L503.5 753.9 L505.0 754.3 L506.4 754.8 L507.8 755.2 L509.2 755.7 L510.7 756.1 L512.1 756.6 L513.5 757.0 L515.0 757.5 L515.9 757.8" stroke="#5cbf8c"/>
<path d="M302.0 661.1 L303.4 661.5 L304.9 662.0 L306.3 662.4 L307.7 662.8 L309.2 663.3 L310.6 663.7 L312.1 664.1 L313.5 664.6 L314.9 665.0 L316.3 665.5 L317.7 666.1 L319.1 666.6 L320.5 667.2 L321.9 667.7 L323.3 668.3 L324.7 668.8 L326.1 669.4 L327.5 669.9 L328.9 670.5 L330.3 671.1 L331.6 671.7 L333.0 672.3 L334.4 672.9 L335.7 673.5 L337.1 674.1 L338.5 674.7 L339.9 675.3 L341.2 676.0 L342.6 676.6 L343.9 677.3 L345.2 678.0 L346.6 678.7 L347.9 679.4 L349.2 680.1 L350.5 680.8 L351.9 681.5 L353.2 682.2 L354.5 682.9 L355.9 683.6 L357.2 684.3 L358.5 685.0 L359.8 685.7 L361.1 686.4 L362.4 687.2 L363.6 688.1 L364.9 688.9 L366.2 689.7 L367.4 690.5 L368.7 691.3 L369.9 692.2 L371.2 693.0 L372.4 693.9 L373.6 694.7 L374.8 695.6 L376.0 696.5 L377.2 697.4 L378.4 698.3 L379.6 699.2 L380.8 700.1 L382.0 701.0 L383.2 702.0 L384.3 702.9 L385.5 703.9 L386.7 704.8 L387.8 705.8 L388.9 706.8 L390.1 707.8 L391.2 708.7 L392.3 709.7 L393.4 710.7 L394.6 711.7 L395.7 712.7 L396.8 713.7 L397.9 714.7 L399.0 715.7 L400.2 716.7 L401.3 717.7 L402.5 718.6 L403.7 719.5 L404.9 720.5 L406.0 721.4 L407.2 722.3 L408.4 723.3 L409.5 724.2 L410.7 725.2 L411.8 726.1 L412.9 727.2 L414.0 728.2 L415.1 729.2 L416.3 730.2 L417.4 731.2 L418.5 732.2 L419.7 733.1 L420.8 734.1 L422.0 735.0 L423.1 736.0 L424.3 736.9 L425.5 737.9 L426.6 738.9 L427.7 739.9 L428.7 741.0 L429.6 742.2 L430.4 743.4 L431.3 744.7 L432.1 745.9 L433.0 747.1 L433.7 748.5 L434.3 749.8 L434.8 751.2 L435.4 752.6 L436.0 754.0 L436.5 755.4 L436.9 756.8 L437.4 758.2 L438.0 759.6 L438.6 761.0 L439.4 762.3 L440.2 763.5 L441.0 764.8 L441.8 766.0 L442.8 767.1 L444.0 768.1 L445.1 769.0 L446.3 770.0 L447.5 770.9 L448.6 771.9 L449.8 772.8 L450.9 773.8 L452.1 774.7 L453.3 775.7 L454.5 776.6 L455.7 777.4 L457.0 778.2 L458.3 778.9 L459.6 779.7 L460.9 780.4 L462.2 781.1 L463.5 781.8 L464.8 782.6 L466.1 783.3 L467.5 784.0 L468.8 784.7 L470.1 785.5 L471.4 786.2 L472.7 786.9 L474.0 787.6 L475.4 788.4 L476.7 789.1 L478.0 789.8 L479.3 790.5 L480.6 791.2 L481.9 792.0 L483.2 792.7 L484.6 793.4 L485.9 794.1 L487.2 794.8 L488.5 795.6 L489.8 796.3 L491.1 797.0 L492.4 797.7 L493.8 798.5 L495.1 799.2 L496.4 799.9 L497.7 800.6 L499.1 801.3 L500.4 802.0 L501.7 802.6 L503.1 803.3 L504.4 804.0 L505.7 804.7 L507.0 805.4 L508.4 806.1 L509.7 806.8 L511.0 807.5 L512.4 808.2 L513.7 808.9" stroke="#d63fae"/>
<path d="M302.0 676.7 L303.4 677.2 L304.8 677.7 L306.3 678.2 L307.7 678.7 L309.1 679.2 L310.5 679.6 L311.9 680.1 L313.3 680.6 L314.8 681.1 L316.2 681.7 L317.6 682.2 L318.9 682.8 L320.3 683.3 L321.7 683.9 L323.1 684.4 L324.5 685.0 L325.9 685.6 L327.3 686.1 L328.7 686.7 L330.1 687.3 L331.4 687.9 L332.8 688.5 L334.2 689.1 L335.6 689.7 L336.9 690.3 L338.3 690.9 L339.7 691.5 L341.1 692.1 L342.4 692.7 L343.8 693.3 L345.2 693.8 L346.6 694.4 L348.0 695.0 L349.4 695.5 L350.8 696.1 L352.1 696.7 L353.5 697.3 L354.9 697.8 L356.3 698.4 L357.7 699.0 L359.1 699.6 L360.4 700.2 L361.8 700.8 L363.2 701.3 L364.6 701.9 L366.0 702.5 L367.3 703.1 L368.7 703.7 L370.1 704.3 L371.5 704.9 L372.8 705.6 L374.1 706.3 L375.4 707.1 L376.7 707.8 L378.0 708.5 L379.3 709.2 L380.7 710.0 L382.0 710.7 L383.3 711.4 L384.6 712.1 L385.9 712.8 L387.2 713.6 L388.5 714.3 L389.8 715.0 L391.1 715.8 L392.4 716.6 L393.7 717.3 L395.0 718.1 L396.3 718.9 L397.6 719.7 L398.9 720.4 L400.1 721.2 L401.3 722.1 L402.6 723.0 L403.8 723.9 L405.0 724.8 L406.2 725.7 L407.4 726.5 L408.6 727.4 L409.8 728.3 L411.0 729.2 L412.1 730.2 L413.2 731.2 L414.3 732.2 L415.4 733.3 L416.5 734.3 L417.6 735.3 L418.7 736.3 L419.8 737.3 L420.9 738.4 L422.0 739.4 L423.1 740.5 L424.1 741.6 L425.1 742.7 L426.1 743.8 L427.1 744.9 L428.1 746.0 L429.1 747.1 L430.1 748.3 L431.0 749.4 L432.0 750.6 L432.9 751.8 L433.8 753.0 L434.7 754.2 L435.6 755.4 L436.4 756.6 L437.3 757.8 L438.3 758.9 L439.4 759.9 L440.5 760.9 L441.7 761.9 L442.9 762.7 L444.3 763.4 L445.6 764.0 L447.0 764.7 L448.3 765.3 L449.7 766.0 L451.0 766.6 L452.4 767.3 L453.7 767.9 L455.1 768.6 L456.5 769.1 L457.9 769.7 L459.2 770.3 L460.6 770.8 L462.0 771.4 L463.4 771.9 L464.8 772.5 L466.2 773.0 L467.6 773.6 L469.0 774.2 L470.4 774.8 L471.7 775.4 L473.1 776.0 L474.5 776.6 L475.8 777.2 L477.2 777.8 L478.6 778.5 L479.9 779.1 L481.3 779.7 L482.7 780.3 L484.0 781.0 L485.3 781.7 L486.7 782.4 L488.0 783.0 L489.4 783.7 L490.7 784.4 L492.0 785.1 L493.4 785.7 L494.7 786.4 L496.1 787.0 L497.5 787.6 L498.8 788.2 L500.2 788.8 L501.6 789.4 L503.0 790.0 L504.4 790.6 L505.7 791.1 L507.1 791.7 L508.5 792.3 L509.9 792.9 L511.3 793.5 L512.6 794.1 L514.0 794.7 L515.4 795.2 L515.9 795.4" stroke="#3fa9f5"/>
<path d="M315.3 809.3 L316.4 808.2 L317.4 807.2 L318.5 806.1 L319.6 805.1 L320.6 804.0 L321.7 803.0 L322.8 801.9 L323.8 800.8 L324.9 799.8 L325.9 798.7 L327.0 797.7 L328.1 796.6 L329.2 795.6 L330.2 794.5 L331.3 793.5 L332.4 792.4 L333.5 791.4 L334.6 790.4 L335.6 789.3 L336.7 788.3 L337.8 787.2 L338.9 786.2 L340.0 785.2 L341.0 784.1 L342.1 783.1 L343.2 782.1 L344.3 781.0 L345.4 780.0 L346.5 778.9 L347.5 777.9 L348.6 776.9 L349.7 775.8 L350.8 774.8 L351.9 773.7 L352.9 772.7 L354.0 771.7 L355.1 770.6 L356.2 769.6 L357.3 768.6 L358.4 767.6 L359.5 766.5 L360.6 765.5 L361.7 764.5 L362.8 763.5 L363.9 762.5 L365.0 761.4 L366.1 760.4 L367.2 759.4 L368.3 758.4 L369.4 757.4 L370.5 756.4 L371.7 755.4 L372.9 754.5 L374.1 753.6 L375.2 752.7 L376.4 751.8 L377.7 750.9 L378.9 750.1 L380.2 749.3 L381.5 748.5 L382.8 747.8 L384.1 747.0 L385.3 746.2 L386.6 745.4 L387.9 744.6 L389.2 743.8 L390.4 743.1 L391.7 742.3 L393.0 741.5 L394.3 740.8 L395.7 740.1 L397.0 739.5 L398.4 738.8 L399.7 738.1 L401.1 737.5 L402.4 736.9 L403.8 736.4 L405.2 735.8 L406.6 735.3 L408.0 734.7 L409.5 734.3 L410.9 733.8 L412.3 733.4 L413.8 732.9 L415.2 732.5 L416.6 732.1 L418.1 731.7 L419.5 731.4 L421.0 731.0 L422.5 730.7 L423.9 730.3 L425.3 729.9 L426.7 729.3 L428.1 728.6 L429.4 728.0 L430.7 727.3 L432.0 726.5 L433.1 725.5 L434.1 724.4 L434.8 723.2 L435.2 721.8 L435.5 720.3 L435.9 718.8 L436.2 717.4 L436.5 715.9 L436.7 714.4 L437.0 712.9 L437.2 711.5 L437.5 710.0 L437.8 708.5 L438.2 707.1 L438.5 705.6 L438.9 704.2 L439.5 702.8 L440.2 701.6 L441.2 700.4 L442.2 699.4 L443.3 698.4 L444.5 697.4 L445.7 696.5 L446.8 695.5 L448.0 694.6 L449.3 693.9 L450.6 693.2 L452.0 692.6 L453.4 692.1 L454.8 691.6 L456.2 691.2 L457.7 690.8 L459.2 690.5 L460.7 690.3 L462.1 690.0 L463.6 689.7 L465.1 689.4 L466.5 689.1 L468.0 688.8 L469.5 688.6 L471.0 688.4 L472.5 688.2 L474.0 688.0 L475.4 687.8 L476.9 687.6 L478.4 687.4 L479.9 687.2 L481.4 687.0 L482.9 686.8 L484.4 686.7 L485.9 686.6 L487.4 686.4 L488.9 686.3 L490.4 686.1 L491.8 686.0 L493.3 685.9 L494.8 685.8 L496.3 685.7 L497.8 685.6 L499.3 685.5 L500.8 685.4 L502.3 685.3 L503.8 685.2 L505.3 685.2 L506.8 685.1 L508.3 685.0 L509.8 684.9 L511.3 684.8 L512.8 684.8 L514.3 684.7 L515.8 684.6" stroke="#f56a35"/>
<path d="M302.0 749.1 L303.5 749.0 L305.0 748.9 L306.5 748.8 L308.0 748.7 L309.5 748.6 L311.0 748.6 L312.5 748.5 L314.0 748.4 L315.5 748.3 L317.0 748.2 L318.5 748.2 L320.0 748.1 L321.5 748.0 L323.0 748.0 L324.5 747.9 L326.0 747.8 L327.5 747.8 L329.0 747.7 L330.5 747.7 L332.0 747.7 L333.5 747.7 L335.0 747.7 L336.5 747.7 L338.0 747.7 L339.5 747.7 L341.0 747.7 L342.5 747.7 L344.0 747.7 L345.5 747.7 L347.0 747.7 L348.5 747.7 L350.0 747.6 L351.5 747.6 L353.0 747.6 L354.5 747.6 L356.0 747.6 L357.5 747.6 L359.0 747.6 L360.5 747.6 L362.0 747.6 L363.5 747.7 L365.0 747.7 L366.5 747.7 L368.0 747.7 L369.5 747.7 L371.0 747.7 L372.5 747.7 L374.0 747.8 L375.5 747.8 L377.0 747.9 L378.5 747.9 L380.0 747.9 L381.5 748.0 L383.0 748.0 L384.4 748.2 L385.9 748.4 L387.4 748.7 L388.9 748.9 L390.4 749.2 L391.8 749.4 L393.3 749.7 L394.8 750.0 L396.3 750.2 L397.7 750.5 L399.2 750.7 L400.7 751.0 L402.2 751.3 L403.7 751.5 L405.1 751.8 L406.6 752.0 L408.1 752.3 L409.6 752.6 L411.0 752.9 L412.5 753.1 L414.0 753.4 L415.5 753.7 L416.9 753.9 L418.4 754.2 L419.9 754.5 L421.4 754.8 L422.8 755.0 L424.3 755.3 L425.8 755.5 L427.3 755.7 L428.8 755.9 L430.3 756.0 L431.7 756.0 L433.2 755.7 L434.5 755.2 L435.8 754.4 L436.9 753.4 L438.1 752.6 L439.4 752.1 L440.9 751.8 L442.3 751.7 L443.8 751.9 L445.3 752.1 L446.8 752.4 L448.2 752.7 L449.7 752.9 L451.2 753.2 L452.7 753.5 L454.1 753.8 L455.6 754.1 L457.1 754.4 L458.5 754.8 L460.0 755.2 L461.4 755.5 L462.9 755.9 L464.3 756.2 L465.8 756.6 L467.3 757.0 L468.7 757.4 L470.1 757.8 L471.5 758.3 L473.0 758.8 L474.4 759.3 L475.8 759.8 L477.2 760.3 L478.6 760.8 L480.0 761.3 L481.4 761.8 L482.8 762.3 L484.2 762.9 L485.6 763.4 L487.0 764.0 L488.4 764.6 L489.8 765.1 L491.2 765.7 L492.6 766.2 L494.0 766.8 L495.4 767.3 L496.8 767.9 L498.2 768.4 L499.6 769.0 L501.0 769.5 L502.4 770.1 L503.8 770.6 L505.1 771.2 L506.5 771.8 L507.9 772.3 L509.3 772.9 L510.7 773.4 L512.1 774.0 L513.5 774.5 L514.9 775.1 L515.8 775.4" stroke="#4040d8"/>
</g>
<path d="M355.47 809.99 v-3.50 M355.47 641.49 v3.50 M408.75 809.99 v-3.50 M408.75 641.49 v3.50 M462.02 809.99 v-3.50 M462.02 641.49 v3.50 M302.20 785.92 h3.50 M515.30 785.92 h-3.50 M302.20 761.85 h3.50 M515.30 761.85 h-3.50 M302.20 737.78 h3.50 M515.30 737.78 h-3.50 M302.20 713.70 h3.50 M515.30 713.70 h-3.50 M302.20 689.63 h3.50 M515.30 689.63 h-3.50 M302.20 665.56 h3.50 M515.30 665.56 h-3.50" stroke="#333" stroke-width="0.8" fill="none"/>
<path d="M318.24 809.99 v-1.80 M318.24 641.49 v1.80 M327.62 809.99 v-1.80 M327.62 641.49 v1.80 M334.27 809.99 v-1.80 M334.27 641.49 v1.80 M339.44 809.99 v-1.80 M339.44 641.49 v1.80 M343.66 809.99 v-1.80 M343.66 641.49 v1.80 M347.22 809.99 v-1.80 M347.22 641.49 v1.80 M350.31 809.99 v-1.80 M350.31 641.49 v1.80 M353.04 809.99 v-1.80 M353.04 641.49 v1.80 M371.51 809.99 v-1.80 M371.51 641.49 v1.80 M380.89 809.99 v-1.80 M380.89 641.49 v1.80 M387.55 809.99 v-1.80 M387.55 641.49 v1.80 M392.71 809.99 v-1.80 M392.71 641.49 v1.80 M396.93 809.99 v-1.80 M396.93 641.49 v1.80 M400.50 809.99 v-1.80 M400.50 641.49 v1.80 M403.59 809.99 v-1.80 M403.59 641.49 v1.80 M406.31 809.99 v-1.80 M406.31 641.49 v1.80 M424.79 809.99 v-1.80 M424.79 641.49 v1.80 M434.17 809.99 v-1.80 M434.17 641.49 v1.80 M440.82 809.99 v-1.80 M440.82 641.49 v1.80 M445.99 809.99 v-1.80 M445.99 641.49 v1.80 M450.21 809.99 v-1.80 M450.21 641.49 v1.80 M453.77 809.99 v-1.80 M453.77 641.49 v1.80 M456.86 809.99 v-1.80 M456.86 641.49 v1.80 M459.59 809.99 v-1.80 M459.59 641.49 v1.80 M478.06 809.99 v-1.80 M478.06 641.49 v1.80 M487.44 809.99 v-1.80 M487.44 641.49 v1.80 M494.10 809.99 v-1.80 M494.10 641.49 v1.80 M499.26 809.99 v-1.80 M499.26 641.49 v1.80 M503.48 809.99 v-1.80 M503.48 641.49 v1.80 M507.05 809.99 v-1.80 M507.05 641.49 v1.80 M510.14 809.99 v-1.80 M510.14 641.49 v1.80 M512.86 809.99 v-1.80 M512.86 641.49 v1.80 M302.20 802.74 h1.80 M515.30 802.74 h-1.80 M302.20 798.51 h1.80 M515.30 798.51 h-1.80 M302.20 795.50 h1.80 M515.30 795.50 h-1.80 M302.20 793.16 h1.80 M515.30 793.16 h-1.80 M302.20 791.26 h1.80 M515.30 791.26 h-1.80 M302.20 789.65 h1.80 M515.30 789.65 h-1.80 M302.20 788.25 h1.80 M515.30 788.25 h-1.80 M302.20 787.02 h1.80 M515.30 787.02 h-1.80 M302.20 778.67 h1.80 M515.30 778.67 h-1.80 M302.20 774.43 h1.80 M515.30 774.43 h-1.80 M302.20 771.43 h1.80 M515.30 771.43 h-1.80 M302.20 769.09 h1.80 M515.30 769.09 h-1.80 M302.20 767.19 h1.80 M515.30 767.19 h-1.80 M302.20 765.58 h1.80 M515.30 765.58 h-1.80 M302.20 764.18 h1.80 M515.30 764.18 h-1.80 M302.20 762.95 h1.80 M515.30 762.95 h-1.80 M302.20 754.60 h1.80 M515.30 754.60 h-1.80 M302.20 750.36 h1.80 M515.30 750.36 h-1.80 M302.20 747.35 h1.80 M515.30 747.35 h-1.80 M302.20 745.02 h1.80 M515.30 745.02 h-1.80 M302.20 743.12 h1.80 M515.30 743.12 h-1.80 M302.20 741.50 h1.80 M515.30 741.50 h-1.80 M302.20 740.11 h1.80 M515.30 740.11 h-1.80 M302.20 738.88 h1.80 M515.30 738.88 h-1.80 M302.20 730.53 h1.80 M515.30 730.53 h-1.80 M302.20 726.29 h1.80 M515.30 726.29 h-1.80 M302.20 723.28 h1.80 M515.30 723.28 h-1.80 M302.20 720.95 h1.80 M515.30 720.95 h-1.80 M302.20 719.04 h1.80 M515.30 719.04 h-1.80 M302.20 717.43 h1.80 M515.30 717.43 h-1.80 M302.20 716.04 h1.80 M515.30 716.04 h-1.80 M302.20 714.81 h1.80 M515.30 714.81 h-1.80 M302.20 706.46 h1.80 M515.30 706.46 h-1.80 M302.20 702.22 h1.80 M515.30 702.22 h-1.80 M302.20 699.21 h1.80 M515.30 699.21 h-1.80 M302.20 696.88 h1.80 M515.30 696.88 h-1.80 M302.20 694.97 h1.80 M515.30 694.97 h-1.80 M302.20 693.36 h1.80 M515.30 693.36 h-1.80 M302.20 691.97 h1.80 M515.30 691.97 h-1.80 M302.20 690.73 h1.80 M515.30 690.73 h-1.80 M302.20 682.39 h1.80 M515.30 682.39 h-1.80 M302.20 678.15 h1.80 M515.30 678.15 h-1.80 M302.20 675.14 h1.80 M515.30 675.14 h-1.80 M302.20 672.81 h1.80 M515.30 672.81 h-1.80 M302.20 670.90 h1.80 M515.30 670.90 h-1.80 M302.20 669.29 h1.80 M515.30 669.29 h-1.80 M302.20 667.89 h1.80 M515.30 667.89 h-1.80 M302.20 666.66 h1.80 M515.30 666.66 h-1.80 M302.20 658.32 h1.80 M515.30 658.32 h-1.80 M302.20 654.08 h1.80 M515.30 654.08 h-1.80 M302.20 651.07 h1.80 M515.30 651.07 h-1.80 M302.20 648.74 h1.80 M515.30 648.74 h-1.80 M302.20 646.83 h1.80 M515.30 646.83 h-1.80 M302.20 645.22 h1.80 M515.30 645.22 h-1.80 M302.20 643.82 h1.80 M515.30 643.82 h-1.80 M302.20 642.59 h1.80 M515.30 642.59 h-1.80" stroke="#555" stroke-width="0.6" fill="none"/>
<rect x="302.20" y="641.49" width="213.10" height="168.50" fill="none" stroke="#333" stroke-width="1.15"/>
<text x="298.60" y="644.19" font-size="8.9" font-family="DejaVu Serif, Liberation Serif, serif" text-anchor="end" fill="#1a1a1a" stroke="#1a1a1a" stroke-width="0.2">10<tspan font-size="6.1" dx="0.6" dy="-4.5" stroke-width="0.12">-3</tspan></text>
<text x="298.60" y="668.26" font-size="8.9" font-family="DejaVu Serif, Liberation Serif, serif" text-anchor="end" fill="#1a1a1a" stroke="#1a1a1a" stroke-width="0.2">10<tspan font-size="6.1" dx="0.6" dy="-4.5" stroke-width="0.12">-4</tspan></text>
<text x="298.60" y="692.33" font-size="8.9" font-family="DejaVu Serif, Liberation Serif, serif" text-anchor="end" fill="#1a1a1a" stroke="#1a1a1a" stroke-width="0.2">10<tspan font-size="6.1" dx="0.6" dy="-4.5" stroke-width="0.12">-5</tspan></text>
<text x="298.60" y="716.40" font-size="8.9" font-family="DejaVu Serif, Liberation Serif, serif" text-anchor="end" fill="#1a1a1a" stroke="#1a1a1a" stroke-width="0.2">10<tspan font-size="6.1" dx="0.6" dy="-4.5" stroke-width="0.12">-6</tspan></text>
<text x="298.60" y="740.48" font-size="8.9" font-family="DejaVu Serif, Liberation Serif, serif" text-anchor="end" fill="#1a1a1a" stroke="#1a1a1a" stroke-width="0.2">10<tspan font-size="6.1" dx="0.6" dy="-4.5" stroke-width="0.12">-7</tspan></text>
<text x="298.60" y="764.55" font-size="8.9" font-family="DejaVu Serif, Liberation Serif, serif" text-anchor="end" fill="#1a1a1a" stroke="#1a1a1a" stroke-width="0.2">10<tspan font-size="6.1" dx="0.6" dy="-4.5" stroke-width="0.12">-8</tspan></text>
<text x="298.60" y="788.62" font-size="8.9" font-family="DejaVu Serif, Liberation Serif, serif" text-anchor="end" fill="#1a1a1a" stroke="#1a1a1a" stroke-width="0.2">10<tspan font-size="6.1" dx="0.6" dy="-4.5" stroke-width="0.12">-9</tspan></text>
<text x="298.60" y="812.69" font-size="8.9" font-family="DejaVu Serif, Liberation Serif, serif" text-anchor="end" fill="#1a1a1a" stroke="#1a1a1a" stroke-width="0.2">10<tspan font-size="6.1" dx="0.6" dy="-4.5" stroke-width="0.12">-10</tspan></text>
<text x="302.50" y="821.89" font-size="8.9" font-family="DejaVu Serif, Liberation Serif, serif" text-anchor="middle" fill="#1a1a1a" stroke="#1a1a1a" stroke-width="0.2">10<tspan font-size="6.1" dx="-0.2" dy="-4.4" stroke-width="0.12">1</tspan></text>
<text x="355.77" y="821.89" font-size="8.9" font-family="DejaVu Serif, Liberation Serif, serif" text-anchor="middle" fill="#1a1a1a" stroke="#1a1a1a" stroke-width="0.2">10<tspan font-size="6.1" dx="-0.2" dy="-4.4" stroke-width="0.12">2</tspan></text>
<text x="409.05" y="821.89" font-size="8.9" font-family="DejaVu Serif, Liberation Serif, serif" text-anchor="middle" fill="#1a1a1a" stroke="#1a1a1a" stroke-width="0.2">10<tspan font-size="6.1" dx="-0.2" dy="-4.4" stroke-width="0.12">3</tspan></text>
<text x="462.32" y="821.89" font-size="8.9" font-family="DejaVu Serif, Liberation Serif, serif" text-anchor="middle" fill="#1a1a1a" stroke="#1a1a1a" stroke-width="0.2">10<tspan font-size="6.1" dx="-0.2" dy="-4.4" stroke-width="0.12">4</tspan></text>
<text x="515.60" y="821.89" font-size="8.9" font-family="DejaVu Serif, Liberation Serif, serif" text-anchor="middle" fill="#1a1a1a" stroke="#1a1a1a" stroke-width="0.2">10<tspan font-size="6.1" dx="-0.2" dy="-4.4" stroke-width="0.12">5</tspan></text>
<text x="408.75" y="637.09" font-size="10" text-anchor="middle" fill="#1a1a1a" stroke="#1a1a1a" stroke-width="0.2">(h)</text>
<text x="402.35" y="835.10" font-size="10" fill="#1a1a1a" stroke="#1a1a1a" stroke-width="0.2">n<tspan font-size="7" font-style="italic" dy="2.2">H</tspan></text>
<text x="332.40" y="706.30" font-size="9.4" fill="#222222" stroke="#222222" stroke-width="0.3">S<tspan font-size="7.05" font-weight="200" stroke="none" fill-opacity="0.85" dx="0.5" dy="-3.6">+</tspan></text>
<text x="370.70" y="723.80" font-size="9.4" fill="#3fa9f5" stroke="#3fa9f5" stroke-width="0.3">He<tspan font-size="7.05" font-weight="200" stroke="none" fill-opacity="0.85" dx="0.5" dy="-3.6">+</tspan></text>
<text x="341.40" y="742.30" font-size="9.4" fill="#4040d8" stroke="#4040d8" stroke-width="0.3">H<tspan font-size="5.64" stroke-width="0.15" dx="0.1" dy="2.4">3</tspan><tspan font-size="7.05" font-weight="200" stroke="none" fill-opacity="0.85" dx="0.7" dy="-6.0">+</tspan></text>
<text x="354.40" y="788.30" font-size="9.4" fill="#f56a35" stroke="#f56a35" stroke-width="0.3">O<tspan font-size="5.64" stroke-width="0.15" dx="0.1" dy="2.4">2</tspan></text>
<text x="432.10" y="664.30" font-size="9.4" fill="#3a3a3a" stroke="#3a3a3a" stroke-width="0.3">O</text>
<text x="446.10" y="689.60" font-size="9.4" fill="#fbb03b" stroke="#fbb03b" stroke-width="0.3">C</text>
<text x="411.40" y="694.30" font-size="9.4" fill="#5cbf8c" stroke="#5cbf8c" stroke-width="0.3">C<tspan font-size="7.05" font-weight="200" stroke="none" fill-opacity="0.85" dx="0.5" dy="-3.6">+</tspan></text>
<text x="434.10" y="742.30" font-size="9.4" fill="#d63fae" stroke="#d63fae" stroke-width="0.3">H<tspan font-size="7.05" font-weight="200" stroke="none" fill-opacity="0.85" dx="0.5" dy="-3.6">+</tspan></text>
</g>
</g></svg></div></body></html>
